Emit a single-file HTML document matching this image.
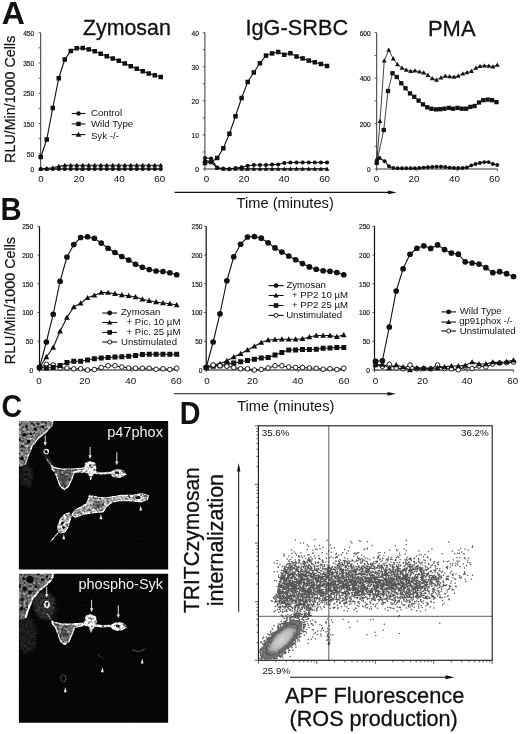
<!DOCTYPE html>
<html><head><meta charset="utf-8"><title>Figure</title>
<style>html,body{margin:0;padding:0;background:#fff}svg{display:block;will-change:transform}text{font-family:"Liberation Sans", Arial, sans-serif;fill:#111}</style>
</head><body>
<svg width="520" height="734" viewBox="0 0 520 734">
<rect width="520" height="734" fill="#fff"/>
<defs>
<filter id="b1" x="-20%" y="-20%" width="140%" height="140%"><feGaussianBlur stdDeviation="0.7"/></filter>
<filter id="b2" x="-20%" y="-20%" width="140%" height="140%"><feGaussianBlur stdDeviation="1.6"/></filter>
<filter id="tx" x="0" y="0" width="100%" height="100%"><feTurbulence type="fractalNoise" baseFrequency="0.55" numOctaves="2" seed="3" result="n"/><feColorMatrix in="n" type="matrix" values="0 0 0 0 1  0 0 0 0 1  0 0 0 0 1  1.6 0 0 0 -0.35" result="m"/><feComposite in="m" in2="SourceGraphic" operator="in"/><feGaussianBlur stdDeviation="0.45"/></filter>
</defs>

<text transform="translate(1.7,23.5) scale(1,1)" font-size="32" font-weight="bold" fill="#000">A</text>
<text transform="translate(0.5,220.2) scale(0.955,1)" font-size="30.7" font-weight="bold" fill="#000">B</text>
<text transform="translate(1.5,416.9) scale(0.92,1)" font-size="31" font-weight="bold" fill="#000">C</text>
<text transform="translate(179.8,424.3) scale(0.94,1)" font-size="30.6" font-weight="bold" fill="#000">D</text>
<path d="M40.7 32.7V169H161" fill="none" stroke="#111" stroke-width="0.85"/>
<path d="M38.5 169H40.7M38.5 153.86H40.7M38.5 138.71H40.7M38.5 123.57H40.7M38.5 108.42H40.7M38.5 93.28H40.7M38.5 78.13H40.7M38.5 62.99H40.7M38.5 47.84H40.7M38.5 32.7H40.7M40.7 169v2.2M80.8 169v2.2M120.9 169v2.2M161 169v2.2" stroke="#222" stroke-width="0.7" fill="none"/>
<text transform="translate(34.2,35.9) scale(1.02,1)" text-anchor="end" font-size="6.5" fill="#111" stroke="#111" stroke-width="0.15">450</text>
<text transform="translate(34.2,66.15) scale(1.02,1)" text-anchor="end" font-size="6.5" fill="#111" stroke="#111" stroke-width="0.15">350</text>
<text transform="translate(34.2,96.4) scale(1.02,1)" text-anchor="end" font-size="6.5" fill="#111" stroke="#111" stroke-width="0.15">250</text>
<text transform="translate(34.2,126.65) scale(1.02,1)" text-anchor="end" font-size="6.5" fill="#111" stroke="#111" stroke-width="0.15">150</text>
<text transform="translate(34.2,156.9) scale(1.02,1)" text-anchor="end" font-size="6.5" fill="#111" stroke="#111" stroke-width="0.15">50</text>
<text transform="translate(34.2,171.7) scale(1.02,1)" text-anchor="end" font-size="6.5" fill="#111" stroke="#111" stroke-width="0.15">0</text>
<text x="40.9" y="182.4" text-anchor="middle" font-size="9.8">0</text>
<text x="79" y="182.4" text-anchor="middle" font-size="9.8">20</text>
<text x="119.2" y="182.4" text-anchor="middle" font-size="9.8">40</text>
<text x="159.7" y="182.4" text-anchor="middle" font-size="9.8">60</text>
<path d="M40.75 168.8L46.75 168.5L52.75 167.7L58.75 166.4L64.75 165.4L70.75 165.2L76.75 165.2L82.75 165.2L88.75 165.2L94.75 165.2L100.75 165.2L106.75 165.2L112.75 165.2L118.75 165.2L124.75 165.2L130.75 165.2L136.75 165.2L142.75 165.2L148.75 165.2L154.75 165.2L160.75 165.2" fill="none" stroke="#111" stroke-width="1.1"/>
<path d="M40.75 166.27L43.28 170.73H38.22Z" fill="#111"/>
<path d="M46.75 165.97L49.28 170.43H44.22Z" fill="#111"/>
<path d="M52.75 165.17L55.28 169.63H50.22Z" fill="#111"/>
<path d="M58.75 163.87L61.28 168.33H56.22Z" fill="#111"/>
<path d="M64.75 162.87L67.28 167.33H62.22Z" fill="#111"/>
<path d="M70.75 162.67L73.28 167.13H68.22Z" fill="#111"/>
<path d="M76.75 162.67L79.28 167.13H74.22Z" fill="#111"/>
<path d="M82.75 162.67L85.28 167.13H80.22Z" fill="#111"/>
<path d="M88.75 162.67L91.28 167.13H86.22Z" fill="#111"/>
<path d="M94.75 162.67L97.28 167.13H92.22Z" fill="#111"/>
<path d="M100.75 162.67L103.28 167.13H98.22Z" fill="#111"/>
<path d="M106.75 162.67L109.28 167.13H104.22Z" fill="#111"/>
<path d="M112.75 162.67L115.28 167.13H110.22Z" fill="#111"/>
<path d="M118.75 162.67L121.28 167.13H116.22Z" fill="#111"/>
<path d="M124.75 162.67L127.28 167.13H122.22Z" fill="#111"/>
<path d="M130.75 162.67L133.28 167.13H128.22Z" fill="#111"/>
<path d="M136.75 162.67L139.28 167.13H134.22Z" fill="#111"/>
<path d="M142.75 162.67L145.28 167.13H140.22Z" fill="#111"/>
<path d="M148.75 162.67L151.28 167.13H146.22Z" fill="#111"/>
<path d="M154.75 162.67L157.28 167.13H152.22Z" fill="#111"/>
<path d="M160.75 162.67L163.28 167.13H158.22Z" fill="#111"/>
<path d="M40.75 169L46.75 169L52.75 169L58.75 169L64.75 169L70.75 169L76.75 169L82.75 169L88.75 169L94.75 169L100.75 169L106.75 169L112.75 169L118.75 169L124.75 169L130.75 169L136.75 169L142.75 169L148.75 169L154.75 169L160.75 169" fill="none" stroke="#111" stroke-width="1.1"/>
<circle cx="40.75" cy="169" r="2.1" fill="#111"/>
<circle cx="46.75" cy="169" r="2.1" fill="#111"/>
<circle cx="52.75" cy="169" r="2.1" fill="#111"/>
<circle cx="58.75" cy="169" r="2.1" fill="#111"/>
<circle cx="64.75" cy="169" r="2.1" fill="#111"/>
<circle cx="70.75" cy="169" r="2.1" fill="#111"/>
<circle cx="76.75" cy="169" r="2.1" fill="#111"/>
<circle cx="82.75" cy="169" r="2.1" fill="#111"/>
<circle cx="88.75" cy="169" r="2.1" fill="#111"/>
<circle cx="94.75" cy="169" r="2.1" fill="#111"/>
<circle cx="100.75" cy="169" r="2.1" fill="#111"/>
<circle cx="106.75" cy="169" r="2.1" fill="#111"/>
<circle cx="112.75" cy="169" r="2.1" fill="#111"/>
<circle cx="118.75" cy="169" r="2.1" fill="#111"/>
<circle cx="124.75" cy="169" r="2.1" fill="#111"/>
<circle cx="130.75" cy="169" r="2.1" fill="#111"/>
<circle cx="136.75" cy="169" r="2.1" fill="#111"/>
<circle cx="142.75" cy="169" r="2.1" fill="#111"/>
<circle cx="148.75" cy="169" r="2.1" fill="#111"/>
<circle cx="154.75" cy="169" r="2.1" fill="#111"/>
<circle cx="160.75" cy="169" r="2.1" fill="#111"/>
<path d="M40.75 157L46.75 139.5L52.75 108L58.75 78.25L64.75 59.5L70.75 51L76.75 48.25L82.75 48L88.75 49.4L94.75 51.25L100.75 53.75L106.75 56.25L112.75 58.5L118.75 60.75L124.75 63.5L130.75 66.25L136.75 68.75L142.75 71.25L148.75 73.5L154.75 75.25L160.75 77" fill="none" stroke="#111" stroke-width="1.1"/>
<rect x="38.5" y="154.75" width="4.5" height="4.5" fill="#111"/>
<rect x="44.5" y="137.25" width="4.5" height="4.5" fill="#111"/>
<rect x="50.5" y="105.75" width="4.5" height="4.5" fill="#111"/>
<rect x="56.5" y="76" width="4.5" height="4.5" fill="#111"/>
<rect x="62.5" y="57.25" width="4.5" height="4.5" fill="#111"/>
<rect x="68.5" y="48.75" width="4.5" height="4.5" fill="#111"/>
<rect x="74.5" y="46" width="4.5" height="4.5" fill="#111"/>
<rect x="80.5" y="45.75" width="4.5" height="4.5" fill="#111"/>
<rect x="86.5" y="47.15" width="4.5" height="4.5" fill="#111"/>
<rect x="92.5" y="49" width="4.5" height="4.5" fill="#111"/>
<rect x="98.5" y="51.5" width="4.5" height="4.5" fill="#111"/>
<rect x="104.5" y="54" width="4.5" height="4.5" fill="#111"/>
<rect x="110.5" y="56.25" width="4.5" height="4.5" fill="#111"/>
<rect x="116.5" y="58.5" width="4.5" height="4.5" fill="#111"/>
<rect x="122.5" y="61.25" width="4.5" height="4.5" fill="#111"/>
<rect x="128.5" y="64" width="4.5" height="4.5" fill="#111"/>
<rect x="134.5" y="66.5" width="4.5" height="4.5" fill="#111"/>
<rect x="140.5" y="69" width="4.5" height="4.5" fill="#111"/>
<rect x="146.5" y="71.25" width="4.5" height="4.5" fill="#111"/>
<rect x="152.5" y="73" width="4.5" height="4.5" fill="#111"/>
<rect x="158.5" y="74.75" width="4.5" height="4.5" fill="#111"/>
<path d="M71.7 113.5H85.3" stroke="#111" stroke-width="1.1"/>
<circle cx="78.5" cy="113.5" r="2.2" fill="#111"/>
<text x="90.9" y="115.8" font-size="9.7">Control</text>
<path d="M71.7 123.9H85.3" stroke="#111" stroke-width="1.1"/>
<rect x="76.3" y="121.7" width="4.4" height="4.4" fill="#111"/>
<text x="90.9" y="126.5" font-size="9.7">Wild Type</text>
<path d="M71.7 134.6H85.3" stroke="#111" stroke-width="1.1"/>
<path d="M78.5 131.85L81.25 136.7H75.75Z" fill="#111"/>
<text x="90.9" y="138.7" font-size="9.7">Syk -/-</text>
<path d="M204.9 32.7V169H327.5" fill="none" stroke="#111" stroke-width="0.85"/>
<path d="M202.7 169H204.9M202.7 151.96H204.9M202.7 134.93H204.9M202.7 117.89H204.9M202.7 100.85H204.9M202.7 83.81H204.9M202.7 66.77H204.9M202.7 49.74H204.9M202.7 32.7H204.9M204.9 169v2.2M245.77 169v2.2M286.63 169v2.2M327.5 169v2.2" stroke="#222" stroke-width="0.7" fill="none"/>
<text transform="translate(198.9,36) scale(1.02,1)" text-anchor="end" font-size="6.5" fill="#111" stroke="#111" stroke-width="0.15">40</text>
<text transform="translate(198.9,70.05) scale(1.02,1)" text-anchor="end" font-size="6.5" fill="#111" stroke="#111" stroke-width="0.15">30</text>
<text transform="translate(198.9,104.1) scale(1.02,1)" text-anchor="end" font-size="6.5" fill="#111" stroke="#111" stroke-width="0.15">20</text>
<text transform="translate(198.9,138.15) scale(1.02,1)" text-anchor="end" font-size="6.5" fill="#111" stroke="#111" stroke-width="0.15">10</text>
<text transform="translate(198.9,172.2) scale(1.02,1)" text-anchor="end" font-size="6.5" fill="#111" stroke="#111" stroke-width="0.15">0</text>
<text x="206.6" y="182.4" text-anchor="middle" font-size="9.8">0</text>
<text x="244" y="182.4" text-anchor="middle" font-size="9.8">20</text>
<text x="283.9" y="182.4" text-anchor="middle" font-size="9.8">40</text>
<text x="324.6" y="182.4" text-anchor="middle" font-size="9.8">60</text>
<path d="M205 160L211.1 162L217.2 168L223.3 168.8L229.4 168.8L235.5 168.8L241.6 168.8L247.7 168.8L253.8 168.8L259.9 168.8L266 168.8L272.1 168.8L278.2 168.8L284.3 168.8L290.4 168.8L296.5 168.8L302.6 168.8L308.7 168.8L314.8 168.8L320.9 168.8L327 168.8" fill="none" stroke="#111" stroke-width="1.1"/>
<path d="M205 157.58L207.42 161.85H202.58Z" fill="#111"/>
<path d="M211.1 159.58L213.52 163.85H208.68Z" fill="#111"/>
<path d="M217.2 165.58L219.62 169.85H214.78Z" fill="#111"/>
<path d="M223.3 166.38L225.72 170.65H220.88Z" fill="#111"/>
<path d="M229.4 166.38L231.82 170.65H226.98Z" fill="#111"/>
<path d="M235.5 166.38L237.92 170.65H233.08Z" fill="#111"/>
<path d="M241.6 166.38L244.02 170.65H239.18Z" fill="#111"/>
<path d="M247.7 166.38L250.12 170.65H245.28Z" fill="#111"/>
<path d="M253.8 166.38L256.22 170.65H251.38Z" fill="#111"/>
<path d="M259.9 166.38L262.32 170.65H257.48Z" fill="#111"/>
<path d="M266 166.38L268.42 170.65H263.58Z" fill="#111"/>
<path d="M272.1 166.38L274.52 170.65H269.68Z" fill="#111"/>
<path d="M278.2 166.38L280.62 170.65H275.78Z" fill="#111"/>
<path d="M284.3 166.38L286.72 170.65H281.88Z" fill="#111"/>
<path d="M290.4 166.38L292.82 170.65H287.98Z" fill="#111"/>
<path d="M296.5 166.38L298.92 170.65H294.08Z" fill="#111"/>
<path d="M302.6 166.38L305.02 170.65H300.18Z" fill="#111"/>
<path d="M308.7 166.38L311.12 170.65H306.28Z" fill="#111"/>
<path d="M314.8 166.38L317.22 170.65H312.38Z" fill="#111"/>
<path d="M320.9 166.38L323.32 170.65H318.48Z" fill="#111"/>
<path d="M327 166.38L329.42 170.65H324.58Z" fill="#111"/>
<path d="M205 158L211.1 158.5L217.2 167.7L223.3 168.5L229.4 169L235.5 168L241.6 167.4L247.7 165.8L253.8 165L259.9 165L266 165L272.1 164.6L278.2 164.5L284.3 163L290.4 162.5L296.5 162.5L302.6 162.5L308.7 162.5L314.8 162.5L320.9 162.5L327 162.5" fill="none" stroke="#111" stroke-width="1.1"/>
<circle cx="205" cy="158" r="2.1" fill="#111"/>
<circle cx="211.1" cy="158.5" r="2.1" fill="#111"/>
<circle cx="217.2" cy="167.7" r="2.1" fill="#111"/>
<circle cx="223.3" cy="168.5" r="2.1" fill="#111"/>
<circle cx="229.4" cy="169" r="2.1" fill="#111"/>
<circle cx="235.5" cy="168" r="2.1" fill="#111"/>
<circle cx="241.6" cy="167.4" r="2.1" fill="#111"/>
<circle cx="247.7" cy="165.8" r="2.1" fill="#111"/>
<circle cx="253.8" cy="165" r="2.1" fill="#111"/>
<circle cx="259.9" cy="165" r="2.1" fill="#111"/>
<circle cx="266" cy="165" r="2.1" fill="#111"/>
<circle cx="272.1" cy="164.6" r="2.1" fill="#111"/>
<circle cx="278.2" cy="164.5" r="2.1" fill="#111"/>
<circle cx="284.3" cy="163" r="2.1" fill="#111"/>
<circle cx="290.4" cy="162.5" r="2.1" fill="#111"/>
<circle cx="296.5" cy="162.5" r="2.1" fill="#111"/>
<circle cx="302.6" cy="162.5" r="2.1" fill="#111"/>
<circle cx="308.7" cy="162.5" r="2.1" fill="#111"/>
<circle cx="314.8" cy="162.5" r="2.1" fill="#111"/>
<circle cx="320.9" cy="162.5" r="2.1" fill="#111"/>
<circle cx="327" cy="162.5" r="2.1" fill="#111"/>
<path d="M205 163L211.1 162L217.2 158L223.3 148.25L229.4 133.75L235.5 116.25L241.6 98L247.7 82L253.8 72.5L259.9 63.25L266 55.6L272.1 53.4L278.2 52L284.3 54.75L290.4 53.25L296.5 56.5L302.6 58.4L308.7 60.6L314.8 62.25L320.9 64L327 66" fill="none" stroke="#111" stroke-width="1.1"/>
<rect x="202.75" y="160.75" width="4.5" height="4.5" fill="#111"/>
<rect x="208.85" y="159.75" width="4.5" height="4.5" fill="#111"/>
<rect x="214.95" y="155.75" width="4.5" height="4.5" fill="#111"/>
<rect x="221.05" y="146" width="4.5" height="4.5" fill="#111"/>
<rect x="227.15" y="131.5" width="4.5" height="4.5" fill="#111"/>
<rect x="233.25" y="114" width="4.5" height="4.5" fill="#111"/>
<rect x="239.35" y="95.75" width="4.5" height="4.5" fill="#111"/>
<rect x="245.45" y="79.75" width="4.5" height="4.5" fill="#111"/>
<rect x="251.55" y="70.25" width="4.5" height="4.5" fill="#111"/>
<rect x="257.65" y="61" width="4.5" height="4.5" fill="#111"/>
<rect x="263.75" y="53.35" width="4.5" height="4.5" fill="#111"/>
<rect x="269.85" y="51.15" width="4.5" height="4.5" fill="#111"/>
<rect x="275.95" y="49.75" width="4.5" height="4.5" fill="#111"/>
<rect x="282.05" y="52.5" width="4.5" height="4.5" fill="#111"/>
<rect x="288.15" y="51" width="4.5" height="4.5" fill="#111"/>
<rect x="294.25" y="54.25" width="4.5" height="4.5" fill="#111"/>
<rect x="300.35" y="56.15" width="4.5" height="4.5" fill="#111"/>
<rect x="306.45" y="58.35" width="4.5" height="4.5" fill="#111"/>
<rect x="312.55" y="60" width="4.5" height="4.5" fill="#111"/>
<rect x="318.65" y="61.75" width="4.5" height="4.5" fill="#111"/>
<rect x="324.75" y="63.75" width="4.5" height="4.5" fill="#111"/>
<path d="M376.7 32.7V169H497.4" fill="none" stroke="#111" stroke-width="0.85"/>
<path d="M374.5 169H376.7M374.5 146.28H376.7M374.5 123.57H376.7M374.5 100.85H376.7M374.5 78.13H376.7M374.5 55.42H376.7M374.5 32.7H376.7M376.7 169v2.2M416.93 169v2.2M457.17 169v2.2M497.4 169v2.2" stroke="#222" stroke-width="0.7" fill="none"/>
<text transform="translate(370.7,36) scale(1.02,1)" text-anchor="end" font-size="6.5" fill="#111" stroke="#111" stroke-width="0.15">600</text>
<text transform="translate(370.7,81.4) scale(1.02,1)" text-anchor="end" font-size="6.5" fill="#111" stroke="#111" stroke-width="0.15">400</text>
<text transform="translate(370.7,126.8) scale(1.02,1)" text-anchor="end" font-size="6.5" fill="#111" stroke="#111" stroke-width="0.15">200</text>
<text transform="translate(370.7,172.2) scale(1.02,1)" text-anchor="end" font-size="6.5" fill="#111" stroke="#111" stroke-width="0.15">0</text>
<text x="376.6" y="182.4" text-anchor="middle" font-size="9.8">0</text>
<text x="414" y="182.4" text-anchor="middle" font-size="9.8">20</text>
<text x="454.4" y="182.4" text-anchor="middle" font-size="9.8">40</text>
<text x="494.5" y="182.4" text-anchor="middle" font-size="9.8">60</text>
<path d="M376.9 160L379.5 158L384.66 161.25L388.99 166.25L393.32 168L397.65 168.3L401.98 168.3L406.31 168.3L410.64 168.3L414.97 168.2L419.3 168L423.63 167.6L427.96 167.2L432.29 167L436.62 166.8L440.95 166.8L445.28 167L449.61 167.6L453.94 168L458.27 168L462.6 168L466.93 167.4L471.26 165.4L475.59 164L479.92 163L484.25 162.1L488.58 162.1L492.91 164L497.24 165" fill="none" stroke="#111" stroke-width="1.1"/>
<circle cx="376.9" cy="160" r="1.95" fill="#111"/>
<circle cx="379.5" cy="158" r="1.95" fill="#111"/>
<circle cx="384.66" cy="161.25" r="1.95" fill="#111"/>
<circle cx="388.99" cy="166.25" r="1.95" fill="#111"/>
<circle cx="393.32" cy="168" r="1.95" fill="#111"/>
<circle cx="397.65" cy="168.3" r="1.95" fill="#111"/>
<circle cx="401.98" cy="168.3" r="1.95" fill="#111"/>
<circle cx="406.31" cy="168.3" r="1.95" fill="#111"/>
<circle cx="410.64" cy="168.3" r="1.95" fill="#111"/>
<circle cx="414.97" cy="168.2" r="1.95" fill="#111"/>
<circle cx="419.3" cy="168" r="1.95" fill="#111"/>
<circle cx="423.63" cy="167.6" r="1.95" fill="#111"/>
<circle cx="427.96" cy="167.2" r="1.95" fill="#111"/>
<circle cx="432.29" cy="167" r="1.95" fill="#111"/>
<circle cx="436.62" cy="166.8" r="1.95" fill="#111"/>
<circle cx="440.95" cy="166.8" r="1.95" fill="#111"/>
<circle cx="445.28" cy="167" r="1.95" fill="#111"/>
<circle cx="449.61" cy="167.6" r="1.95" fill="#111"/>
<circle cx="453.94" cy="168" r="1.95" fill="#111"/>
<circle cx="458.27" cy="168" r="1.95" fill="#111"/>
<circle cx="462.6" cy="168" r="1.95" fill="#111"/>
<circle cx="466.93" cy="167.4" r="1.95" fill="#111"/>
<circle cx="471.26" cy="165.4" r="1.95" fill="#111"/>
<circle cx="475.59" cy="164" r="1.95" fill="#111"/>
<circle cx="479.92" cy="163" r="1.95" fill="#111"/>
<circle cx="484.25" cy="162.1" r="1.95" fill="#111"/>
<circle cx="488.58" cy="162.1" r="1.95" fill="#111"/>
<circle cx="492.91" cy="164" r="1.95" fill="#111"/>
<circle cx="497.24" cy="165" r="1.95" fill="#111"/>
<path d="M376.75 163L380 121.25L384.25 60.75L388.75 50L393.25 58.75L397.5 64.5L402 68L406.25 70L410.75 71.25L415 70.75L419.5 71.75L423.75 72.6L428 75.2L432.3 78.4L436.5 79.8L441 77.6L445.2 76L449.6 76.5L454 77L458.2 76L462.8 73.6L467 72.5L471.5 71.1L475.9 68L480 66.2L484.4 65.6L488.8 65.8L493 66.7L497.3 64.8" fill="none" stroke="#111" stroke-width="0.8"/>
<path d="M376.75 160.58L379.17 164.85H374.33Z" fill="#111"/>
<path d="M380 118.83L382.42 123.1H377.58Z" fill="#111"/>
<path d="M384.25 58.33L386.67 62.6H381.83Z" fill="#111"/>
<path d="M388.75 47.58L391.17 51.85H386.33Z" fill="#111"/>
<path d="M393.25 56.33L395.67 60.6H390.83Z" fill="#111"/>
<path d="M397.5 62.08L399.92 66.35H395.08Z" fill="#111"/>
<path d="M402 65.58L404.42 69.85H399.58Z" fill="#111"/>
<path d="M406.25 67.58L408.67 71.85H403.83Z" fill="#111"/>
<path d="M410.75 68.83L413.17 73.1H408.33Z" fill="#111"/>
<path d="M415 68.33L417.42 72.6H412.58Z" fill="#111"/>
<path d="M419.5 69.33L421.92 73.6H417.08Z" fill="#111"/>
<path d="M423.75 70.18L426.17 74.45H421.33Z" fill="#111"/>
<path d="M428 72.78L430.42 77.05H425.58Z" fill="#111"/>
<path d="M432.3 75.98L434.72 80.25H429.88Z" fill="#111"/>
<path d="M436.5 77.38L438.92 81.65H434.08Z" fill="#111"/>
<path d="M441 75.18L443.42 79.45H438.58Z" fill="#111"/>
<path d="M445.2 73.58L447.62 77.85H442.78Z" fill="#111"/>
<path d="M449.6 74.08L452.02 78.35H447.18Z" fill="#111"/>
<path d="M454 74.58L456.42 78.85H451.58Z" fill="#111"/>
<path d="M458.2 73.58L460.62 77.85H455.78Z" fill="#111"/>
<path d="M462.8 71.18L465.22 75.45H460.38Z" fill="#111"/>
<path d="M467 70.08L469.42 74.35H464.58Z" fill="#111"/>
<path d="M471.5 68.68L473.92 72.95H469.08Z" fill="#111"/>
<path d="M475.9 65.58L478.32 69.85H473.48Z" fill="#111"/>
<path d="M480 63.78L482.42 68.05H477.58Z" fill="#111"/>
<path d="M484.4 63.18L486.82 67.45H481.98Z" fill="#111"/>
<path d="M488.8 63.38L491.22 67.65H486.38Z" fill="#111"/>
<path d="M493 64.28L495.42 68.55H490.58Z" fill="#111"/>
<path d="M497.3 62.38L499.72 66.65H494.88Z" fill="#111"/>
<path d="M376.75 162.5L383.75 130L388 91L392.5 73.25L396.75 77L401.25 83.25L405.5 88.25L410 93.4L414.25 96.8L418.6 100.6L423 104.4L427.3 107.3L431.5 108.8L436 109.4L440.2 109.2L444.4 108.7L448.8 107.9L453 108.7L457.5 107.9L461.7 108.7L466.2 108.7L470.4 106.9L474.6 106L479 102.5L483.3 100.2L487.7 99.6L492.1 100.2L496.5 102.1" fill="none" stroke="#111" stroke-width="0.8"/>
<rect x="374.6" y="160.35" width="4.3" height="4.3" fill="#111"/>
<rect x="381.6" y="127.85" width="4.3" height="4.3" fill="#111"/>
<rect x="385.85" y="88.85" width="4.3" height="4.3" fill="#111"/>
<rect x="390.35" y="71.1" width="4.3" height="4.3" fill="#111"/>
<rect x="394.6" y="74.85" width="4.3" height="4.3" fill="#111"/>
<rect x="399.1" y="81.1" width="4.3" height="4.3" fill="#111"/>
<rect x="403.35" y="86.1" width="4.3" height="4.3" fill="#111"/>
<rect x="407.85" y="91.25" width="4.3" height="4.3" fill="#111"/>
<rect x="412.1" y="94.65" width="4.3" height="4.3" fill="#111"/>
<rect x="416.45" y="98.45" width="4.3" height="4.3" fill="#111"/>
<rect x="420.85" y="102.25" width="4.3" height="4.3" fill="#111"/>
<rect x="425.15" y="105.15" width="4.3" height="4.3" fill="#111"/>
<rect x="429.35" y="106.65" width="4.3" height="4.3" fill="#111"/>
<rect x="433.85" y="107.25" width="4.3" height="4.3" fill="#111"/>
<rect x="438.05" y="107.05" width="4.3" height="4.3" fill="#111"/>
<rect x="442.25" y="106.55" width="4.3" height="4.3" fill="#111"/>
<rect x="446.65" y="105.75" width="4.3" height="4.3" fill="#111"/>
<rect x="450.85" y="106.55" width="4.3" height="4.3" fill="#111"/>
<rect x="455.35" y="105.75" width="4.3" height="4.3" fill="#111"/>
<rect x="459.55" y="106.55" width="4.3" height="4.3" fill="#111"/>
<rect x="464.05" y="106.55" width="4.3" height="4.3" fill="#111"/>
<rect x="468.25" y="104.75" width="4.3" height="4.3" fill="#111"/>
<rect x="472.45" y="103.85" width="4.3" height="4.3" fill="#111"/>
<rect x="476.85" y="100.35" width="4.3" height="4.3" fill="#111"/>
<rect x="481.15" y="98.05" width="4.3" height="4.3" fill="#111"/>
<rect x="485.55" y="97.45" width="4.3" height="4.3" fill="#111"/>
<rect x="489.95" y="98.05" width="4.3" height="4.3" fill="#111"/>
<rect x="494.35" y="99.95" width="4.3" height="4.3" fill="#111"/>
<text x="83" y="35.3" font-size="21.3" textLength="87.8" lengthAdjust="spacingAndGlyphs" stroke="#111" stroke-width="0.3">Zymosan</text>
<text x="245.5" y="35.3" font-size="21.3" textLength="102.6" lengthAdjust="spacingAndGlyphs" stroke="#111" stroke-width="0.3">IgG-SRBC</text>
<text x="428" y="36.4" font-size="21.3" textLength="47.5" lengthAdjust="spacingAndGlyphs" stroke="#111" stroke-width="0.3">PMA</text>
<text transform="translate(15.1,162.9) rotate(-90)" font-size="15.1" textLength="127.2" lengthAdjust="spacingAndGlyphs" stroke="#111" stroke-width="0.2">RLU/Min/1000 Cells</text>
<text transform="translate(15.1,364.2) rotate(-90)" font-size="15.1" textLength="127.2" lengthAdjust="spacingAndGlyphs" stroke="#111" stroke-width="0.2">RLU/Min/1000 Cells</text>
<path d="M174.6 192.4H389.1" stroke="#111" stroke-width="1.1"/>
<path d="M396.6 192.4L388.1 190.5V194.3Z" fill="#111"/>
<path d="M174 393.8H388.5" stroke="#111" stroke-width="1.1"/>
<path d="M396 393.8L387.5 391.9V395.7Z" fill="#111"/>
<text x="236.6" y="207.8" font-size="14.5" textLength="97.2" lengthAdjust="spacingAndGlyphs">Time (minutes)</text>
<text x="237.2" y="410.6" font-size="14.5" textLength="97.2" lengthAdjust="spacingAndGlyphs">Time (minutes)</text>
<path d="M39.5 226.3V370H177" fill="none" stroke="#111" stroke-width="1.2"/>
<path d="M37.3 370H39.5M37.3 341.26H39.5M37.3 312.52H39.5M37.3 283.78H39.5M37.3 255.04H39.5M37.3 226.3H39.5M39.5 370v2.2M85.33 370v2.2M131.17 370v2.2M177 370v2.2" stroke="#222" stroke-width="0.7" fill="none"/>
<text transform="translate(33.2,229.2) scale(1.02,1)" text-anchor="end" font-size="6.5" fill="#111" stroke="#111" stroke-width="0.15">250</text>
<text transform="translate(33.2,257.92) scale(1.02,1)" text-anchor="end" font-size="6.5" fill="#111" stroke="#111" stroke-width="0.15">200</text>
<text transform="translate(33.2,286.64) scale(1.02,1)" text-anchor="end" font-size="6.5" fill="#111" stroke="#111" stroke-width="0.15">150</text>
<text transform="translate(33.2,315.36) scale(1.02,1)" text-anchor="end" font-size="6.5" fill="#111" stroke="#111" stroke-width="0.15">100</text>
<text transform="translate(33.2,344.08) scale(1.02,1)" text-anchor="end" font-size="6.5" fill="#111" stroke="#111" stroke-width="0.15">50</text>
<text transform="translate(33.2,372.8) scale(1.02,1)" text-anchor="end" font-size="6.5" fill="#111" stroke="#111" stroke-width="0.15">0</text>
<text x="39.1" y="384.2" text-anchor="middle" font-size="9.8">0</text>
<text x="84.8" y="384.2" text-anchor="middle" font-size="9.8">20</text>
<text x="130.7" y="384.2" text-anchor="middle" font-size="9.8">40</text>
<text x="176.3" y="384.2" text-anchor="middle" font-size="9.8">60</text>
<path d="M39.5 367.5L46.36 364.25L53.22 365L60.08 368L66.94 368L73.8 368.75L80.66 368.75L87.52 370L94.38 369.5L101.24 367.5L108.1 365.75L114.96 365.75L121.82 367L128.68 368L135.54 368.25L142.4 368.25L149.26 368.25L156.12 369.25L162.98 368.75L169.84 369.5L176.7 368.25" fill="none" stroke="#111" stroke-width="1.1"/>
<circle cx="39.5" cy="367.5" r="2.3" fill="#fff" stroke="#111" stroke-width="0.95"/>
<circle cx="46.36" cy="364.25" r="2.3" fill="#fff" stroke="#111" stroke-width="0.95"/>
<circle cx="53.22" cy="365" r="2.3" fill="#fff" stroke="#111" stroke-width="0.95"/>
<circle cx="60.08" cy="368" r="2.3" fill="#fff" stroke="#111" stroke-width="0.95"/>
<circle cx="66.94" cy="368" r="2.3" fill="#fff" stroke="#111" stroke-width="0.95"/>
<circle cx="73.8" cy="368.75" r="2.3" fill="#fff" stroke="#111" stroke-width="0.95"/>
<circle cx="80.66" cy="368.75" r="2.3" fill="#fff" stroke="#111" stroke-width="0.95"/>
<circle cx="87.52" cy="370" r="2.3" fill="#fff" stroke="#111" stroke-width="0.95"/>
<circle cx="94.38" cy="369.5" r="2.3" fill="#fff" stroke="#111" stroke-width="0.95"/>
<circle cx="101.24" cy="367.5" r="2.3" fill="#fff" stroke="#111" stroke-width="0.95"/>
<circle cx="108.1" cy="365.75" r="2.3" fill="#fff" stroke="#111" stroke-width="0.95"/>
<circle cx="114.96" cy="365.75" r="2.3" fill="#fff" stroke="#111" stroke-width="0.95"/>
<circle cx="121.82" cy="367" r="2.3" fill="#fff" stroke="#111" stroke-width="0.95"/>
<circle cx="128.68" cy="368" r="2.3" fill="#fff" stroke="#111" stroke-width="0.95"/>
<circle cx="135.54" cy="368.25" r="2.3" fill="#fff" stroke="#111" stroke-width="0.95"/>
<circle cx="142.4" cy="368.25" r="2.3" fill="#fff" stroke="#111" stroke-width="0.95"/>
<circle cx="149.26" cy="368.25" r="2.3" fill="#fff" stroke="#111" stroke-width="0.95"/>
<circle cx="156.12" cy="369.25" r="2.3" fill="#fff" stroke="#111" stroke-width="0.95"/>
<circle cx="162.98" cy="368.75" r="2.3" fill="#fff" stroke="#111" stroke-width="0.95"/>
<circle cx="169.84" cy="369.5" r="2.3" fill="#fff" stroke="#111" stroke-width="0.95"/>
<circle cx="176.7" cy="368.25" r="2.3" fill="#fff" stroke="#111" stroke-width="0.95"/>
<path d="M39.5 367.5L46.36 368L53.22 367.5L60.08 365.5L66.94 362.5L73.8 361.25L80.66 361.25L87.52 360L94.38 358.75L101.24 358L108.1 357.5L114.96 357L121.82 356.75L128.68 356.25L135.54 355.5L142.4 354.5L149.26 354.25L156.12 354.25L162.98 354.25L169.84 354.25L176.7 354.25" fill="none" stroke="#111" stroke-width="1.1"/>
<rect x="37" y="365" width="5" height="5" fill="#111"/>
<rect x="43.86" y="365.5" width="5" height="5" fill="#111"/>
<rect x="50.72" y="365" width="5" height="5" fill="#111"/>
<rect x="57.58" y="363" width="5" height="5" fill="#111"/>
<rect x="64.44" y="360" width="5" height="5" fill="#111"/>
<rect x="71.3" y="358.75" width="5" height="5" fill="#111"/>
<rect x="78.16" y="358.75" width="5" height="5" fill="#111"/>
<rect x="85.02" y="357.5" width="5" height="5" fill="#111"/>
<rect x="91.88" y="356.25" width="5" height="5" fill="#111"/>
<rect x="98.74" y="355.5" width="5" height="5" fill="#111"/>
<rect x="105.6" y="355" width="5" height="5" fill="#111"/>
<rect x="112.46" y="354.5" width="5" height="5" fill="#111"/>
<rect x="119.32" y="354.25" width="5" height="5" fill="#111"/>
<rect x="126.18" y="353.75" width="5" height="5" fill="#111"/>
<rect x="133.04" y="353" width="5" height="5" fill="#111"/>
<rect x="139.9" y="352" width="5" height="5" fill="#111"/>
<rect x="146.76" y="351.75" width="5" height="5" fill="#111"/>
<rect x="153.62" y="351.75" width="5" height="5" fill="#111"/>
<rect x="160.48" y="351.75" width="5" height="5" fill="#111"/>
<rect x="167.34" y="351.75" width="5" height="5" fill="#111"/>
<rect x="174.2" y="351.75" width="5" height="5" fill="#111"/>
<path d="M39.5 367.5L46.36 357L53.22 347.5L60.08 331.25L66.94 317.5L73.8 307L80.66 303.25L87.52 297.8L94.38 295.3L101.24 292.5L108.1 292.6L114.96 293.75L121.82 295L128.68 295.7L135.54 297L142.4 299.25L149.26 300.75L156.12 302L162.98 303L169.84 303.75L176.7 305" fill="none" stroke="#111" stroke-width="1.1"/>
<path d="M39.5 364.58L42.41 369.73H36.59Z" fill="#111"/>
<path d="M46.36 354.08L49.27 359.23H43.45Z" fill="#111"/>
<path d="M53.22 344.58L56.13 349.73H50.3Z" fill="#111"/>
<path d="M60.08 328.33L62.99 333.48H57.16Z" fill="#111"/>
<path d="M66.94 314.58L69.86 319.73H64.02Z" fill="#111"/>
<path d="M73.8 304.08L76.72 309.23H70.89Z" fill="#111"/>
<path d="M80.66 300.33L83.58 305.48H77.74Z" fill="#111"/>
<path d="M87.52 294.88L90.44 300.03H84.61Z" fill="#111"/>
<path d="M94.38 292.38L97.3 297.53H91.46Z" fill="#111"/>
<path d="M101.24 289.58L104.16 294.73H98.33Z" fill="#111"/>
<path d="M108.1 289.69L111.02 294.83H105.19Z" fill="#111"/>
<path d="M114.96 290.83L117.88 295.98H112.05Z" fill="#111"/>
<path d="M121.82 292.08L124.74 297.23H118.91Z" fill="#111"/>
<path d="M128.68 292.78L131.59 297.93H125.77Z" fill="#111"/>
<path d="M135.54 294.08L138.46 299.23H132.63Z" fill="#111"/>
<path d="M142.4 296.33L145.31 301.48H139.49Z" fill="#111"/>
<path d="M149.26 297.83L152.17 302.98H146.34Z" fill="#111"/>
<path d="M156.12 299.08L159.03 304.23H153.21Z" fill="#111"/>
<path d="M162.98 300.08L165.9 305.23H160.07Z" fill="#111"/>
<path d="M169.84 300.83L172.75 305.98H166.93Z" fill="#111"/>
<path d="M176.7 302.08L179.62 307.23H173.79Z" fill="#111"/>
<path d="M39.5 367.5L46.36 342L53.22 314.25L60.08 281.25L66.94 257L73.8 244.5L80.66 237.5L87.52 236.75L94.38 238.25L101.24 243.1L108.1 248.25L114.96 252.5L121.82 256.5L128.68 260L135.54 264.25L142.4 267.25L149.26 269.5L156.12 271L162.98 271.5L169.84 272.75L176.7 274.75" fill="none" stroke="#111" stroke-width="1.1"/>
<circle cx="39.5" cy="367.5" r="2.85" fill="#111"/>
<circle cx="46.36" cy="342" r="2.85" fill="#111"/>
<circle cx="53.22" cy="314.25" r="2.85" fill="#111"/>
<circle cx="60.08" cy="281.25" r="2.85" fill="#111"/>
<circle cx="66.94" cy="257" r="2.85" fill="#111"/>
<circle cx="73.8" cy="244.5" r="2.85" fill="#111"/>
<circle cx="80.66" cy="237.5" r="2.85" fill="#111"/>
<circle cx="87.52" cy="236.75" r="2.85" fill="#111"/>
<circle cx="94.38" cy="238.25" r="2.85" fill="#111"/>
<circle cx="101.24" cy="243.1" r="2.85" fill="#111"/>
<circle cx="108.1" cy="248.25" r="2.85" fill="#111"/>
<circle cx="114.96" cy="252.5" r="2.85" fill="#111"/>
<circle cx="121.82" cy="256.5" r="2.85" fill="#111"/>
<circle cx="128.68" cy="260" r="2.85" fill="#111"/>
<circle cx="135.54" cy="264.25" r="2.85" fill="#111"/>
<circle cx="142.4" cy="267.25" r="2.85" fill="#111"/>
<circle cx="149.26" cy="269.5" r="2.85" fill="#111"/>
<circle cx="156.12" cy="271" r="2.85" fill="#111"/>
<circle cx="162.98" cy="271.5" r="2.85" fill="#111"/>
<circle cx="169.84" cy="272.75" r="2.85" fill="#111"/>
<circle cx="176.7" cy="274.75" r="2.85" fill="#111"/>
<path d="M102.3 313H117.1" stroke="#111" stroke-width="1.1"/>
<circle cx="109.7" cy="313" r="2.4" fill="#111"/>
<text x="121" y="315.2" font-size="9.6">Zymosan</text>
<path d="M102.3 322.5H117.1" stroke="#111" stroke-width="1.1"/>
<path d="M109.7 319.86L112.34 324.52H107.06Z" fill="#111"/>
<text x="126.6" y="325.4" font-size="9.6">+ Pic. 10 µM</text>
<path d="M102.3 332.4H117.1" stroke="#111" stroke-width="1.1"/>
<rect x="107.4" y="330.1" width="4.6" height="4.6" fill="#111"/>
<text x="126.6" y="335.1" font-size="9.6">+ Pic. 25 µM</text>
<path d="M102.3 342H117.1" stroke="#111" stroke-width="1.1"/>
<circle cx="109.7" cy="342" r="2" fill="#fff" stroke="#111" stroke-width="0.95"/>
<text x="121" y="345" font-size="9.6">Unstimulated</text>
<path d="M206.2 226.3V370H344" fill="none" stroke="#111" stroke-width="1.2"/>
<path d="M204 370H206.2M204 341.26H206.2M204 312.52H206.2M204 283.78H206.2M204 255.04H206.2M204 226.3H206.2M206.2 370v2.2M252.13 370v2.2M298.07 370v2.2M344 370v2.2" stroke="#222" stroke-width="0.7" fill="none"/>
<text transform="translate(202.5,229.2) scale(1.02,1)" text-anchor="end" font-size="6.5" fill="#111" stroke="#111" stroke-width="0.15">250</text>
<text transform="translate(202.5,257.92) scale(1.02,1)" text-anchor="end" font-size="6.5" fill="#111" stroke="#111" stroke-width="0.15">200</text>
<text transform="translate(202.5,286.64) scale(1.02,1)" text-anchor="end" font-size="6.5" fill="#111" stroke="#111" stroke-width="0.15">150</text>
<text transform="translate(202.5,315.36) scale(1.02,1)" text-anchor="end" font-size="6.5" fill="#111" stroke="#111" stroke-width="0.15">100</text>
<text transform="translate(202.5,344.08) scale(1.02,1)" text-anchor="end" font-size="6.5" fill="#111" stroke="#111" stroke-width="0.15">50</text>
<text transform="translate(202.5,372.8) scale(1.02,1)" text-anchor="end" font-size="6.5" fill="#111" stroke="#111" stroke-width="0.15">0</text>
<text x="207" y="384.2" text-anchor="middle" font-size="9.8">0</text>
<text x="252.5" y="384.2" text-anchor="middle" font-size="9.8">20</text>
<text x="297.8" y="384.2" text-anchor="middle" font-size="9.8">40</text>
<text x="344" y="384.2" text-anchor="middle" font-size="9.8">60</text>
<path d="M206.25 367.5L213.12 366.25L220 365.75L226.88 364.25L233.75 363L240.62 361.75L247.5 360.5L254.38 359.25L261.25 358L268.12 357.5L275 355L281.88 352.5L288.75 350L295.62 350L302.5 349.5L309.38 349.5L316.25 349.25L323.12 348.25L330 348L336.88 347.5L343.75 347.5" fill="none" stroke="#111" stroke-width="1.1"/>
<rect x="203.75" y="365" width="5" height="5" fill="#111"/>
<rect x="210.62" y="363.75" width="5" height="5" fill="#111"/>
<rect x="217.5" y="363.25" width="5" height="5" fill="#111"/>
<rect x="224.38" y="361.75" width="5" height="5" fill="#111"/>
<rect x="231.25" y="360.5" width="5" height="5" fill="#111"/>
<rect x="238.12" y="359.25" width="5" height="5" fill="#111"/>
<rect x="245" y="358" width="5" height="5" fill="#111"/>
<rect x="251.88" y="356.75" width="5" height="5" fill="#111"/>
<rect x="258.75" y="355.5" width="5" height="5" fill="#111"/>
<rect x="265.62" y="355" width="5" height="5" fill="#111"/>
<rect x="272.5" y="352.5" width="5" height="5" fill="#111"/>
<rect x="279.38" y="350" width="5" height="5" fill="#111"/>
<rect x="286.25" y="347.5" width="5" height="5" fill="#111"/>
<rect x="293.12" y="347.5" width="5" height="5" fill="#111"/>
<rect x="300" y="347" width="5" height="5" fill="#111"/>
<rect x="306.88" y="347" width="5" height="5" fill="#111"/>
<rect x="313.75" y="346.75" width="5" height="5" fill="#111"/>
<rect x="320.62" y="345.75" width="5" height="5" fill="#111"/>
<rect x="327.5" y="345.5" width="5" height="5" fill="#111"/>
<rect x="334.38" y="345" width="5" height="5" fill="#111"/>
<rect x="341.25" y="345" width="5" height="5" fill="#111"/>
<path d="M206.25 367.5L213.12 365L220 363.75L226.88 360.75L233.75 357L240.62 353.75L247.5 350L254.38 346.25L261.25 342.5L268.12 340L275 339.5L281.88 339.25L288.75 339.25L295.62 339.25L302.5 338.75L309.38 337L316.25 335.5L323.12 335.5L330 335.5L336.88 336.75L343.75 335" fill="none" stroke="#111" stroke-width="1.1"/>
<path d="M206.25 364.58L209.16 369.73H203.34Z" fill="#111"/>
<path d="M213.12 362.08L216.04 367.23H210.21Z" fill="#111"/>
<path d="M220 360.83L222.91 365.98H217.09Z" fill="#111"/>
<path d="M226.88 357.83L229.79 362.98H223.96Z" fill="#111"/>
<path d="M233.75 354.08L236.66 359.23H230.84Z" fill="#111"/>
<path d="M240.62 350.83L243.54 355.98H237.71Z" fill="#111"/>
<path d="M247.5 347.08L250.41 352.23H244.59Z" fill="#111"/>
<path d="M254.38 343.33L257.29 348.48H251.46Z" fill="#111"/>
<path d="M261.25 339.58L264.17 344.73H258.33Z" fill="#111"/>
<path d="M268.12 337.08L271.04 342.23H265.21Z" fill="#111"/>
<path d="M275 336.58L277.92 341.73H272.08Z" fill="#111"/>
<path d="M281.88 336.33L284.79 341.48H278.96Z" fill="#111"/>
<path d="M288.75 336.33L291.67 341.48H285.83Z" fill="#111"/>
<path d="M295.62 336.33L298.54 341.48H292.71Z" fill="#111"/>
<path d="M302.5 335.83L305.42 340.98H299.58Z" fill="#111"/>
<path d="M309.38 334.08L312.29 339.23H306.46Z" fill="#111"/>
<path d="M316.25 332.58L319.17 337.73H313.33Z" fill="#111"/>
<path d="M323.12 332.58L326.04 337.73H320.21Z" fill="#111"/>
<path d="M330 332.58L332.92 337.73H327.08Z" fill="#111"/>
<path d="M336.88 333.83L339.79 338.98H333.96Z" fill="#111"/>
<path d="M343.75 332.08L346.67 337.23H340.83Z" fill="#111"/>
<path d="M206.25 367.5L213.12 365L220 365.75L226.88 366.25L233.75 367.5L240.62 368.75L247.5 368.75L254.38 370L261.25 369.5L268.12 368L275 365.75L281.88 365.75L288.75 367L295.62 367.5L302.5 367.5L309.38 368L316.25 368.25L323.12 369.25L330 368.75L336.88 369.5L343.75 368.25" fill="none" stroke="#111" stroke-width="1.1"/>
<circle cx="206.25" cy="367.5" r="2.3" fill="#fff" stroke="#111" stroke-width="0.95"/>
<circle cx="213.12" cy="365" r="2.3" fill="#fff" stroke="#111" stroke-width="0.95"/>
<circle cx="220" cy="365.75" r="2.3" fill="#fff" stroke="#111" stroke-width="0.95"/>
<circle cx="226.88" cy="366.25" r="2.3" fill="#fff" stroke="#111" stroke-width="0.95"/>
<circle cx="233.75" cy="367.5" r="2.3" fill="#fff" stroke="#111" stroke-width="0.95"/>
<circle cx="240.62" cy="368.75" r="2.3" fill="#fff" stroke="#111" stroke-width="0.95"/>
<circle cx="247.5" cy="368.75" r="2.3" fill="#fff" stroke="#111" stroke-width="0.95"/>
<circle cx="254.38" cy="370" r="2.3" fill="#fff" stroke="#111" stroke-width="0.95"/>
<circle cx="261.25" cy="369.5" r="2.3" fill="#fff" stroke="#111" stroke-width="0.95"/>
<circle cx="268.12" cy="368" r="2.3" fill="#fff" stroke="#111" stroke-width="0.95"/>
<circle cx="275" cy="365.75" r="2.3" fill="#fff" stroke="#111" stroke-width="0.95"/>
<circle cx="281.88" cy="365.75" r="2.3" fill="#fff" stroke="#111" stroke-width="0.95"/>
<circle cx="288.75" cy="367" r="2.3" fill="#fff" stroke="#111" stroke-width="0.95"/>
<circle cx="295.62" cy="367.5" r="2.3" fill="#fff" stroke="#111" stroke-width="0.95"/>
<circle cx="302.5" cy="367.5" r="2.3" fill="#fff" stroke="#111" stroke-width="0.95"/>
<circle cx="309.38" cy="368" r="2.3" fill="#fff" stroke="#111" stroke-width="0.95"/>
<circle cx="316.25" cy="368.25" r="2.3" fill="#fff" stroke="#111" stroke-width="0.95"/>
<circle cx="323.12" cy="369.25" r="2.3" fill="#fff" stroke="#111" stroke-width="0.95"/>
<circle cx="330" cy="368.75" r="2.3" fill="#fff" stroke="#111" stroke-width="0.95"/>
<circle cx="336.88" cy="369.5" r="2.3" fill="#fff" stroke="#111" stroke-width="0.95"/>
<circle cx="343.75" cy="368.25" r="2.3" fill="#fff" stroke="#111" stroke-width="0.95"/>
<path d="M206.25 367.5L213.12 342L220 313.75L226.88 280.75L233.75 256.75L240.62 244.25L247.5 237L254.38 236.5L261.25 238.2L268.12 242.75L275 247.9L281.88 252L288.75 256L295.62 259.75L302.5 263.6L309.38 266.9L316.25 269.25L323.12 270.75L330 271.25L336.88 272.5L343.75 274.75" fill="none" stroke="#111" stroke-width="1.1"/>
<circle cx="206.25" cy="367.5" r="2.85" fill="#111"/>
<circle cx="213.12" cy="342" r="2.85" fill="#111"/>
<circle cx="220" cy="313.75" r="2.85" fill="#111"/>
<circle cx="226.88" cy="280.75" r="2.85" fill="#111"/>
<circle cx="233.75" cy="256.75" r="2.85" fill="#111"/>
<circle cx="240.62" cy="244.25" r="2.85" fill="#111"/>
<circle cx="247.5" cy="237" r="2.85" fill="#111"/>
<circle cx="254.38" cy="236.5" r="2.85" fill="#111"/>
<circle cx="261.25" cy="238.2" r="2.85" fill="#111"/>
<circle cx="268.12" cy="242.75" r="2.85" fill="#111"/>
<circle cx="275" cy="247.9" r="2.85" fill="#111"/>
<circle cx="281.88" cy="252" r="2.85" fill="#111"/>
<circle cx="288.75" cy="256" r="2.85" fill="#111"/>
<circle cx="295.62" cy="259.75" r="2.85" fill="#111"/>
<circle cx="302.5" cy="263.6" r="2.85" fill="#111"/>
<circle cx="309.38" cy="266.9" r="2.85" fill="#111"/>
<circle cx="316.25" cy="269.25" r="2.85" fill="#111"/>
<circle cx="323.12" cy="270.75" r="2.85" fill="#111"/>
<circle cx="330" cy="271.25" r="2.85" fill="#111"/>
<circle cx="336.88" cy="272.5" r="2.85" fill="#111"/>
<circle cx="343.75" cy="274.75" r="2.85" fill="#111"/>
<path d="M268.6 285.6H283.6" stroke="#111" stroke-width="1.1"/>
<circle cx="276.1" cy="285.6" r="2.4" fill="#111"/>
<text x="286.4" y="288.2" font-size="9.6">Zymosan</text>
<path d="M268.6 295.5H283.6" stroke="#111" stroke-width="1.1"/>
<path d="M276.1 292.86L278.74 297.52H273.46Z" fill="#111"/>
<text x="292" y="298.1" font-size="9.6">+ PP2 10 µM</text>
<path d="M268.6 305.5H283.6" stroke="#111" stroke-width="1.1"/>
<rect x="273.8" y="303.2" width="4.6" height="4.6" fill="#111"/>
<text x="292" y="308.1" font-size="9.6">+ PP2 25 µM</text>
<path d="M268.6 315.4H283.6" stroke="#111" stroke-width="1.1"/>
<circle cx="276.1" cy="315.4" r="2" fill="#fff" stroke="#111" stroke-width="0.95"/>
<text x="286.2" y="318" font-size="9.6">Unstimulated</text>
<path d="M374.5 226.3V370H513.5" fill="none" stroke="#111" stroke-width="1.2"/>
<path d="M372.3 370H374.5M372.3 341.26H374.5M372.3 312.52H374.5M372.3 283.78H374.5M372.3 255.04H374.5M372.3 226.3H374.5M374.5 370v2.2M420.83 370v2.2M467.17 370v2.2M513.5 370v2.2" stroke="#222" stroke-width="0.7" fill="none"/>
<text transform="translate(370,229.2) scale(1.02,1)" text-anchor="end" font-size="6.5" fill="#111" stroke="#111" stroke-width="0.15">250</text>
<text transform="translate(370,257.92) scale(1.02,1)" text-anchor="end" font-size="6.5" fill="#111" stroke="#111" stroke-width="0.15">200</text>
<text transform="translate(370,286.64) scale(1.02,1)" text-anchor="end" font-size="6.5" fill="#111" stroke="#111" stroke-width="0.15">150</text>
<text transform="translate(370,315.36) scale(1.02,1)" text-anchor="end" font-size="6.5" fill="#111" stroke="#111" stroke-width="0.15">100</text>
<text transform="translate(370,344.08) scale(1.02,1)" text-anchor="end" font-size="6.5" fill="#111" stroke="#111" stroke-width="0.15">50</text>
<text transform="translate(370,372.8) scale(1.02,1)" text-anchor="end" font-size="6.5" fill="#111" stroke="#111" stroke-width="0.15">0</text>
<text x="375.5" y="384.2" text-anchor="middle" font-size="9.8">0</text>
<text x="422.5" y="384.2" text-anchor="middle" font-size="9.8">20</text>
<text x="467" y="384.2" text-anchor="middle" font-size="9.8">40</text>
<text x="512.7" y="384.2" text-anchor="middle" font-size="9.8">60</text>
<path d="M375.5 364.5L382.4 366.25L389.3 364.25L396.2 368L403.1 368.75L410 365L416.9 368.75L423.8 368.5L430.7 368.8L437.6 365L444.5 368.5L451.4 368.8L458.3 369.8L465.2 366.9L472.1 368.5L479 366L485.9 366.9L492.8 364L499.7 363L506.6 362.7L513.5 362.1" fill="none" stroke="#111" stroke-width="1.1"/>
<circle cx="375.5" cy="364.5" r="2.3" fill="#fff" stroke="#111" stroke-width="0.95"/>
<circle cx="382.4" cy="366.25" r="2.3" fill="#fff" stroke="#111" stroke-width="0.95"/>
<circle cx="389.3" cy="364.25" r="2.3" fill="#fff" stroke="#111" stroke-width="0.95"/>
<circle cx="396.2" cy="368" r="2.3" fill="#fff" stroke="#111" stroke-width="0.95"/>
<circle cx="403.1" cy="368.75" r="2.3" fill="#fff" stroke="#111" stroke-width="0.95"/>
<circle cx="410" cy="365" r="2.3" fill="#fff" stroke="#111" stroke-width="0.95"/>
<circle cx="416.9" cy="368.75" r="2.3" fill="#fff" stroke="#111" stroke-width="0.95"/>
<circle cx="423.8" cy="368.5" r="2.3" fill="#fff" stroke="#111" stroke-width="0.95"/>
<circle cx="430.7" cy="368.8" r="2.3" fill="#fff" stroke="#111" stroke-width="0.95"/>
<circle cx="437.6" cy="365" r="2.3" fill="#fff" stroke="#111" stroke-width="0.95"/>
<circle cx="444.5" cy="368.5" r="2.3" fill="#fff" stroke="#111" stroke-width="0.95"/>
<circle cx="451.4" cy="368.8" r="2.3" fill="#fff" stroke="#111" stroke-width="0.95"/>
<circle cx="458.3" cy="369.8" r="2.3" fill="#fff" stroke="#111" stroke-width="0.95"/>
<circle cx="465.2" cy="366.9" r="2.3" fill="#fff" stroke="#111" stroke-width="0.95"/>
<circle cx="472.1" cy="368.5" r="2.3" fill="#fff" stroke="#111" stroke-width="0.95"/>
<circle cx="479" cy="366" r="2.3" fill="#fff" stroke="#111" stroke-width="0.95"/>
<circle cx="485.9" cy="366.9" r="2.3" fill="#fff" stroke="#111" stroke-width="0.95"/>
<circle cx="492.8" cy="364" r="2.3" fill="#fff" stroke="#111" stroke-width="0.95"/>
<circle cx="499.7" cy="363" r="2.3" fill="#fff" stroke="#111" stroke-width="0.95"/>
<circle cx="506.6" cy="362.7" r="2.3" fill="#fff" stroke="#111" stroke-width="0.95"/>
<circle cx="513.5" cy="362.1" r="2.3" fill="#fff" stroke="#111" stroke-width="0.95"/>
<path d="M375.5 365L382.4 364.5L389.3 368L396.2 365L403.1 367L410 370L416.9 368L423.8 367.9L430.7 368.5L437.6 367.9L444.5 366.9L451.4 366L458.3 366L465.2 365.4L472.1 362.1L479 364L485.9 364L492.8 362.1L499.7 362.7L506.6 361.7L513.5 360.2" fill="none" stroke="#111" stroke-width="1.1"/>
<path d="M375.5 362.08L378.42 367.23H372.58Z" fill="#111"/>
<path d="M382.4 361.58L385.31 366.73H379.48Z" fill="#111"/>
<path d="M389.3 365.08L392.22 370.23H386.38Z" fill="#111"/>
<path d="M396.2 362.08L399.12 367.23H393.28Z" fill="#111"/>
<path d="M403.1 364.08L406.02 369.23H400.19Z" fill="#111"/>
<path d="M410 367.08L412.92 372.23H407.08Z" fill="#111"/>
<path d="M416.9 365.08L419.81 370.23H413.98Z" fill="#111"/>
<path d="M423.8 364.98L426.72 370.13H420.88Z" fill="#111"/>
<path d="M430.7 365.58L433.62 370.73H427.78Z" fill="#111"/>
<path d="M437.6 364.98L440.52 370.13H434.69Z" fill="#111"/>
<path d="M444.5 363.98L447.42 369.13H441.58Z" fill="#111"/>
<path d="M451.4 363.08L454.31 368.23H448.48Z" fill="#111"/>
<path d="M458.3 363.08L461.22 368.23H455.38Z" fill="#111"/>
<path d="M465.2 362.48L468.12 367.63H462.28Z" fill="#111"/>
<path d="M472.1 359.19L475.02 364.33H469.19Z" fill="#111"/>
<path d="M479 361.08L481.92 366.23H476.08Z" fill="#111"/>
<path d="M485.9 361.08L488.81 366.23H482.98Z" fill="#111"/>
<path d="M492.8 359.19L495.72 364.33H489.88Z" fill="#111"/>
<path d="M499.7 359.78L502.62 364.93H496.78Z" fill="#111"/>
<path d="M506.6 358.78L509.52 363.93H503.69Z" fill="#111"/>
<path d="M513.5 357.28L516.41 362.43H510.58Z" fill="#111"/>
<path d="M375.5 361.25L382.4 360.75L389.3 327L396.2 291L403.1 268.75L410 254.25L416.9 248.25L423.8 245.8L430.7 248.4L437.6 244.9L444.5 249.6L451.4 253.2L458.3 254.2L465.2 261.8L472.1 263L479 264.1L485.9 267.7L492.8 272.7L499.7 271.7L506.6 273.7L513.5 276.5" fill="none" stroke="#111" stroke-width="1.1"/>
<circle cx="375.5" cy="361.25" r="2.85" fill="#111"/>
<circle cx="382.4" cy="360.75" r="2.85" fill="#111"/>
<circle cx="389.3" cy="327" r="2.85" fill="#111"/>
<circle cx="396.2" cy="291" r="2.85" fill="#111"/>
<circle cx="403.1" cy="268.75" r="2.85" fill="#111"/>
<circle cx="410" cy="254.25" r="2.85" fill="#111"/>
<circle cx="416.9" cy="248.25" r="2.85" fill="#111"/>
<circle cx="423.8" cy="245.8" r="2.85" fill="#111"/>
<circle cx="430.7" cy="248.4" r="2.85" fill="#111"/>
<circle cx="437.6" cy="244.9" r="2.85" fill="#111"/>
<circle cx="444.5" cy="249.6" r="2.85" fill="#111"/>
<circle cx="451.4" cy="253.2" r="2.85" fill="#111"/>
<circle cx="458.3" cy="254.2" r="2.85" fill="#111"/>
<circle cx="465.2" cy="261.8" r="2.85" fill="#111"/>
<circle cx="472.1" cy="263" r="2.85" fill="#111"/>
<circle cx="479" cy="264.1" r="2.85" fill="#111"/>
<circle cx="485.9" cy="267.7" r="2.85" fill="#111"/>
<circle cx="492.8" cy="272.7" r="2.85" fill="#111"/>
<circle cx="499.7" cy="271.7" r="2.85" fill="#111"/>
<circle cx="506.6" cy="273.7" r="2.85" fill="#111"/>
<circle cx="513.5" cy="276.5" r="2.85" fill="#111"/>
<path d="M441.3 311.9H456" stroke="#111" stroke-width="1.1"/>
<circle cx="448.65" cy="311.9" r="2.4" fill="#111"/>
<text x="459.8" y="314.4" font-size="9.55">Wild Type</text>
<path d="M441.3 322H456" stroke="#111" stroke-width="1.1"/>
<path d="M448.65 319.36L451.29 324.02H446.01Z" fill="#111"/>
<text x="459.2" y="324.2" font-size="9.55">gp91phox -/-</text>
<path d="M441.3 331H456" stroke="#111" stroke-width="1.1"/>
<circle cx="448.65" cy="331" r="2" fill="#fff" stroke="#111" stroke-width="0.95"/>
<text x="459.8" y="334" font-size="9.55">Unstimulated</text>
<defs>
<filter id="mic" x="0" y="0" width="100%" height="100%" color-interpolation-filters="sRGB">
<feGaussianBlur in="SourceGraphic" stdDeviation="0.55" result="s"/>
<feTurbulence type="fractalNoise" baseFrequency="0.42" numOctaves="3" seed="4" result="n"/>
<feColorMatrix in="n" type="matrix" values="0.9 0.9 0.9 0 -0.85  0.9 0.9 0.9 0 -0.85  0.9 0.9 0.9 0 -0.85  0 0 0 0 1" result="g"/>
<feComposite in="s" in2="g" operator="arithmetic" k1="1.3" k2="0.35" k3="0" k4="0"/>
</filter>
<filter id="sb" x="-30%" y="-30%" width="160%" height="160%"><feGaussianBlur stdDeviation="1.8"/></filter>
</defs>
<clipPath id="clip0"><rect x="18.9" y="421" width="149.25" height="148.6"/></clipPath>
<g clip-path="url(#clip0)"><g filter="url(#mic)">
<rect x="15.899999999999999" y="418" width="155.25" height="154.6" fill="#060606"/>
<path d="M25 464.23L31.15 466.54L33.46 476.54L30.38 487.31L21.15 484.23L18.08 473.46Z" fill="#1c1c1c" filter="url(#sb)"/>
<path d="M45 454.23L49.62 461.15L53.46 468.08" fill="none" stroke="#3a3a3a" stroke-width="2" filter="url(#sb)"/>
<path d="M15 418.08L53.15 418.08L51.62 425.77L46.08 431.92L38.38 438.08L32.23 445.77L28.38 455L25.15 464.54L21.92 466.54L15 467.31Z" fill="#7a7a7a"/>
<path d="M53 419.62L51.62 425.77L46.08 431.92L38.38 438.08L32.23 445.77L28.38 455L25.15 464.54" fill="none" stroke="#d8d8d8" stroke-width="1.5"/>
<circle cx="24.23" cy="435" r="2" fill="#0c0c0c"/>
<circle cx="28.54" cy="441.46" r="1.69" fill="#0c0c0c"/>
<circle cx="35" cy="429.15" r="1.54" fill="#0c0c0c"/>
<circle cx="43" cy="427" r="1.38" fill="#0c0c0c"/>
<circle cx="21.92" cy="458.38" r="1.85" fill="#0c0c0c"/>
<circle cx="30.69" cy="433.77" r="1.23" fill="#0c0c0c"/>
<circle cx="38.08" cy="423.92" r="1.23" fill="#0c0c0c"/>
<circle cx="22.38" cy="446.54" r="1.38" fill="#0c0c0c"/>
<circle cx="26.54" cy="426.54" r="1.38" fill="#0c0c0c"/>
<circle cx="45.77" cy="422.69" r="1.08" fill="#0c0c0c"/>
<circle cx="19.62" cy="439.62" r="1.23" fill="#0c0c0c"/>
<circle cx="31.92" cy="423.46" r="1.08" fill="#0c0c0c"/>
<circle cx="46.23" cy="451.62" r="2.2" fill="none" stroke="#e0e0e0" stroke-width="1.25"/>
<path d="M46.23 458.38L48.85 461.92L52.23 467" fill="none" stroke="#8a8a8a" stroke-width="1.3"/>
<path d="M51.62 466.08L53.46 467.31L61.15 469.15L72.69 469.15L82.69 468.08L87.31 466.54L87.31 469.15L82.69 470.69L74.23 472.23L71.62 479.62L68.38 486.54L64.23 489.46L60.38 486.54L57.77 479.62L55.31 472.69L51.92 468.85Z" fill="#5c5c5c" stroke="#fafafa" stroke-width="1.2" stroke-linejoin="round"/>
<ellipse cx="63.62" cy="477.77" rx="3" ry="4" fill="#4a4a4a"/>
<path d="M75 470.77L84.23 470.46L85.46 463.08L89.62 461.54L95 463.08L96.23 468.46L95 471.54L102.69 472.62L110.38 472L110.69 473.54L102.69 474.15L94.23 473.54L91.92 476.15L90.69 479.69L89.62 476.15L88.08 473.08L84.23 472.31L75 472.62Z" fill="#f2f2f2" stroke="#fff" stroke-width="0.5"/>
<ellipse cx="90.38" cy="465.54" rx="1.6" ry="1.3" fill="#555"/>
<ellipse cx="117.92" cy="473.54" rx="7.6" ry="4.2" fill="#cfcfcf"/>
<path d="M122.69 471.54L127.31 474.46L123 476.15Z" fill="#aaa"/>
<ellipse cx="117.31" cy="472.92" rx="2.1" ry="1.4" fill="#202020"/>
<path d="M89.15 495.69L98.08 497.23L105.77 497.85L115 496.62L121.15 495.38L133.46 495.38L141.15 493.54L148.54 495.69L147.62 499.23L141.46 501.85L133.46 500.92L121.15 500.31L112.23 501.85L106.54 506.46L103 511.69L93.46 512.62L84.23 514.15L75 517.23L71.92 514.77L75.31 510L81.15 506.92L86.54 503.85L88.54 498.46Z" fill="#a0a0a0" stroke="#f4f4f4" stroke-width="1.15" stroke-linejoin="round"/>
<ellipse cx="98.08" cy="504.62" rx="5" ry="4" fill="#5c5c5c"/>
<ellipse cx="138.08" cy="497.69" rx="3.4" ry="2.2" fill="#1c1c1c" stroke="#fff" stroke-width="1"/>
<path d="M69.15 512.62L71.15 516.15L69.62 521.54L68.08 527.69L65 532L60.38 533.08L57.77 530L58.08 524.62L60.38 519.23L64.23 514.62Z" fill="#b0b0b0" stroke="#f4f4f4" stroke-width="0.9"/>
<circle cx="62.38" cy="523.08" r="1.9" fill="#0a0a0a" stroke="#fff" stroke-width="0.9"/>
<circle cx="63.77" cy="527.54" r="1.9" fill="#0a0a0a" stroke="#fff" stroke-width="0.9"/>
<path d="M58.38 532.31L50.38 541.85" stroke="#bdbdbd" stroke-width="1.1" fill="none"/>
</g>
<path d="M45.2 435.4V443.9" stroke="#e8e8e8" stroke-width="0.95"/>
<path d="M45.2 445.9l-1.7 -3.6h3.4Z" fill="#e8e8e8"/>
<path d="M90.1 446.9V456.9" stroke="#e8e8e8" stroke-width="0.95"/>
<path d="M90.1 458.9l-1.7 -3.6h3.4Z" fill="#e8e8e8"/>
<path d="M116.8 452.3V463" stroke="#e8e8e8" stroke-width="0.95"/>
<path d="M116.8 465l-1.7 -3.6h3.4Z" fill="#e8e8e8"/>
<path d="M63.8 534l1.35 5.2h-2.7Z" fill="#f4f4f4"/>
<path d="M100.9 514l1.35 5.2h-2.7Z" fill="#f4f4f4"/>
<path d="M140.7 505.4l1.35 5.2h-2.7Z" fill="#f4f4f4"/>
</g>
<text x="107.3" y="436.9" font-size="14.4" textLength="55.6" lengthAdjust="spacingAndGlyphs" style="fill:#f0f0f0">p47phox</text>
<clipPath id="clip1"><rect x="18.9" y="573.85" width="149.25" height="149"/></clipPath>
<g clip-path="url(#clip1)"><g filter="url(#mic)">
<rect x="15.899999999999999" y="570.85" width="155.25" height="155" fill="#060606"/>
<path d="M24.63 614.15L32.32 618.77L36.94 632.62L35.4 648L24.63 654.15L18.48 644.92L18.48 617.23Z" fill="#1f1f1f" filter="url(#sb)"/>
<path d="M33.86 595.69L46.17 591.08L54.63 598.77L55.4 611.08L50.78 619.54L40.02 618.77L33.86 608Z" fill="#2e2e2e" filter="url(#sb)"/>
<path d="M15.4 571.08L53.55 571.08L52.02 578.77L46.48 584.92L38.78 591.08L32.63 598.77L28.78 608L25.55 617.54L22.32 619.54L15.4 620.31Z" fill="#6a6a6a"/>
<path d="M53.4 572.62L52.02 578.77L46.48 584.92L38.78 591.08L32.63 598.77L28.78 608L25.55 617.54" fill="none" stroke="#f4f4f4" stroke-width="1.9"/>
<circle cx="30.02" cy="579.54" r="3.69" fill="#0c0c0c"/>
<circle cx="24.63" cy="588.77" r="2.31" fill="#0c0c0c"/>
<circle cx="30.02" cy="592.62" r="1.85" fill="#0c0c0c"/>
<circle cx="36.17" cy="586.46" r="1.54" fill="#0c0c0c"/>
<circle cx="21.55" cy="608.77" r="2" fill="#0c0c0c"/>
<circle cx="42.32" cy="579.54" r="1.54" fill="#0c0c0c"/>
<circle cx="46.94" cy="576.46" r="1.23" fill="#0c0c0c"/>
<circle cx="22.32" cy="599.54" r="1.54" fill="#0c0c0c"/>
<circle cx="23.86" cy="578.77" r="1.54" fill="#0c0c0c"/>
<circle cx="38.48" cy="574.15" r="1.38" fill="#0c0c0c"/>
<circle cx="20.02" cy="586.46" r="1.23" fill="#0c0c0c"/>
<ellipse cx="46.85" cy="604.6" rx="2.3" ry="2.9" fill="none" stroke="#fff" stroke-width="1.5"/>
<path d="M46.63 613.38L49.25 616.92L52.63 622" fill="none" stroke="#8a8a8a" stroke-width="1.3"/>
<path d="M52.02 621.08L53.86 622.31L61.55 624.15L73.09 624.15L83.09 623.08L87.71 621.54L87.71 624.15L83.09 625.69L74.63 627.23L72.02 634.62L68.78 641.54L64.63 644.46L60.78 641.54L58.17 634.62L55.71 627.69L52.32 623.85Z" fill="#6c6c6c" stroke="#fafafa" stroke-width="1.2" stroke-linejoin="round"/>
<ellipse cx="64.02" cy="632.77" rx="3" ry="4" fill="#4a4a4a"/>
<path d="M75.4 623.77L84.63 623.46L85.86 616.08L90.02 614.54L95.4 616.08L96.63 621.46L95.4 624.54L103.09 625.62L110.78 625L111.09 626.54L103.09 627.15L94.63 626.54L92.32 629.15L91.09 632.69L90.02 629.15L88.48 626.08L84.63 625.31L75.4 625.62Z" fill="#f2f2f2" stroke="#fff" stroke-width="0.5"/>
<ellipse cx="90.78" cy="618.54" rx="1.6" ry="1.3" fill="#555"/>
<ellipse cx="118.32" cy="626.54" rx="7.6" ry="4.2" fill="#f4f4f4"/>
<path d="M123.09 624.54L127.71 627.46L123.4 629.15Z" fill="#aaa"/>
<ellipse cx="117.71" cy="625.92" rx="2.1" ry="1.4" fill="#202020"/>
<ellipse cx="63.4" cy="678.38" rx="2.6" ry="3.6" fill="none" stroke="#4a4a4a" stroke-width="1"/>
<path d="M132.32 649.62L138.48 651.77L144.94 649" fill="none" stroke="#484848" stroke-width="1.1"/>
<path d="M96.94 654.54L103.86 658.38" fill="none" stroke="#333" stroke-width="1.1"/>
</g>
<path d="M46.7 587V595.5" stroke="#e8e8e8" stroke-width="0.95"/>
<path d="M46.7 597.5l-1.7 -3.6h3.4Z" fill="#e8e8e8"/>
<path d="M91.6 599.9V609.9" stroke="#e8e8e8" stroke-width="0.95"/>
<path d="M91.6 611.9l-1.7 -3.6h3.4Z" fill="#e8e8e8"/>
<path d="M118.3 605.3V616" stroke="#e8e8e8" stroke-width="0.95"/>
<path d="M118.3 618l-1.7 -3.6h3.4Z" fill="#e8e8e8"/>
<path d="M65.3 687l1.35 5.2h-2.7Z" fill="#f4f4f4"/>
<path d="M102.4 667l1.35 5.2h-2.7Z" fill="#f4f4f4"/>
<path d="M142.2 658.4l1.35 5.2h-2.7Z" fill="#f4f4f4"/>
</g>
<text x="78.5" y="589.3" font-size="14.4" textLength="84.6" lengthAdjust="spacingAndGlyphs" style="fill:#f0f0f0">phospho-Syk</text>
<rect x="258.4" y="425.8" width="233.8" height="234.5" fill="#fff" stroke="#1a1a1a" stroke-width="1.1"/>
<path d="M258.4 660.3v3.6M258.4 660.3h-3.6M276 660.3v2.0M258.4 642.65h-2.0M286.29 660.3v2.0M258.4 632.33h-2.0M293.59 660.3v2.0M258.4 625h-2.0M299.25 660.3v2.0M258.4 619.32h-2.0M303.88 660.3v2.0M258.4 614.68h-2.0M307.8 660.3v2.0M258.4 610.76h-2.0M311.19 660.3v2.0M258.4 607.36h-2.0M314.18 660.3v2.0M258.4 604.36h-2.0M316.85 660.3v3.6M258.4 601.67h-3.6M334.45 660.3v2.0M258.4 584.03h-2.0M344.74 660.3v2.0M258.4 573.7h-2.0M352.04 660.3v2.0M258.4 566.38h-2.0M357.7 660.3v2.0M258.4 560.7h-2.0M362.33 660.3v2.0M258.4 556.06h-2.0M366.25 660.3v2.0M258.4 552.13h-2.0M369.64 660.3v2.0M258.4 548.73h-2.0M372.63 660.3v2.0M258.4 545.73h-2.0M375.3 660.3v3.6M258.4 543.05h-3.6M392.9 660.3v2.0M258.4 525.4h-2.0M403.19 660.3v2.0M258.4 515.08h-2.0M410.49 660.3v2.0M258.4 507.75h-2.0M416.15 660.3v2.0M258.4 502.07h-2.0M420.78 660.3v2.0M258.4 497.43h-2.0M424.7 660.3v2.0M258.4 493.51h-2.0M428.09 660.3v2.0M258.4 490.11h-2.0M431.08 660.3v2.0M258.4 487.11h-2.0M433.75 660.3v3.6M258.4 484.43h-3.6M451.35 660.3v2.0M258.4 466.78h-2.0M461.64 660.3v2.0M258.4 456.45h-2.0M468.94 660.3v2.0M258.4 449.13h-2.0M474.6 660.3v2.0M258.4 443.45h-2.0M479.23 660.3v2.0M258.4 438.81h-2.0M483.15 660.3v2.0M258.4 434.88h-2.0M486.54 660.3v2.0M258.4 431.48h-2.0M489.53 660.3v2.0M258.4 428.48h-2.0M492.2 660.3v3.6M258.4 425.8h-3.6" stroke="#222" stroke-width="0.7" fill="none"/>
<path d="M362.83 593.94h.01M374.09 575.84h.01M308.49 567.05h.01M290.11 567.49h.01M289.41 584.82h.01M403.75 578.71h.01M302.97 580.15h.01M309.61 583.68h.01M400.98 590.42h.01M405.48 574.65h.01M329.68 584.12h.01M285.83 572.02h.01M429.04 591.21h.01M294.95 592.62h.01M291.51 588.76h.01M384.54 574.82h.01M309.71 598.74h.01M294.65 601.13h.01M314.21 609.91h.01M313.77 579.48h.01M291.37 588.7h.01M427.86 591.03h.01M331.15 596.14h.01M320.33 592.18h.01M346.46 595.35h.01M308.11 580.48h.01M321.65 581.67h.01M356.56 553.56h.01M319.4 582.77h.01M392.08 604.34h.01M306.61 594.32h.01M395.7 585.62h.01M345.86 583.42h.01M297.71 617.1h.01M411.32 560.69h.01M299.49 617.08h.01M466.44 565.66h.01M400.15 580.71h.01M381.86 571.56h.01M387.28 570.28h.01M394.6 592.69h.01M349.85 570.7h.01M441.19 575.7h.01M423.29 570.95h.01M317.73 575.73h.01M371.94 590.1h.01M408.66 577.58h.01M305.43 576.55h.01M406.18 571.06h.01M349.04 579.37h.01M305.33 592.12h.01M326.86 568.69h.01M371.26 590.66h.01M362.85 605.9h.01M279.42 592.94h.01M386.83 582.61h.01M298.58 582.77h.01M319.19 599.94h.01M361.64 586.91h.01M311.47 585.35h.01M366.86 583.59h.01M307.36 572.09h.01M376.65 597.3h.01M424.51 588.8h.01M288.7 555.9h.01M417.64 565.89h.01M365.13 586.84h.01M312.59 592.98h.01M416.69 566.37h.01M431.53 601.94h.01M341.75 569.34h.01M360.5 583.59h.01M284 570.11h.01M306.1 586.76h.01M301.18 577.55h.01M288.46 574.54h.01M384.67 580.34h.01M377.42 586.51h.01M373.14 596.17h.01M375.75 586.87h.01M370.68 567.35h.01M284.38 555.58h.01M325.65 598.73h.01M296.77 598.18h.01M367.74 558.38h.01M309.86 591.37h.01M429.2 579.14h.01M310.4 579.59h.01M343.14 572.24h.01M292.29 598.48h.01M321.86 593.54h.01M378.66 573.2h.01M378.46 590.72h.01M312.47 572.86h.01M319.59 572.47h.01M323.68 589.59h.01M431.36 571.08h.01M352.76 589.99h.01M373.07 582.89h.01M309.37 587.75h.01M382.99 584.05h.01M386.45 585.24h.01M283.57 595.77h.01M337.35 569.56h.01M392.99 580.78h.01M307.8 583.75h.01M310.61 569.75h.01M375.05 598.9h.01M398.77 568.58h.01M392.72 603.56h.01M426.34 579.64h.01M417.69 574.64h.01M400.66 593.32h.01M406.22 573.63h.01M379.22 568.86h.01M352.52 568.96h.01M310.68 593.47h.01M286.47 592.94h.01M425.13 588.41h.01M366.77 578.99h.01M371.59 608.99h.01M356.4 592.4h.01M392.36 578.1h.01M384.81 599.07h.01M416.47 590.96h.01M279.68 588.08h.01M424.19 597.94h.01M281.18 572.54h.01M285.92 571.67h.01M417.72 587.86h.01M393.54 572.6h.01M312.34 573.1h.01M378.2 565.32h.01M363.48 588.26h.01M389.19 584.58h.01M420.06 567.47h.01M294.12 590.24h.01M343.91 565.58h.01M410.06 567.75h.01M423.93 572.74h.01M279.02 585.18h.01M397.54 594.52h.01M380.95 597.43h.01M382.78 591.31h.01M346.76 584.7h.01M286.09 599.48h.01M427.06 573.76h.01M337.05 586.49h.01M357.81 602.07h.01M286.94 603.45h.01M385.54 578h.01M428.43 572.71h.01M314.29 594.93h.01M328.43 588h.01M343.63 578h.01M414.98 586.46h.01M434.02 577h.01M321.41 594.62h.01M345.21 572.58h.01M310.58 593.26h.01M306.85 593.46h.01M381.46 575.36h.01M434.28 561.77h.01M288.06 579.01h.01M288.19 601.25h.01M402.75 597.61h.01M351.06 599.57h.01M371.21 578.45h.01M377.34 586.05h.01M356.35 570.11h.01M347.23 585.57h.01M283.02 601.47h.01M294.31 587.36h.01M283.66 577.79h.01M278.38 591.3h.01M318.79 591.5h.01M391.74 585.87h.01M306.02 595.7h.01M334.28 588.1h.01M368.97 569.49h.01M281.09 591.55h.01M378.1 570.78h.01M404.48 595.54h.01M415.8 582.93h.01M302.93 580.25h.01M325.1 591.64h.01M437.88 582.19h.01M325.79 594.45h.01M289.46 595.8h.01M313.31 575.89h.01M334.08 581.37h.01M333.06 580.13h.01M410.48 570.94h.01M351.03 604.09h.01M403.75 577.34h.01M347.56 583.22h.01M363.99 597.42h.01M312.97 580.76h.01M380.57 593.28h.01M339.49 577.43h.01M311.59 574.75h.01M385.25 570.97h.01M289.73 609.93h.01M290.16 583.87h.01M391.33 574.7h.01M317 592.68h.01M285.75 597.03h.01M357.68 569.68h.01M338.28 565.79h.01M394.55 576.65h.01M403.1 591.59h.01M347.66 587.38h.01M395.12 560.24h.01M382.3 575.36h.01M375.76 581.98h.01M440.61 597.86h.01M311.17 577.54h.01M320.65 580.15h.01M365 571.86h.01M384.83 579.63h.01M393.11 608.19h.01M308.67 587.95h.01M333.45 583.97h.01M420.75 563.85h.01M300.03 577.28h.01M376.51 578.86h.01M386.31 579.9h.01M407.21 579.41h.01M366.39 568.93h.01M354.03 569.12h.01M377.77 558.33h.01M336.1 593.07h.01M423.63 578.2h.01M296.26 582.66h.01M373.03 599.51h.01M377.82 587.93h.01M333.18 582.98h.01M291.01 591.6h.01M296.13 586.2h.01M320.52 583.53h.01M336.93 599.7h.01M351.64 568.49h.01M389.86 607.18h.01M333.49 587.54h.01M366.95 574.37h.01M366.92 608.06h.01M312.01 595.11h.01M281.15 614.88h.01M298.38 600.09h.01M287.03 580.51h.01M333.35 585.07h.01M318.8 590.96h.01M390.75 573.37h.01M406.41 608.04h.01M400.91 594.86h.01M378.24 580.62h.01M280.2 584.71h.01M434.05 590.91h.01M320.92 576.26h.01M372.48 565.79h.01M344 576.05h.01M409.9 589.08h.01M429.27 579.78h.01M394.44 562.76h.01M318.9 591.35h.01M315.91 580.83h.01M392.16 582.02h.01M307.55 601.63h.01M359.23 583.57h.01M285.72 570.14h.01M431.7 575.7h.01M300.68 597.5h.01M397.1 584.74h.01M324.74 602.19h.01M305.83 599.09h.01M303.44 597.52h.01M279.55 590.14h.01M300.35 543.04h.01M422.22 583.49h.01M286.53 611.15h.01M420.01 581.5h.01M322.4 584.19h.01M395.01 595.33h.01M352.82 592.27h.01M364.91 585.96h.01M429.61 577.61h.01M382.56 588.26h.01M312.34 572.15h.01M312.53 586.84h.01M285.77 579.05h.01M274.77 596.36h.01M324.25 600.21h.01M325.53 574.44h.01M302.16 569.5h.01M275.14 606.57h.01M349.04 589.87h.01M282.15 578.25h.01M319.37 593.17h.01M277.45 603.16h.01M357.08 594.34h.01M323.86 597.55h.01M406.23 584.73h.01M415.69 591.34h.01M316.89 579.26h.01M279.26 595.53h.01M398.97 593.8h.01M331.51 552.22h.01M410.91 605.21h.01M318.62 577.1h.01M289.25 582.33h.01M348.82 584.64h.01M371.91 588.62h.01M367.47 592.22h.01M406.04 591.15h.01M356.73 588.06h.01M389.28 564.4h.01M283.78 602.75h.01M389.93 586.72h.01M337.08 593.21h.01M324.17 584.98h.01M308.76 557.64h.01M344.61 562.22h.01M398.35 571.46h.01M455.65 579.01h.01M298.58 580.59h.01M310.07 597.33h.01M409.08 597.03h.01M350.96 582.09h.01M371.2 565.97h.01M334.61 577.46h.01M412.16 603.81h.01M303.37 579.03h.01M370.6 575.28h.01M319.12 590.97h.01M336.97 576.05h.01M283.84 586.12h.01M291.75 598.17h.01M304 595.4h.01M447.58 579.33h.01M416.34 596.28h.01M416.29 571.82h.01M386.2 599.51h.01M414.51 592.51h.01M296.42 562.94h.01M406.88 582.8h.01M410.58 583.83h.01M415.79 567.38h.01M279.61 581.71h.01M295.39 540.01h.01M369.06 574.17h.01M350.51 602.07h.01M350.04 561.36h.01M300.82 577.92h.01M292.74 585.87h.01M295.44 602.57h.01M300.16 583.82h.01M368.89 590.53h.01M323.7 606.69h.01M333.8 592.5h.01M308.05 594.46h.01M351.38 581.86h.01M382.76 575.08h.01M306.7 576.67h.01M305.28 597.15h.01M423.97 587.12h.01M375.39 589.52h.01M420.29 611.41h.01M291.47 567.6h.01M317.13 594.75h.01M345.97 586.26h.01M400.52 571.39h.01M336.29 572.29h.01M381.89 599.01h.01M306.99 593.2h.01M358.44 590.72h.01M373.02 575.53h.01M424.09 595.42h.01M353.87 586.2h.01M336.41 590.93h.01M301.07 570.29h.01M314.09 598.64h.01M398.61 576.62h.01M363 579.56h.01M356.13 584.04h.01M387.27 598.13h.01M420.81 587.28h.01M296.72 575.11h.01M363.18 582.49h.01M327.76 596.71h.01M432.74 588.81h.01M345.27 592.76h.01M294.83 588.9h.01M285.59 592.11h.01M311 604.14h.01M358.45 576.43h.01M398.83 590.83h.01M393.42 584.65h.01M411.83 587.69h.01M297.21 604.19h.01M343.58 576.04h.01M420.46 577.46h.01M300.69 599.14h.01M354.03 553.42h.01M341.31 580.83h.01M318.72 578.51h.01M408.37 605.78h.01M362.03 573.48h.01M330.47 587.56h.01M407.43 576.57h.01M356.39 585.37h.01M390.91 602.73h.01M288.94 604.4h.01M347.02 576.64h.01M366.25 572.37h.01M365.36 574.19h.01M284.51 569.33h.01M352.46 589.24h.01M287.96 574.41h.01M421.63 568.51h.01M428.53 579.9h.01M452.85 575.35h.01M342.27 576.3h.01M431.21 580.78h.01M373.99 576.24h.01M288.94 583.18h.01M321.1 591.53h.01M362.69 584.81h.01M292.18 607.71h.01M377.57 608.31h.01M302.78 563.7h.01M286.91 611.32h.01M337.74 599.56h.01M351.07 581.38h.01M345.68 572.74h.01M367.81 570.1h.01M281.06 593.72h.01M283.53 572.8h.01M316.2 580.45h.01M346.5 573.36h.01M423.14 582.87h.01M392.41 565.09h.01M332.14 573.83h.01M372.02 576.44h.01M424.02 589.63h.01M352.67 587.04h.01M409.02 604.54h.01M337.62 579.94h.01M401.38 582.32h.01M397.81 578.25h.01M355.92 608.62h.01M286.22 583.26h.01M347.7 576.45h.01M335.94 584.67h.01M285.5 597.45h.01M382.27 566.64h.01M295.03 603.63h.01M355.21 577.6h.01M441.37 591.52h.01M371.21 566.11h.01M292.36 602.34h.01M304.8 588.95h.01M304.26 597.81h.01M391.06 570.01h.01M389.52 592.11h.01M412.58 580.63h.01M387.72 601.38h.01M284.03 570.22h.01M358.84 595.25h.01M369.82 582.11h.01M382.96 599.08h.01M379.6 596.81h.01M416.87 596.05h.01M324.74 598.07h.01M322.47 585.39h.01M322.33 573.97h.01M328.86 583.86h.01M303.5 597.26h.01M381.39 568.98h.01M379.51 600.12h.01M323.75 573.31h.01M430.82 570.96h.01M373.65 585.37h.01M341.8 587.52h.01M285.57 584.46h.01M291.71 617.85h.01M286.67 593.62h.01M342.91 595.45h.01M311.1 569.94h.01M286.97 594.81h.01M384.97 578.63h.01M460.8 578.1h.01M370.41 575.5h.01M288.54 568.01h.01M465.77 581.78h.01M465.3 579.35h.01M410.76 564.31h.01M434.98 572.26h.01M341.39 578.5h.01M427.35 569.41h.01M339.08 574.56h.01M363.35 587.5h.01M301.44 579.18h.01M338.58 576.85h.01M377.12 574.32h.01M318.14 574.59h.01M380.64 598.96h.01M425.98 584.49h.01M298.52 600.22h.01M429.81 584.95h.01M329.27 571.56h.01M421.53 582.83h.01M372.29 580.18h.01M284.22 592.85h.01M310.11 592.26h.01M363.11 588.98h.01M308.52 592.61h.01M281 590.05h.01M377.96 587.6h.01M287.54 597.52h.01M373.27 586.79h.01M338.07 576.3h.01M365.4 602.47h.01M352.31 585.85h.01M420.49 588.32h.01M365.41 568.56h.01M274.08 598.49h.01M396.61 584.41h.01M367.01 577.39h.01M355.64 592.28h.01M364.45 589.49h.01M329.6 578.37h.01M417.85 575.92h.01M290.68 581.93h.01M341.46 554.86h.01M375.38 582.47h.01M325.62 574.19h.01M289.26 574.41h.01M368.8 591.56h.01M360.88 580.18h.01M433.39 592.23h.01M373.3 563.13h.01M370.44 576.19h.01M373.11 604.27h.01M310.89 597.67h.01M433.66 563.31h.01M284.09 618.56h.01M334.06 604.11h.01M296.43 612.92h.01M400.74 590.68h.01M349.05 589.04h.01M432.52 583.02h.01M411.97 578.14h.01M309.03 595.23h.01M338.66 568.37h.01M379.7 580.04h.01M422.15 586.96h.01M319.99 598.73h.01M285.2 575.76h.01M355.12 593.58h.01M318.78 589.72h.01M358.9 580.44h.01M378.13 582.41h.01M301.52 580.33h.01M326.33 581.63h.01M414.31 571.59h.01M358.79 552.52h.01M451.35 580.98h.01M285.42 581.32h.01M296.95 571.04h.01M352.81 575.06h.01M282.11 592.53h.01M350.37 582.49h.01M292.44 596.06h.01M390.32 570.9h.01M332.75 592.12h.01M354.32 571.31h.01M362.02 569.84h.01M335.06 587.51h.01M354.46 583.88h.01M363.3 568.91h.01M331.14 599.41h.01M406.76 576.56h.01M403.64 583.91h.01M415.47 567.19h.01M323.67 585.59h.01M390.84 593.9h.01M388.52 577.72h.01M298.71 567.63h.01M336.93 591.41h.01M386.13 579.05h.01M371.53 564.09h.01M405.64 563.99h.01M300.48 568.1h.01M425.06 585.63h.01M331.98 574.42h.01M348.18 561.04h.01M343.76 593.49h.01M404.42 583.76h.01M307.12 606.92h.01M421.02 592.94h.01M370.29 603.84h.01M315.33 587.99h.01M334.68 588.4h.01M316.35 569.6h.01M396.8 592.69h.01M360.33 579.56h.01M408.43 570.47h.01M344.95 596.83h.01M416.87 580.56h.01M389.38 577.93h.01M279.98 606.64h.01M446.04 579.5h.01M291.67 583.15h.01M326.35 576.1h.01M412.19 572.29h.01M384.95 584.01h.01M344.08 579.56h.01M274.29 598.47h.01M391.18 599.61h.01M366.22 597.13h.01M404.86 569.61h.01M350.17 581.96h.01M366.13 561.3h.01M328.96 598.42h.01M409.78 565.23h.01M422.14 569.83h.01M286.1 597.64h.01M375.51 591.36h.01M472.64 546.09h.01M301.1 580.81h.01M391.15 577.53h.01M306.16 602.47h.01M315.01 573.59h.01M381.35 567.03h.01M314.51 585.14h.01M291.57 573.08h.01M282.62 589.24h.01M311.96 576.76h.01M304.19 597.37h.01M308.44 581.36h.01M416.14 597.01h.01M319.71 599.34h.01M284.38 575.97h.01M319.15 594.21h.01M398.46 566.56h.01M416.63 595.02h.01M348.96 587.05h.01M280.9 600.91h.01M337.99 580.93h.01M307.61 560.05h.01M385.71 582.04h.01M309.5 610.17h.01M277.79 600.96h.01M281.48 592.15h.01M278.62 594.13h.01M288.56 597.57h.01M457.01 557.8h.01M293.85 588.48h.01M311.71 591h.01M305.13 571.24h.01M301.37 582.17h.01M374.11 578.63h.01M395.86 582.55h.01M339.16 594.23h.01M350.61 571.64h.01M348.84 568.95h.01M455.37 586.2h.01M328.75 582.99h.01M308.7 559.26h.01M293.87 584.18h.01M344.51 557.99h.01M300.18 578.3h.01M429.49 579.5h.01M398.64 574.76h.01M309.86 602.34h.01M324.3 580.64h.01M384.01 574.7h.01M271.22 600.78h.01M400.45 582.13h.01M416.35 562.91h.01M356.45 584.22h.01M351.69 581.3h.01M410.16 568.64h.01M312.21 586.4h.01M355.04 584.74h.01M419.33 567.62h.01M409.81 589.16h.01M293.93 574.92h.01M276.2 595.88h.01M283.97 588.37h.01M297 591.64h.01M295.43 573.89h.01M383.48 593.77h.01M366.09 568.32h.01M367.72 570.49h.01M374.61 573.47h.01M297.7 567.26h.01M431.92 548.66h.01M363.5 586h.01M351.79 570.66h.01M280.41 606.23h.01M301.58 595.71h.01M356.94 583.11h.01M330.9 569.81h.01M369.04 598.56h.01M423.07 601.04h.01M408.05 566.58h.01M281.33 593.58h.01M339.05 583.17h.01M312.92 571.28h.01M313.32 574.38h.01M285.92 605.68h.01M336.03 577.07h.01M279.27 598.79h.01M321.51 595.19h.01M335.44 581.59h.01M339.35 561.82h.01M365.1 588.03h.01M401.83 586.14h.01M345.89 598.16h.01M297.11 582.5h.01M392.38 584.05h.01M353.57 565.7h.01M347 570.45h.01M342.56 594.91h.01M349.37 581.92h.01M291.43 598.75h.01M347.8 592.72h.01M452.08 588.96h.01M342.62 584.98h.01M357.18 591.49h.01M419.01 568.1h.01M337.2 565.69h.01M295.34 590.96h.01M392.53 566.26h.01M387.59 607.56h.01M434.99 576.92h.01M289.8 583.96h.01M402.09 585.1h.01M303.07 563.89h.01M354.94 577.79h.01M438.52 564.15h.01M300.45 604.91h.01M333.84 608.17h.01M365.46 578.16h.01M434.11 602.48h.01M382.18 585.39h.01M390.94 578.97h.01M354.85 585.87h.01M323.22 596.22h.01M292.67 591.81h.01M389.08 596.01h.01M348.11 597.12h.01M307.16 549.42h.01M313.35 589.65h.01M367.18 589.48h.01M342.57 570.59h.01M363.74 566.63h.01M346.15 574.52h.01M337.26 564.86h.01M300.44 574.99h.01M277.6 596.22h.01M441.02 577.31h.01M334.16 593.01h.01M348.48 583.66h.01M426.36 583.29h.01M287.93 576.51h.01M420.58 600.83h.01M362.74 561.02h.01M295.61 590.33h.01M409.19 601.25h.01M374.51 567.61h.01M328.99 557.9h.01M285.47 603.56h.01M419.45 582.61h.01M281.32 592.17h.01M381.9 572.87h.01M339.15 578.12h.01M347.67 591.54h.01M331.49 585.94h.01M377.71 585.02h.01M291.59 570.26h.01M364.7 577.14h.01M388.54 591.98h.01M385.3 602.61h.01M424.04 581.06h.01M450.32 566.98h.01M316.6 599.05h.01M326.85 568.78h.01M283.3 583.09h.01M368.34 581.45h.01M292.18 592.91h.01M361.46 579.53h.01M407.48 575.82h.01M366.98 592.67h.01M320.62 573.47h.01M334.41 569.64h.01M289.43 582.96h.01M326.07 576.57h.01M405.44 577.67h.01M286.08 580.31h.01M279.83 585.08h.01M361.73 568.22h.01M406.01 570.46h.01M284.77 602.01h.01M364.84 564.72h.01M382.28 587.47h.01M320.71 585.86h.01M408.37 594.24h.01M342.92 597.97h.01M281.97 596.22h.01M395.27 604.6h.01M351.55 582.67h.01M337.14 594.26h.01M326.77 582.55h.01M290.75 580.28h.01M392.39 585.79h.01M378.76 592.13h.01M370.15 582.91h.01M325.01 593.47h.01M421.43 586.45h.01M297.48 609.01h.01M428.37 551.46h.01M386.13 576.9h.01M349.11 578.06h.01M406.83 584.03h.01M394.25 591.98h.01M438.27 577.86h.01M291.13 583.33h.01M296.75 584.97h.01M432.01 581.9h.01M371.74 600.34h.01M278.94 591.11h.01M294.65 581.98h.01M354.95 571.77h.01M326.96 591.63h.01M427.56 574.84h.01M309.63 608.15h.01M283.67 581.28h.01M318.36 563.07h.01M300.88 570.2h.01M379.09 582.49h.01M448.48 576.27h.01M418.62 573.66h.01M281.42 570.37h.01M343.3 588.5h.01M358.97 579.05h.01M379.48 577.47h.01M320.55 583.92h.01M383.47 581.02h.01M411.98 586.33h.01M328.12 596.07h.01M289.19 582.3h.01M295.49 588.11h.01M305.52 594.2h.01M287.96 582.88h.01M394.05 594.94h.01M298.79 599.21h.01M391.55 589.06h.01M298.85 559.72h.01M314.85 589.3h.01M326.14 589.03h.01M283.91 603.22h.01M300.6 580.29h.01M284.29 599.94h.01M360.54 588.02h.01M353.81 577.82h.01M295.35 587.14h.01M357.26 589.69h.01M303.41 567.51h.01M402.19 589.65h.01M323.67 585.77h.01M384.44 589.4h.01M312.58 580.17h.01M321.03 600.53h.01M327.83 572.56h.01M389.19 575.75h.01M294.01 575.94h.01M394.92 598.81h.01M299.82 600.18h.01M326.42 603.7h.01M397.37 572.73h.01M336.74 574.09h.01M417.23 578.16h.01M376.14 591.35h.01M383.26 567.77h.01M318.9 578.4h.01M387.67 574.79h.01M431.2 584.14h.01M317.27 586.22h.01M287.19 595.59h.01M305.91 568.49h.01M368.53 572.11h.01M331.01 579.62h.01M329.55 575.15h.01M358.78 580.52h.01M397.12 574.46h.01M288.65 566.97h.01M393.6 571.63h.01M382.32 577.14h.01M408.02 580.07h.01M368.64 570.73h.01M304.59 584.04h.01M306.98 593.23h.01M445.36 594.36h.01M362.02 575.05h.01M343.22 583.79h.01M447.56 566.55h.01M392.67 578.7h.01M326.06 585.67h.01M402.53 579.26h.01M329.46 584.37h.01M356.65 594.79h.01M325.88 562.11h.01M434.3 585.56h.01M339 579.11h.01M409.8 569.49h.01M352.41 567.03h.01M421.79 579.83h.01M471.54 579.08h.01M326.94 590.32h.01M306.73 586.44h.01M304.56 582.6h.01M319.71 585.51h.01M368.37 594.25h.01M311.65 576.77h.01M434.46 577.52h.01M320 580.95h.01M373.61 584.6h.01M374.46 600.15h.01M288.24 589.48h.01M288.09 588.74h.01M310.78 586.17h.01M300.89 569.65h.01M361.34 575.3h.01M430.48 560.1h.01M429.36 591.89h.01M308.47 597.13h.01M352.07 567.28h.01M410.63 559.26h.01M377.6 565.98h.01M374.91 595.04h.01M419.63 574.56h.01M392.28 587.17h.01M409.81 585.19h.01M292.32 568.11h.01M322.35 596.5h.01M420.99 577.6h.01M398.8 583.11h.01M405.56 588.17h.01M426.62 584.21h.01M426.75 602.72h.01M393.54 583.79h.01M309.15 589.62h.01M391.99 571.85h.01M402.05 570.33h.01M411.07 582.08h.01M405.19 587.58h.01M395.31 572.07h.01M319.61 575.81h.01M335.72 570.33h.01M362.08 586.09h.01M403.24 587.97h.01M384.05 571.04h.01M344.92 579.59h.01M431.6 595.43h.01M284.89 606.8h.01M307.18 576.65h.01M290.18 559.51h.01M329.71 583.46h.01M299.62 603.27h.01M390 587.7h.01M417.66 587.29h.01M330.31 577.43h.01M408.87 594.65h.01M382.91 577.38h.01M366.5 572.54h.01M301.29 600.62h.01M295.05 562.4h.01M394.51 578.89h.01M409.66 581.19h.01M349.24 575.07h.01M338.95 588.55h.01M289.97 598.66h.01M342.82 552.76h.01M391.36 596.23h.01M344.97 580.94h.01M424.1 580.98h.01M356.83 591.27h.01M300.98 568.13h.01M318.73 558.16h.01M362.16 597.51h.01M341.73 564.56h.01M337.87 578.28h.01M371.55 579.59h.01M281.2 581.32h.01M332.71 581.26h.01M276.3 594.37h.01M424.85 598.08h.01M287.12 599.55h.01M370.59 585.11h.01M377.24 568.09h.01M292.5 577.89h.01M286.08 584.51h.01M381.51 571.01h.01M305.88 575.08h.01M360.96 591.67h.01M293.9 589.07h.01M368.26 584.86h.01M329.96 568.58h.01M409.36 566.81h.01M354.03 588.43h.01M340.69 585.63h.01M357.88 595.44h.01M282.18 585.04h.01M394.77 574.94h.01M349.69 582.08h.01M366.16 579.27h.01M384.02 591.17h.01M411.41 571.07h.01M395.92 569.67h.01M307.34 583.75h.01M278.81 597.41h.01M307.94 566.33h.01M364.38 581.18h.01M305.02 594.23h.01M402.04 581.7h.01M356.93 611.54h.01M402.76 581.63h.01M333.56 562.84h.01M392.88 581.73h.01M400.24 574.55h.01M345.09 584.58h.01M398.84 584.17h.01M287.59 598.84h.01M465.24 574.16h.01M425.74 598.54h.01M364.75 577.14h.01M384.31 582.43h.01M406.36 574.72h.01M314.89 568.77h.01M383.07 596.85h.01M282.22 587.58h.01M430.61 559.18h.01M328.08 576.5h.01M312.53 610.19h.01M362.58 598.12h.01M393.69 584.93h.01M285.28 574.42h.01M316.29 582.55h.01M369.09 566.56h.01M327.05 573.91h.01M312.43 582.1h.01M343.82 560.57h.01M398.17 584.37h.01M403.13 586.79h.01M378.92 580.31h.01M293.51 590.25h.01M331.51 594.37h.01M367.08 580.54h.01M339.68 586.29h.01M288.55 589.16h.01M378.73 584.43h.01M385.95 567.94h.01M300.01 574.49h.01M425.12 586.1h.01M291.96 589.78h.01M389.72 597.84h.01M342.05 578.13h.01M286.41 573.38h.01M397.07 580.01h.01M375.37 582.53h.01M299.01 575.74h.01M389.42 580.04h.01M413.65 589.12h.01M306.09 571.59h.01M398.47 589.23h.01M354.36 577.56h.01M308.92 564.81h.01M300.03 579.38h.01M393.64 600.2h.01M333.92 585.71h.01M396.02 573.73h.01M319.41 580.88h.01M282.67 612.28h.01M300.71 600.65h.01M397.66 573.56h.01M333.75 590.13h.01M320.41 570.63h.01M342.46 586.39h.01M342.32 576.85h.01M416.77 584.87h.01M405.14 554.08h.01M331.92 576.63h.01M372.73 578.19h.01M396.69 565.37h.01M409.04 596.04h.01M396.07 593.82h.01M395.37 545.87h.01M314.07 582.37h.01M316.95 598.73h.01M330.64 570.51h.01M398.15 600.58h.01M327.87 577.81h.01M306.15 573.31h.01M301.16 579.81h.01M296.06 599.35h.01M340.63 580.59h.01M287.68 594.32h.01M309.26 582.19h.01M404.94 586.99h.01M418.09 597.13h.01M289.39 575.08h.01M305.55 591.61h.01M296.76 567.11h.01M392.51 599.45h.01M298.87 601.48h.01M316.51 591.86h.01M343.17 586.76h.01M325.51 579.2h.01M282.59 585.36h.01M397.02 576.14h.01M378.67 579.39h.01M381.53 594.87h.01M342.06 581.11h.01M314.01 570.38h.01M366.71 581.58h.01M418.06 594.31h.01M363.18 579.24h.01M311.21 597.19h.01M279.21 586.38h.01M309.12 593.75h.01M342.13 592.86h.01M335.68 585.76h.01M360.23 577.22h.01M317.1 570.63h.01M436.83 578.17h.01M278.73 612.18h.01M405.38 576.51h.01M370.11 601.86h.01M306.55 571.36h.01M336.13 581.69h.01M368.29 582.46h.01M330.61 568.65h.01M296.67 594.1h.01M287.09 577.91h.01M297.38 583.13h.01M386.07 573.49h.01M284.85 611.3h.01M414.25 607.18h.01M338.53 585.46h.01M435.94 578.79h.01M310.44 562.12h.01M330.32 583.78h.01M370.3 591.44h.01M320.41 576.94h.01M380 598.13h.01M358.28 576.56h.01M282.26 575.94h.01M432.19 575.72h.01M290.43 599.65h.01M416.02 580.55h.01M397.41 570.86h.01M335.45 572.14h.01M278.55 576.79h.01M326.15 576.86h.01M291.72 578.85h.01M398.88 577.31h.01M289.41 588.76h.01M404.05 598.84h.01M455.95 573.65h.01M308.15 591.1h.01M433.15 580h.01M404.07 565.89h.01M347.2 598.02h.01M412.33 581.93h.01M397.53 580.45h.01M317.15 593.78h.01M312.91 582.36h.01M277.54 597h.01M367.47 589.6h.01M286.73 626.46h.01M298.72 572.53h.01M449.42 588.33h.01M413.5 595.97h.01M387.08 559.03h.01M414.93 589.88h.01M316.53 584.94h.01M443.14 580.99h.01M335.94 585.9h.01M329.21 600.13h.01M378.65 588.05h.01M439.86 568.77h.01M436.61 593.95h.01M304.37 565.38h.01M404.54 596.06h.01M413.27 604.12h.01M354.65 588.01h.01M455.96 563.47h.01M451.41 571.37h.01M336.26 553.37h.01M355.01 589.43h.01M433.75 570.14h.01M304.1 586.33h.01M404.89 569.63h.01M364.26 584.38h.01M411.2 559.68h.01M409.2 579.25h.01M298.99 599.17h.01M412.89 578.42h.01M422.24 595.53h.01M400.19 577.84h.01M398.87 570.46h.01M312.88 577.92h.01M370.55 602.45h.01M296.73 580.11h.01M288.03 570.63h.01M304.67 590.03h.01M408.99 570.2h.01M354.19 589.53h.01M391.33 572.9h.01M389.27 582.25h.01M374.03 581.02h.01M348.06 574.11h.01M336.53 572.71h.01M383.49 569.13h.01M286.21 610.67h.01M374.75 569.44h.01M304.49 594.21h.01M381.33 568.78h.01M440.06 596.71h.01M356.56 571.55h.01M373.44 604.19h.01M368.5 569.97h.01M290.33 582.38h.01M304.91 605.58h.01M322.16 561.59h.01M401.14 572.41h.01M425.6 566.33h.01M284.23 595.95h.01M316.46 575.8h.01M307.4 575.79h.01M379.91 565.42h.01M366.45 580.8h.01M293.89 564.97h.01M329.73 588.19h.01M302.2 576.06h.01M340.68 573.5h.01M388.45 587.22h.01M412.6 579.77h.01M378.89 594.29h.01M441.33 578.08h.01M346.04 581.32h.01M378.07 593.37h.01M332.86 575.12h.01M376.18 583.47h.01M387.43 574.05h.01M332.66 585.04h.01M354.78 588.53h.01M382.05 574.18h.01M297.5 597.8h.01M364.13 593.11h.01M284.63 577.58h.01M425.26 560.4h.01M414.83 601.54h.01M278.82 607.41h.01M332.41 571.4h.01M404.54 592.17h.01M311.25 577.39h.01M330.9 593.96h.01M278.64 575.05h.01M334.37 576.35h.01M292.7 584.2h.01M304.09 561.34h.01M386.94 584.59h.01M410.96 572.02h.01M313.97 586.58h.01M338.05 581.43h.01M402.61 575.06h.01M373.72 557.81h.01M332.24 571.9h.01M285.43 569.05h.01M381.89 589.15h.01M385.21 573.32h.01M325.84 593.24h.01M324.5 581.45h.01M405.79 584.11h.01M326.11 578.2h.01M279.48 609.61h.01M324.48 574.18h.01M326.79 594.12h.01M323 561.16h.01M388.65 572h.01M376.21 581.14h.01M292.76 600.11h.01M300.93 582.91h.01M324.59 584.61h.01M294.53 567.38h.01M419.36 562.15h.01M354.02 601.51h.01M402.99 584.83h.01M307.16 571.4h.01M361.46 591.37h.01M395.16 576.27h.01M409.86 574.98h.01M367.09 570.47h.01M301.8 566.18h.01M421.04 569.9h.01M382.62 574.84h.01M430.16 571.46h.01M348.46 590.09h.01M290.28 588.67h.01M343.7 573.36h.01M340.56 579.8h.01M379.44 594.16h.01M289.62 582.14h.01M279.94 564.67h.01M353.85 577.26h.01M295.42 569.66h.01M423.89 559.89h.01M342.27 587.44h.01M412.85 580.36h.01M412.31 588.79h.01M300.41 602.87h.01M397.84 583.81h.01M284.1 571.33h.01M388.99 577.69h.01M329.65 595.18h.01M337.89 607.71h.01M409.03 588.79h.01M421.06 579.42h.01M278.43 586.3h.01M280.64 577.92h.01M304.64 608.33h.01M346.81 587.45h.01M298.01 608.89h.01M330.27 601h.01M322.47 576.17h.01M417.98 580.16h.01M375.78 571.36h.01M414.29 577.09h.01M418.03 585.36h.01M287.8 583.5h.01M347.14 586.49h.01M354.84 601.92h.01M383.59 603.78h.01M362.21 574.54h.01M376.98 582.69h.01M345.57 560.88h.01M407.98 588.56h.01M438.74 574.55h.01M331.92 581.81h.01M395.88 592.65h.01M283.21 575.39h.01M288.29 591.86h.01M301.5 596.13h.01M343.98 583.63h.01M372.73 574.6h.01M386.06 572.52h.01M372.06 571.47h.01M433.36 589.46h.01M359.43 603.85h.01M422.23 578.22h.01M348.4 608.79h.01M409.8 586.73h.01M304.72 605.85h.01M428.98 576.94h.01M389.24 585.04h.01M361.41 591.18h.01M292.51 588.32h.01M302.29 600.02h.01M403.4 597.44h.01M334.86 567.55h.01M297.93 580.02h.01M398.18 578.23h.01M290.92 578.39h.01M387.66 575.8h.01M297.55 607.21h.01M292.73 598.81h.01M313.43 585.37h.01M372.46 590.05h.01M409.48 580.23h.01M385.1 591.97h.01M398.59 601.07h.01M421.5 571.24h.01M416.96 595.08h.01M364.19 576.87h.01M280.31 578.02h.01M377.64 587.84h.01M305.06 575.96h.01M304.2 563.06h.01M292.42 587.56h.01M366.64 589.91h.01M288.96 605.38h.01M326.07 599.53h.01M404.26 590.43h.01M383.21 582.74h.01M416.88 610.65h.01M293.73 595.77h.01M429.68 583.28h.01M312.7 592.84h.01M355.5 580.55h.01M280.25 598.59h.01M359.92 586.48h.01M337.84 587.68h.01M411.4 590.9h.01M317.57 586.27h.01M285.07 574.8h.01M425.85 576.65h.01M367.58 604.14h.01M307.63 607.4h.01M294.44 584.26h.01M381.28 579.38h.01M282.72 602.86h.01M344.07 600.03h.01M279.75 602.84h.01M313.46 583.49h.01M303.75 578.4h.01M412.51 589.72h.01M364.83 573.63h.01M286.46 609.83h.01M319.61 584.93h.01M298.63 556.32h.01M283.75 572.68h.01M304.45 602.48h.01M326.35 558.33h.01M309.87 565.46h.01M281.22 585.01h.01M315.54 579.36h.01M371.57 588.82h.01M424.6 575.45h.01M352.24 571.34h.01M350.28 566.1h.01M306.94 572.51h.01M279.94 609.43h.01M303.55 591.11h.01M291.15 573.95h.01M434.72 597.33h.01M363.28 582.83h.01M298.36 569.74h.01M301.67 589.42h.01M308.81 573.88h.01M325.66 580.68h.01M285.05 571.93h.01M297.56 591.6h.01M386.77 583.15h.01M284.56 584.18h.01M356.04 595.59h.01M297.09 605.35h.01M311.12 591.52h.01M371.5 585.12h.01M333.11 573.75h.01M368.29 572.59h.01M342.98 582.6h.01M333.62 594.28h.01M294.44 588.12h.01M361.31 585.47h.01M348.07 577.06h.01M381.58 586.64h.01M345.58 569.24h.01M345.64 572.9h.01M397.03 566.76h.01M407.33 563.71h.01M437.63 584.49h.01M309.13 554.63h.01M439.63 576.67h.01M405.16 597.32h.01M343.98 575.88h.01M379.43 583.27h.01M319.35 590.4h.01M326.12 581.54h.01M318.85 555.55h.01M355.17 594.69h.01M320.91 591.99h.01M385.51 580.73h.01M421.3 554.99h.01M295.2 591.53h.01M390.93 587.01h.01M364.32 549.48h.01M310.98 591.77h.01M389.12 577.88h.01M281.08 600.66h.01M350.24 590.42h.01M402.72 583.24h.01M384.76 573.58h.01M329.18 595.51h.01M391.05 586.82h.01M411.62 569.68h.01M436.08 581.84h.01M410.35 582.73h.01M381.08 561.42h.01M302.64 577.66h.01M398.73 557.36h.01M288.75 574.05h.01M392.3 566.86h.01M381.93 587.99h.01M375.59 593.36h.01M414.92 563.11h.01M288.11 600.94h.01M424.47 588.33h.01M369.39 592.73h.01M296.15 599.67h.01M329.9 591.18h.01M452.17 574.44h.01M318.1 577.27h.01M352.17 601.65h.01M306.34 598.37h.01M361.24 593.94h.01M305.54 563.62h.01M305.99 602.79h.01M376.74 576.92h.01M295.8 587.77h.01M311.23 581.72h.01M319.04 601.39h.01M286.15 589.99h.01M291.65 589.86h.01M277.75 605.35h.01M310.33 588.02h.01M370.6 578.87h.01M330.06 579.91h.01M347.68 582.02h.01M415.23 569.58h.01M384.93 571.88h.01M384.01 589.43h.01M361.25 579.74h.01M363.96 556.5h.01M384.96 584.2h.01M276.23 598.92h.01M407.27 596.06h.01M416.1 593.15h.01M442.12 597.8h.01M305.41 565.89h.01M306.14 591.5h.01M352.1 560.07h.01M398.49 582.48h.01M395.12 589.71h.01M393.71 569.81h.01M303.59 582.65h.01M281.57 579.34h.01M397.61 569.54h.01M391.4 587.28h.01M317.45 602.71h.01M415.82 590.84h.01M285.6 602.53h.01M289.15 592.15h.01M331.55 548.25h.01M380.91 571.25h.01M293.35 577.08h.01M393 569.26h.01M345.07 593.38h.01M467.64 562.42h.01M372.01 576.21h.01M286.96 581.71h.01M380.43 571.63h.01M301.93 604.48h.01M352.34 575.84h.01M336.44 586.67h.01M280.38 585.21h.01M277.7 589.89h.01M312.59 582.33h.01M342.5 573.99h.01M336.21 586.43h.01M353.54 585.55h.01M345.57 584.96h.01M286.5 577.86h.01M365.71 605.23h.01M424.09 593.5h.01M441.52 572.2h.01M386.2 583.06h.01M381.34 587.86h.01M375.02 582.58h.01M322.82 566.69h.01M419.58 592.95h.01M394.25 598.25h.01M388.48 576.5h.01M335.59 589.95h.01M450.93 586.23h.01M309.21 572.51h.01M410.38 566.7h.01M393.32 572.63h.01M278.57 583.99h.01M365.96 572.07h.01M296.89 611.41h.01M339.87 573.98h.01M394.43 575.46h.01M447.52 596.32h.01M308.89 564.15h.01M283.53 589.15h.01M360.86 573.98h.01M406.5 597.37h.01M359.43 586.34h.01M297.68 573.79h.01M332.29 566.8h.01M287.48 586.98h.01M315.83 549.07h.01M399.74 579.09h.01M343.94 593.8h.01M365.19 581.66h.01M443.12 586.23h.01M318.81 575.99h.01M344.36 581.66h.01M444.83 573.33h.01M292.7 571.4h.01M426.73 575.28h.01M347.28 611.21h.01M356.64 559.89h.01M364.43 563.51h.01M344.67 602.69h.01M391.18 593.57h.01M382.63 573.3h.01M402.22 596.48h.01M279.94 598.17h.01M313.89 586.08h.01M359.8 590.42h.01M322.1 602.17h.01M354.52 595.85h.01M427.83 581.64h.01M371.31 582.4h.01M390.71 595.87h.01M399.12 601.45h.01M325.02 569.44h.01M322.06 577.85h.01M322.66 574.17h.01M342.28 583.78h.01M348.51 585.33h.01M374.57 575.82h.01M392.5 571.56h.01M296.16 563.17h.01M406.6 592.12h.01M283.27 577.1h.01M280.89 585.24h.01M409.85 584.96h.01M324.14 566.41h.01M383.38 564.08h.01M346.43 566.22h.01M411.22 584.98h.01M354.43 581.75h.01M295.45 605.61h.01M332.14 581.96h.01M301.1 567.16h.01M327.02 588.71h.01M349.74 571.95h.01M297.07 581.56h.01M427.21 604.85h.01M305.32 583.5h.01M438.36 575.12h.01M354.69 569.59h.01M441.69 577.44h.01M310.36 591.78h.01M424.37 582.39h.01M351.53 584.26h.01M309.77 588.75h.01M359.05 588.24h.01M327.25 572.44h.01M407.22 568.12h.01M351.54 592.73h.01M429.03 576.19h.01M428.46 563.39h.01M339.86 569.18h.01M300.07 590.75h.01M296.62 594.78h.01M328.44 585.19h.01M302.53 607.68h.01M371.39 580.41h.01M397.28 587.38h.01M345.29 593.22h.01M286.88 595.74h.01M327.9 584.97h.01M372.95 572h.01M389.31 583.98h.01M334.06 590.1h.01M339.85 559.38h.01M382.34 602.37h.01M338.65 575.95h.01M305.42 588.54h.01M428.96 587.67h.01M352.53 578.72h.01M369.6 580.16h.01M425.22 562.98h.01M422.49 580.04h.01M320.86 582.99h.01M334.48 587.88h.01M380.21 558.92h.01M309.29 559.48h.01M310.68 593h.01M300.96 552.85h.01M422.2 588.59h.01M305.52 599.44h.01M302.81 597.15h.01M339.66 589.43h.01M307.13 595.77h.01M280.06 592.35h.01M295.78 600.14h.01M288.38 603h.01M304.54 606.31h.01M357.4 592.19h.01M342.41 563.33h.01M392.6 583.94h.01M356.64 585.22h.01M352.51 580.13h.01M394.07 578.97h.01M327.34 577.42h.01M285.98 615.64h.01M382.2 591.7h.01M382.49 589.09h.01M312.53 601.56h.01M303.99 585.54h.01M359.55 570.35h.01M406.6 599.48h.01M313.6 603.44h.01M378.32 575.45h.01M432.25 593.38h.01M379.23 583.55h.01M299.48 605.69h.01M396.37 584.36h.01M334.04 580.96h.01M301.95 577.65h.01M369 566.53h.01M313.7 593.72h.01M300.09 599.83h.01M330.36 572.05h.01M422.03 567.92h.01M326.56 587.72h.01M349.77 598.34h.01M345.46 565.69h.01M341.91 571.68h.01M395.79 560.5h.01M385.37 575.22h.01M312.85 576.83h.01M326.6 590.26h.01M292.06 562.01h.01M287.78 596.68h.01M292.72 576.23h.01M336.57 574.33h.01M284.13 598.45h.01M398.31 590.53h.01M390.45 583.45h.01M401.56 581.36h.01M286.17 618.16h.01M387.17 584.99h.01M345.84 593.19h.01M439.21 576.16h.01M434.46 575.13h.01M346.53 590.84h.01M384.46 565.47h.01M420.53 594.69h.01M385.14 608.94h.01M318.48 572.48h.01M324.21 564.52h.01M358.75 582.39h.01M323.69 574.35h.01M294.63 606.29h.01M403.77 587.68h.01M280.99 597h.01M335.63 566.96h.01M397.23 611.26h.01M405.85 568.09h.01M296.16 566.33h.01M369.59 590.38h.01M311.49 562h.01M310.18 573.82h.01M294.63 579.08h.01M375.11 589.81h.01M450.78 583.28h.01M343.74 573.8h.01M398.16 574.71h.01M326.86 570.23h.01M414.92 602.93h.01M340.66 569.28h.01M408.93 582.1h.01M364.53 560.2h.01M300.96 573.85h.01M331.35 577h.01M353.95 570.69h.01M276.35 601.51h.01M377.58 579.86h.01M283.73 579.6h.01M393.4 589.72h.01M409.73 592.48h.01M372.59 590.41h.01M370.15 579.18h.01M315.02 588.47h.01M281.59 587.06h.01M312.88 580.62h.01M433.71 608.12h.01M402.78 582.89h.01M389.2 575.31h.01M357.58 574.42h.01M375.47 591.68h.01M378.07 581.01h.01M369.3 578.91h.01M422.25 562.42h.01M286.57 592.21h.01M368.54 571.23h.01M299.25 588.97h.01M359.51 573.62h.01M386.45 580.14h.01M416.77 592.86h.01M424.99 582.18h.01M357.48 590.59h.01M425.97 587.16h.01M400.88 596.54h.01M322.52 584.77h.01M358.29 590.01h.01M356.39 588.63h.01M371.79 574.86h.01M327.9 576.4h.01M386.12 598.14h.01M364.71 567.1h.01M295.52 601.92h.01M282.09 601.27h.01M423.79 581.18h.01M300.39 580.86h.01M314.92 606.79h.01M363.5 573.8h.01M352.6 585.17h.01M318.91 569.6h.01M295.04 571.52h.01M343.16 581.95h.01M327.41 570.58h.01M342.22 581.11h.01M344.29 587.83h.01M294.16 611.76h.01M283.71 578.73h.01M314.19 590.61h.01M383.64 592.08h.01M335.17 578.84h.01M370.13 595.02h.01M360.1 595.33h.01M400.36 573.32h.01M301.23 588.34h.01M312.61 605.59h.01M341.26 595.63h.01M310.75 597.44h.01M354.19 609.72h.01M372.75 594.55h.01M295.1 577.01h.01M314.12 581.93h.01M335.48 561.01h.01M316.58 584.98h.01M348.05 570.63h.01M355.96 571.45h.01M316.68 577.41h.01M298.75 583.71h.01M357.39 577.28h.01M304.26 556.07h.01M368.5 585.04h.01M343.34 571.47h.01M326.52 582.35h.01M328.21 591.23h.01M295.89 583.94h.01M320.69 581.61h.01M285.77 605.76h.01M389.92 586.28h.01M362.13 562.33h.01M291.46 591.61h.01M371.23 572.85h.01M458.01 562.55h.01M436.11 578.99h.01M370.08 594.25h.01M321.78 564.49h.01M433.42 575.96h.01M316.88 594.13h.01M391.98 579.69h.01M296.62 569.72h.01M350.22 580.11h.01M374.84 598h.01M387.67 583.98h.01M389.14 581.39h.01M285.14 602.87h.01M358.79 576.68h.01M315.22 563.3h.01M288.75 568.53h.01M297.62 571.62h.01M349.42 586.91h.01M373.12 582.36h.01M419.2 573.81h.01M312.27 558.7h.01M387.98 579.23h.01M320.49 582.4h.01M326.05 574.16h.01M387.15 591.56h.01M295.39 587.9h.01M379.13 575h.01M309.22 584.9h.01M395.75 559.55h.01M285.64 600.53h.01M320.3 595.1h.01M336.32 598.12h.01M283.17 587.15h.01M336.59 601.98h.01M380.34 583.68h.01M281.1 577.13h.01M389.84 581.12h.01M422.63 578.24h.01M330 589.87h.01M351.57 575.59h.01M419.42 562.38h.01M344.44 586.3h.01M375.03 578.88h.01M318.72 562.03h.01M346.71 599.33h.01M391.35 557.87h.01M390.46 565.96h.01M300.86 580.31h.01M337.76 580.69h.01M439.53 587.13h.01M319.46 597.98h.01M304.01 588.45h.01M308.16 566.21h.01M291.43 631.2h.01M352 568.03h.01M308.68 583.39h.01M375.92 582.04h.01M333.63 587.91h.01M358.7 569.92h.01M307.02 585.43h.01M422.99 586.34h.01M294.18 581.28h.01M283.94 606.68h.01M417.62 592.38h.01M288.26 609.02h.01M426.6 575.87h.01M398.26 581.56h.01M357.42 598.43h.01M339.61 579.74h.01M385.92 573.09h.01M281.01 599.19h.01M315.12 594.79h.01M357.72 590.64h.01M413.94 578.2h.01M339.76 595.53h.01M318.39 606.44h.01M334.08 581.25h.01M287.39 587.65h.01M390.6 570.47h.01M408.48 591.21h.01M365.6 558.11h.01M310.92 557.08h.01M395.38 586.53h.01M447.71 578.74h.01M320.16 603.06h.01M392.86 588.49h.01M431.49 577.81h.01M362.11 583.59h.01M282.38 566.74h.01M338.14 591.86h.01M396.74 602.98h.01M335.54 577.08h.01M396.54 579.86h.01M417.85 565.91h.01M354.12 578.19h.01M328.13 599.33h.01M291.71 574.06h.01M435.28 577.05h.01M321.94 565.09h.01M333.74 580.09h.01M304.77 580.03h.01M293.05 595.45h.01M356.8 578.07h.01M353.94 581.19h.01M286.94 572.59h.01M310.08 587.96h.01M295 577.72h.01M320.41 607.06h.01M309.15 600.34h.01M375.72 561.62h.01M343.32 600.49h.01M357.3 597.84h.01M291.89 599.93h.01M372.89 571.17h.01M426.52 569.9h.01M400.02 568.43h.01M307.21 545.1h.01M432.84 595.67h.01M374.62 586.42h.01M425.47 588.57h.01M320.72 565.87h.01M378.35 581.96h.01M414.74 579.45h.01M292.91 596.37h.01M396.11 579.29h.01M299.27 576.47h.01M383.18 592.67h.01M286.84 584.36h.01M313.94 605.01h.01M308.84 560.04h.01M314.16 597.4h.01M459.11 561.12h.01M349.29 582.45h.01M424.94 590.12h.01M330.81 581.91h.01M296.18 574.94h.01M329.13 598.22h.01M294.03 552.07h.01M318.14 592.42h.01M314.19 584.67h.01M376.75 579.01h.01M426.41 583.61h.01M330.95 581.55h.01M409.79 578.72h.01M292.03 583.1h.01M358.96 559.86h.01M330.97 593.39h.01M359.07 595.74h.01M366.55 578.6h.01M354.18 586.43h.01M342.87 592.49h.01M285.9 587.75h.01M363.22 580.57h.01M328.75 583.31h.01M368.09 580.96h.01M438.33 580.72h.01M394.24 579.67h.01M347.56 564.44h.01M300.9 596.27h.01M336.19 576.75h.01M371.21 566.64h.01M317.47 570.34h.01M419.04 587.76h.01M279.33 581.53h.01M412.34 577.3h.01M406.74 574.76h.01M414.69 558.03h.01M292.25 610.9h.01M386.16 565.29h.01M436.86 586.28h.01M343.54 585.14h.01M287.24 592.31h.01M423 578.19h.01M410.01 575.9h.01M293.35 586.03h.01M309.44 599.1h.01M378.75 596.25h.01M354.66 582.46h.01M374.42 577.1h.01M286.39 588.89h.01M373.26 571.85h.01M344.28 604.15h.01M400.58 573.58h.01M288.05 587.3h.01M298.3 563.03h.01M284.01 592.58h.01M393.6 562.41h.01M328.52 577.11h.01M405.61 580.11h.01M306.7 594.16h.01M356.37 597.69h.01M364.45 578.03h.01M422.03 576.79h.01M275.36 601.9h.01M354.76 583.1h.01M412.8 592.99h.01M398.14 582.56h.01M283.62 553.9h.01M333.65 590.13h.01M282.56 587.18h.01M321.87 590.62h.01M282.78 590.43h.01M288.77 591.22h.01M279.85 596.22h.01M361.86 558.57h.01M379.02 580.3h.01M375.96 567.93h.01M330.28 608.31h.01M387.55 581.33h.01M415.53 592.56h.01M280.79 604.07h.01M369.91 601.55h.01M326.91 582.28h.01M406.23 584.01h.01M443.31 584.65h.01M275.55 601h.01M403.89 604.85h.01M339.69 567.46h.01M341.12 568.47h.01M402.67 594.22h.01M306.08 593.66h.01M362.22 587.81h.01M401.22 571.72h.01M376.85 586.93h.01M298.67 560.99h.01M372.79 581.81h.01M340.16 577.38h.01M340.29 582.69h.01M369.46 595.04h.01M286.43 570.96h.01M333.36 586.6h.01M405.04 559.69h.01M292.22 568.25h.01M410.93 597.44h.01M374.06 585.75h.01M294.01 574.17h.01M383.44 578.21h.01M343.46 573.87h.01M312.76 582.31h.01M277.13 594.95h.01M291.81 596.38h.01M292.61 593.05h.01M388.95 578.48h.01M403.22 574.04h.01M346.78 574.51h.01M358.71 601.42h.01M287.07 594.84h.01M296.17 569.35h.01M367.38 572.19h.01M404.21 579.9h.01M278.54 594.4h.01M285.83 596.7h.01M363.5 591.53h.01M447.17 561.83h.01M291.54 550.07h.01M342.28 564.21h.01M320.73 583.37h.01M348.7 566.94h.01M285.65 597.58h.01M373.09 565.43h.01M342.74 578.79h.01M430.09 582.46h.01M420.99 596.16h.01M318.25 586.66h.01M334.33 588.21h.01M393.08 594.25h.01M354.63 597.45h.01M293.08 603.3h.01M319.24 604.38h.01M362.56 582.52h.01M316.29 581.53h.01M400.41 565.29h.01M379.77 596.67h.01M322.5 578.36h.01M423.71 576.22h.01M407.3 595.85h.01M406.73 580.56h.01M400.93 592.98h.01M297.62 596.75h.01M306.05 583.34h.01M415.34 592.26h.01M296.78 601.38h.01M329.75 579.78h.01M448.44 579.74h.01M346.27 591.59h.01M282.24 605.73h.01M349.03 594.8h.01M341.34 592.37h.01M334.84 588.92h.01M417.07 583.55h.01M308.55 596.24h.01M333.18 585.32h.01M338.37 576.43h.01M363.04 573.72h.01M348.01 563.26h.01M366.44 588.67h.01M324.38 598.32h.01M338.59 563.55h.01M296.6 568.59h.01M306.66 565.29h.01M439.88 594.65h.01M414.99 576.02h.01M416.74 583.82h.01M331.15 591.75h.01M357.76 591.48h.01M327.06 572.58h.01M386.44 579.07h.01M365.26 588.35h.01M286.12 580.76h.01M290.15 581.99h.01M363.05 583.71h.01M355.95 569.33h.01M392 592.1h.01M457.02 560.88h.01M381.88 587.04h.01M307.61 600h.01M354.93 552.96h.01M336.32 597.47h.01M299.11 566.82h.01M371.84 568.45h.01M314.16 566.51h.01M382.65 580.53h.01M310.82 574.27h.01M432.43 588.76h.01M305.69 558.39h.01M280.79 579.84h.01M308.92 594.63h.01M442.21 553.85h.01M435.15 585.67h.01M386.53 595.69h.01M274.15 611.5h.01M339.72 602.71h.01M280.21 607.26h.01M292.25 591.8h.01M391.62 578.41h.01M394.72 584.93h.01M380.97 589.36h.01M434.82 579.8h.01M292.31 563.4h.01M283.21 603.41h.01M287.69 590.72h.01M341.52 588.21h.01M411.36 580.33h.01M316.31 578.31h.01M291.26 578.44h.01M359.66 591.23h.01M283.42 592.83h.01M355.53 588.17h.01M300.63 574.63h.01M414.19 578.09h.01M386.63 578.27h.01M350.59 582.04h.01M277.54 609.42h.01M437.66 563.04h.01M393.62 583.4h.01M412.78 589.79h.01M343.51 598.51h.01M315.72 570.4h.01M302.98 622.33h.01M362.92 606.79h.01M455.13 583.26h.01M380.38 582.46h.01M311.71 585.78h.01M356.19 582.02h.01M308.21 585.11h.01M363.2 590.28h.01M279.77 583.22h.01M331.23 568.41h.01M421.96 574.03h.01M382.67 584.18h.01M348.96 573.68h.01M346.29 596.3h.01M358.6 592.88h.01M298.55 585.03h.01M285 591.76h.01M274.71 580.42h.01M319.29 597.89h.01M317.05 549.56h.01M424.01 583.8h.01M328.54 561.87h.01M452.4 551.37h.01M335.36 583.5h.01M314.02 598.44h.01M326.44 587.08h.01M291.7 585.54h.01M279.33 595.83h.01M352.11 561.1h.01M385.3 588.23h.01M402.13 592.78h.01M385.11 569.54h.01M330.5 583.26h.01M331.3 596.5h.01M431.91 583.93h.01M294.38 584.18h.01M279.72 600.4h.01M298.3 583.56h.01M306.39 576.7h.01M437.69 588.52h.01M283.14 597.7h.01M319.78 580.75h.01M379.84 591.44h.01M472.47 575.3h.01M300.09 589.93h.01M348.81 576.28h.01M388.74 557.02h.01M336.9 568.64h.01M442.62 600.54h.01M370 571.25h.01M393.28 572.16h.01M350.88 585.08h.01M424.02 575.41h.01M288.84 575.07h.01M283.59 597.04h.01M369.96 596.69h.01M340.86 581.04h.01M282.73 590.92h.01M468.43 549.89h.01M452.97 578.09h.01M384.64 578.63h.01M310.97 568.14h.01M301.54 579.81h.01M298.77 571.51h.01M432.52 582.83h.01M367.69 581.77h.01M289.76 565.96h.01M333.74 594.08h.01M355.48 591.57h.01M311.22 586.76h.01M328.82 577.34h.01M390.68 565.12h.01M281.04 600.48h.01M349.19 572.8h.01M304.32 564.17h.01M299.27 588.55h.01M347.17 562.11h.01M306.81 570.84h.01M297.21 568.71h.01M373.02 578.61h.01M278.4 591.44h.01M407.42 579.65h.01M294.8 573.68h.01M377.32 579.51h.01M303.54 570.88h.01M326.92 585.31h.01M300.37 571.59h.01M294.75 594.8h.01M295.26 586.63h.01M349.24 580.06h.01M294.78 590.19h.01M392.07 559.44h.01M307.94 585.03h.01M316.77 582.05h.01M311.34 594.48h.01M344.21 586.67h.01M326.25 593.09h.01M296.54 582.5h.01M350.78 599.95h.01M309.16 583.4h.01M333.39 580.31h.01M302.57 596.76h.01M309.8 594.38h.01M377.83 592.29h.01M289.52 577.84h.01M417.25 593.51h.01M337.48 584.12h.01M422.99 582.56h.01M306.17 573.06h.01M328.97 565.55h.01M425.74 597.04h.01M326.92 579.02h.01M418.57 581.55h.01M317.53 585.24h.01M281.45 585.5h.01M325.17 587.53h.01M369.33 579.21h.01M293.59 583.06h.01M282.25 611.97h.01M345.23 570.72h.01M306.34 571.75h.01M293.69 593.32h.01M375.62 604.95h.01M358.27 578.07h.01M333.39 585.7h.01M424.25 573.13h.01M304.66 608.5h.01M375.39 606.75h.01M331.03 567.88h.01M330.23 584.51h.01M311.65 582.36h.01M308.02 585.34h.01M407.86 587.95h.01M325.62 584.07h.01M343.01 582.55h.01M415.47 592.5h.01M408.52 588.28h.01M328.81 575.67h.01M422.94 575.67h.01M370.44 592.82h.01M363.04 574.62h.01M423.43 576.53h.01M350.93 581.28h.01M422.09 572.64h.01M314.92 573.67h.01M303.54 581.33h.01M356.43 582.33h.01M358.71 567.6h.01M355.36 574.91h.01M284.5 592.24h.01M306.68 595.3h.01M319.87 589.06h.01M326.36 581.43h.01M281.18 576.69h.01M362.9 559.87h.01M404.73 578.91h.01M407.32 593.7h.01M431.21 593.97h.01M292.42 589.17h.01M309.95 599.39h.01M374.19 588.26h.01M303.11 589.93h.01M358.71 593.86h.01M386.94 567.11h.01M372.25 581.91h.01M348.29 551.04h.01M361.05 563.34h.01M284.48 587.04h.01M400.03 597.27h.01M376.09 590.93h.01M408.32 592.6h.01M405.83 593.1h.01M296.84 589.48h.01M335.71 581.8h.01M404.37 587.58h.01M397.04 584.82h.01M354.3 580.29h.01M382.77 580.68h.01M365.09 579.74h.01M376.51 588.74h.01M341.88 562.43h.01M322.87 593.45h.01M381.43 594.37h.01M382.25 604.48h.01M319.15 576.48h.01M357.74 560.79h.01M295.34 560.1h.01M299.47 592.67h.01M409.26 577.43h.01M291.84 583.62h.01M314.84 539.53h.01M416.18 597.56h.01M355.63 587.81h.01M425.2 566.14h.01M278.85 601.23h.01M384.39 571.07h.01M343.48 565.46h.01M331.99 584.8h.01M381.33 576.73h.01M425.85 573.78h.01M354.58 569.4h.01M298.99 574.65h.01M295.23 596.86h.01M433.09 596.8h.01M420.8 572.07h.01M387.17 588.54h.01M405.66 597.92h.01M299.3 589.59h.01M389.94 568.66h.01M448.01 576.77h.01M310.86 585.67h.01M387.68 580.17h.01M352.78 595.02h.01M396.42 566.69h.01M376.79 577.97h.01M440.83 586.25h.01M291.85 585.72h.01M413.62 568.33h.01M324.2 607.31h.01M335.18 592.23h.01M288.19 584.11h.01M289.88 582.98h.01M423.96 579.78h.01M304.18 584.99h.01M359.17 594.4h.01M347.27 593.49h.01M323.15 592.03h.01M333.04 600.28h.01M351.92 564.54h.01M409.6 558.4h.01M359.2 592.43h.01M294.12 565.15h.01M431.64 578.79h.01M379.48 581.2h.01M403.39 604.88h.01M422.54 573.81h.01M287.24 567.51h.01M345.52 579.39h.01M355.74 580.92h.01M327.29 586.05h.01M311.7 580.11h.01M393.85 583.56h.01M311.94 578.05h.01M363.33 582.88h.01M288.74 560.98h.01M361.45 589.34h.01M411.63 604.08h.01M309.31 583.92h.01M317.15 605.09h.01M316.14 573.62h.01M364.49 586.84h.01M330.13 597.55h.01M410.78 571.3h.01M298.99 574.44h.01M320.98 582.34h.01M318.97 586.91h.01M401.21 594.52h.01M331.41 593.38h.01M405.61 565.12h.01M320.92 576.9h.01M357.11 579.85h.01M406.92 602.18h.01M277.55 592.71h.01M280.66 581.89h.01M410.09 596.97h.01M339.17 593.25h.01M279.73 592.28h.01M316.93 587.83h.01M329.07 566.22h.01M287.15 593.98h.01M289.72 571.17h.01M402.68 574.64h.01M300.49 581.07h.01M335.49 558h.01M316.92 581.56h.01M409.47 589.11h.01M308.47 585.44h.01M307.64 562.6h.01M403.15 583.87h.01M337.44 557.09h.01M277.69 590.87h.01M346.99 602.78h.01M369.15 580.07h.01M310.81 592.63h.01M407.08 577.11h.01M302.14 582.45h.01M282.54 578.14h.01M461.64 552.01h.01M422.19 587.08h.01M374.91 578.52h.01M308.85 598.88h.01M352.07 593.64h.01M290.69 609.42h.01M382.55 584.01h.01M380.51 567.6h.01M306.33 591.57h.01M331.61 585.01h.01M360.71 594.85h.01M400.33 598.73h.01M336.53 587.71h.01M350.75 581.53h.01M353.24 574.64h.01M377.71 590.59h.01M334.54 592.66h.01M319.47 588.73h.01M305.33 571.21h.01M283.51 594.5h.01M419.5 596.98h.01M391.08 575.44h.01M401.85 603.95h.01M404.38 568.68h.01M306.16 590.7h.01M428.08 604.13h.01M305.2 578.61h.01M411.36 573.65h.01M292.7 581.34h.01M360.65 580.85h.01M371.78 589.19h.01M386.91 587.87h.01M313.51 576.3h.01M353.76 586.38h.01M417.66 596.84h.01M412.35 605.94h.01M392 584.09h.01M287.71 575.36h.01M318.23 568.4h.01M318.85 587.53h.01M333.05 607.63h.01M391.36 587.08h.01M322.78 602.07h.01M347 581.28h.01M433.99 587.85h.01M326.17 575.57h.01M352.42 576.71h.01M339.1 566.27h.01M280.03 583.09h.01M292.9 572.44h.01M355.77 584.89h.01M370.99 577.53h.01M420.75 596.38h.01M353.79 583.26h.01M356 571.12h.01M325.79 596.36h.01M410.96 569.97h.01M393.03 574.37h.01M347.45 565.21h.01M374.8 577.83h.01M400.12 570.35h.01M286.91 610.98h.01M327.69 566.89h.01M421.56 601.66h.01M395.72 600.69h.01M340.06 583.81h.01M413.56 580.36h.01M296.11 581.66h.01M346.91 580.69h.01M443.7 575.16h.01M402.55 594.85h.01M336.09 591.28h.01M405.23 569.93h.01M386 574.11h.01M340.2 568.95h.01M406.74 579.2h.01M376.14 589.32h.01M430.85 581.66h.01M381.63 603.74h.01M398.58 585.01h.01M414.65 589.1h.01M366.56 571.76h.01M277.53 604.38h.01M424.13 589.82h.01M292.54 576.92h.01M405.43 588.26h.01M316.68 569.05h.01M339.21 577.57h.01M336.04 595.81h.01M342.72 593.63h.01M422.57 578.1h.01M367.08 591.02h.01M413.17 596.7h.01M369.08 570.02h.01M331.65 569.57h.01M459.24 553.19h.01M354.89 584.72h.01M308.38 560.85h.01M390.6 587.92h.01M413.08 572.65h.01M417.18 586.24h.01M272.4 601.16h.01M280.01 606.06h.01M427.83 569.12h.01M283.84 575.53h.01M338.15 588.24h.01M299.41 557.34h.01M361.52 588.76h.01M299.84 595.64h.01M414.27 584.73h.01M378.57 577.3h.01M279.03 591.6h.01M365.07 582.13h.01M347.63 573.67h.01M324.08 579.27h.01M342.01 584.97h.01M286.6 600.53h.01M452.88 563.55h.01M355.84 577.99h.01M305.86 568.03h.01M398.24 580.58h.01M281.77 585.42h.01M365.88 579.55h.01M287.61 584.69h.01M334.47 594.35h.01M333.65 589.09h.01M293.85 593.52h.01M399.56 590.55h.01M295.11 565.96h.01M312.89 604.75h.01M361.93 571.11h.01M418.76 608h.01M409.14 562.31h.01M357.92 581.91h.01M366.27 577.97h.01M393.51 590.02h.01M298.26 595.42h.01M284.08 556.1h.01M291.71 602.2h.01M418.48 558.71h.01M280.27 607.91h.01M359.16 567.64h.01M352.82 581.86h.01M436.54 579.98h.01M358.17 591.15h.01M397.28 597.78h.01M322.28 579.13h.01M359.89 572.98h.01M400.39 607.4h.01M356.78 583.57h.01M379.66 573.4h.01M322.53 592.31h.01M321.98 595.51h.01M339.72 583.38h.01M397.08 579.29h.01M387.28 584.38h.01M315.56 575.67h.01M378.82 571.2h.01M312.35 578.13h.01M351.31 566.95h.01M298.81 599.26h.01M409.24 582.79h.01M428.77 568.5h.01M360.3 574.49h.01M318.78 584.72h.01M283.38 583.25h.01M346.06 602.73h.01M302.05 579.08h.01M414.03 565.79h.01M385.82 571.31h.01M396.03 577.94h.01M340.39 603.04h.01M345.14 567.56h.01M286.18 573.54h.01M403.99 600.99h.01M330.68 587h.01M304.24 598.04h.01M398.02 578.33h.01M298.43 575.04h.01M407.21 587.4h.01M318.51 579.59h.01M300.41 572.36h.01M386.8 581.56h.01M391.32 582.56h.01M336.43 578.38h.01M406.16 595.11h.01M362.44 585.2h.01M334.24 547.79h.01M290.4 573.43h.01M376.12 585.74h.01M303.22 561.18h.01M320.62 596.57h.01M323.54 584.41h.01M284.09 597.37h.01M416.2 586.92h.01M385.98 569.82h.01M435.2 584.2h.01M340.91 598.24h.01M400.67 592.32h.01M309.64 596.13h.01M413.01 569.4h.01M302.24 594.19h.01M395.13 582.87h.01M380.77 585.65h.01M386.52 570.95h.01M283.73 601.3h.01M293.81 596.19h.01M347.3 589.81h.01M391.25 582.35h.01M344.61 549.5h.01M319.12 581.31h.01M408.56 572.74h.01M302.51 579.18h.01M290.3 589.6h.01M407.51 596.39h.01M324.26 579.52h.01M456.27 586.67h.01M308.94 599.41h.01M382.35 571.68h.01M321.2 592.5h.01M434.14 589.42h.01M295.53 591.39h.01M298.88 573.93h.01M279.35 587.85h.01M320.42 564.35h.01M312.6 584.86h.01M387.99 559.7h.01M347.24 576.54h.01M402.7 578.62h.01M411.45 598.7h.01M418.84 604.37h.01M336.37 595.7h.01M390.3 586.47h.01M395.66 586.71h.01M378.24 599.49h.01M314.13 601.15h.01M285.03 567.59h.01M415.47 591.79h.01M357.54 563.84h.01M464.12 554.12h.01M372.34 571.87h.01M353.56 579.74h.01M346.64 553.37h.01M364.64 595.31h.01M313.92 595.81h.01M340.41 565.06h.01M395.08 588.88h.01M371.27 578.47h.01M340.43 591.96h.01M286.08 577.91h.01M417.23 576.83h.01M359.7 579.83h.01M286.37 588.07h.01M409.16 594.82h.01M361.27 596.62h.01M300.86 583.45h.01M289.36 564.98h.01M311.58 592.89h.01M337.36 601.33h.01M413.26 592.04h.01M400.61 578.2h.01M382.68 581.23h.01M358.65 566.12h.01M296.87 575.91h.01M320.86 591.23h.01M333.86 580.66h.01M300.59 587.35h.01M353.18 576.81h.01M419.44 596.46h.01M292.12 594.93h.01M427.06 567.45h.01M442.77 586.49h.01M315.24 602.33h.01M366.86 568.25h.01M310.1 609.8h.01M336.57 575.38h.01M363.91 587.26h.01M360.33 569.34h.01M353.05 595.68h.01M357.35 556.84h.01M370.63 590.56h.01M290.09 596.81h.01M400 577.81h.01M295.46 587.41h.01M313.59 592.64h.01M417.38 571.1h.01M339.13 578.52h.01M290.43 590.57h.01M302.61 585.69h.01M387.75 584.06h.01M315.96 585.01h.01M350.11 589.34h.01M328.54 576.98h.01M375.8 582.01h.01M401.49 578.02h.01M417.16 590.82h.01M423.81 585.92h.01M346.71 588.65h.01M314.58 569.68h.01M341.29 576.43h.01M332.86 575.98h.01M326.3 578.2h.01M355.23 580.12h.01M289.82 581.54h.01M284.67 578.98h.01M386.7 599.19h.01M346.16 583.11h.01M412.27 577.83h.01M280.88 591.2h.01M421.88 587.35h.01M344.73 562.84h.01M403.22 569.62h.01M411.46 586.5h.01M276.95 563.77h.01M325.25 579.39h.01M348.01 563.31h.01M346.58 585.15h.01M320.82 582.32h.01M307.45 585.36h.01M312.2 582.85h.01M327.66 596.54h.01M319.49 545.59h.01M318.13 581.46h.01M343.84 583.71h.01M281.5 598.31h.01M343.12 569.3h.01M344.81 585.83h.01M392.38 599.98h.01M422.06 596.08h.01M323.09 586h.01M395.23 604.55h.01M310.47 588.88h.01M344.16 586.78h.01M399.61 553.52h.01M289.9 606.39h.01M371.78 590.93h.01M315.55 563.33h.01M289.89 595.96h.01M421.15 575.2h.01M414.15 564.44h.01M353.21 596.54h.01M355.03 577.57h.01M281.06 587.07h.01M296.38 579.46h.01M367.29 592.7h.01M406 580.01h.01M350.12 585.21h.01M390.36 578.28h.01M410.74 602.09h.01M301.39 583.26h.01M396.55 588.91h.01M316.37 610.68h.01M336.48 594.65h.01M329.08 579.48h.01M403.26 579.42h.01M316.77 585.46h.01M291.88 598.32h.01M322.56 595.53h.01M370.68 591.11h.01M283.19 597.69h.01M399.9 555.23h.01M388.75 593.78h.01M374.61 587.52h.01M427.95 586.84h.01M359.01 594.96h.01M378.3 590.5h.01M320.02 587.26h.01M396.94 583.63h.01M409.89 607.04h.01M421.55 596.07h.01M307.22 589.99h.01M376.48 585.26h.01M397.66 556.41h.01M380.71 581.06h.01M317.68 585.94h.01M427.16 582.67h.01M405.72 581.25h.01M295.7 601.13h.01M310.56 566.65h.01M378.59 581.77h.01M368.26 577.53h.01M363.23 581.63h.01M303.95 587.25h.01M352.93 583.59h.01M367.54 599.41h.01M355.91 580.95h.01M287.94 573.76h.01M436.11 576.19h.01M402.15 574.81h.01M292.47 574.8h.01M335.68 580.8h.01M312.98 550.05h.01M302.53 591.44h.01M302.34 594.01h.01M380.7 583.95h.01M423.26 580.66h.01M415.3 587.07h.01M353.59 572.37h.01M350.89 589.37h.01M308.87 578.34h.01M403.97 599.8h.01M396.45 574.8h.01M383.02 586.83h.01M432.18 572.81h.01M400.04 565.98h.01M364.01 587.17h.01M295.71 579.57h.01M310.94 589.89h.01M404.02 575.27h.01M326.41 581.76h.01M418.52 601.58h.01M354 567.24h.01M390.19 596.69h.01M310.7 606.9h.01M315.9 578.23h.01M305.83 584.84h.01M355.62 582.94h.01M322.15 552.63h.01M445.13 585.43h.01M325.06 572.51h.01M421.51 580.22h.01M343.09 573.57h.01M416.88 588.87h.01M389.53 588.07h.01M349.49 585.55h.01M330.24 570.74h.01M311.64 583.01h.01M337.23 573.95h.01M376.99 596.54h.01M282.3 598.9h.01M298.36 597.55h.01M395.37 584.29h.01M408.95 580.07h.01M418.86 584.97h.01M373.6 586.37h.01M428.18 581.08h.01M344.14 610.44h.01M298.49 581.31h.01M323.32 600.6h.01M281.71 591.67h.01M279.04 584.58h.01M284.18 577.95h.01M409.04 589.7h.01M286.05 581.31h.01M311.56 590.41h.01M307.04 571.4h.01M393.29 587.23h.01M290.14 583.76h.01M279.77 586.2h.01M296.26 605.99h.01M378.62 586.62h.01M410.29 594.46h.01M376.27 577.29h.01M435.09 598.18h.01M437.01 580.89h.01M418.38 574.49h.01M327.12 585.6h.01M370.16 579.97h.01M377.17 584.21h.01M434.12 597.75h.01M306.56 575.23h.01M379.45 580.7h.01M277.04 597.6h.01M357.6 568.24h.01M335.89 581.92h.01M355.92 591.05h.01M392.5 566.81h.01M300.74 580.64h.01M290.64 606.02h.01M401.02 588.99h.01M300.16 572.24h.01M312.14 599.32h.01M379.76 591.2h.01M394.11 579.01h.01M372.37 589.63h.01M328.84 580.62h.01M324.93 604.42h.01M399.2 602.09h.01M356.99 589.39h.01M416.73 578.68h.01M313.24 564.44h.01M282.31 577.8h.01M389.62 550.35h.01M394.22 567.49h.01M383.08 581.55h.01M340.96 567.89h.01M323.9 592.18h.01M316.46 608.4h.01M345.32 577.27h.01M344.03 581.47h.01M416.78 565.95h.01M320.57 593.29h.01M331.14 577.51h.01M418.8 597.32h.01M299.22 591.82h.01M361.84 585.49h.01M421.7 573.77h.01M403.99 589.39h.01M279.32 602.89h.01M314.42 600.46h.01M400.38 578.84h.01M455.7 565.45h.01M352.07 568.99h.01M329.16 579.71h.01M277 560.49h.01M350.94 582.08h.01M294.85 584.6h.01M383.84 580.03h.01M420.32 586.01h.01M426.48 598.31h.01M401.98 597.88h.01M328.13 570.88h.01M422.82 574.4h.01M370.37 592.28h.01M382.96 590.22h.01M343.07 569.18h.01M333.49 593.9h.01M284.53 587.62h.01M377.76 593.71h.01M376.39 583.36h.01M282.93 578.08h.01M348.37 587.01h.01M345.64 575.12h.01M314.09 575.82h.01M416.57 581.85h.01M373.3 578.79h.01M394.82 601.48h.01M321.26 608.88h.01M337.84 571.91h.01M470.56 564.51h.01M362.55 591.39h.01M300.99 563.77h.01M303.43 566.39h.01M343.54 569.45h.01M381.19 565.79h.01M281.3 594.02h.01M335.45 589.29h.01M427.46 588.57h.01M342.46 600.37h.01M294.1 592.25h.01M293.53 568.43h.01M343.34 584.18h.01M375.26 600.23h.01M431.25 578.15h.01M289 590.41h.01M359.54 579.37h.01M435.27 579.54h.01M409.83 600.08h.01M391.04 593.19h.01M410.81 573.35h.01M331.67 586.08h.01M419.07 581.66h.01M413.66 561.81h.01M317.49 596.06h.01M300.73 573.56h.01M296.31 589.15h.01M376.42 562.24h.01M420.14 590.63h.01M423.28 573.72h.01M393.02 588.25h.01M327.69 584.97h.01M311.51 577.75h.01M352.3 584.1h.01M345.47 587.5h.01M299.78 593.88h.01M427.79 589.71h.01M375.05 589.26h.01M377.91 556.74h.01M333.92 568.96h.01M291.51 566.99h.01M402.77 571.44h.01M407.54 597h.01M403.48 585.85h.01M282.47 595.86h.01M366.65 571.11h.01M296.05 584.56h.01M283.15 573.3h.01M328.78 551h.01M294.07 585.51h.01M398.05 576.49h.01M384.25 593.58h.01M402.7 570.74h.01M386.35 573.11h.01M355.77 573.05h.01M376.63 587.76h.01M286.34 570.33h.01M292.44 588.14h.01M321.82 586.65h.01M334.41 586.44h.01M423.71 573.86h.01M382.35 594.42h.01M381.29 577.06h.01M418.68 583.19h.01M312.95 552.9h.01M449.33 585.84h.01M437.71 572.86h.01M352.51 576.3h.01M461.23 576.97h.01M310.6 597.55h.01M349.73 581.69h.01M409.03 561.69h.01M401.45 573.28h.01M344.58 577.47h.01M302.15 587.39h.01M329.98 586.21h.01M330.38 577.86h.01M372 590.55h.01M370.36 581.34h.01M292.25 591.46h.01M284.11 588.76h.01M358.92 581.88h.01M303.09 594.6h.01M380.09 586.36h.01M284.88 587.86h.01M378 594.53h.01M386.94 580.09h.01M293.35 583.51h.01M447.34 568.4h.01M362.8 571.12h.01M309.71 610.46h.01M281.03 577.66h.01M387.01 566.29h.01M394.27 602.58h.01M364.19 585.27h.01M355.03 573.24h.01M394.1 563.35h.01M353.08 584.98h.01M312.58 596.13h.01M360.89 582.5h.01M312.47 595.07h.01M414.04 561.56h.01M283.71 581.6h.01M286.39 604.64h.01M296.53 586.77h.01M331.31 583.82h.01M399.05 597.72h.01M349.34 581.9h.01M373.36 577.14h.01M345.5 603.17h.01M284.72 582.78h.01M341.75 589.24h.01M402.81 585.68h.01M327.83 604.82h.01M371.38 581.09h.01M383.64 575.31h.01M407.15 557.34h.01M326.43 600.21h.01M378.25 552.93h.01M427.18 585.1h.01M377.07 603.66h.01M282.47 615.72h.01M399.27 583.19h.01M301.73 569.72h.01M317.57 590.02h.01M396.31 586.94h.01M391.06 585.16h.01M401.88 583.32h.01M322.97 569.79h.01M416.74 576.69h.01M364.36 574.28h.01M328.85 567.14h.01M282.99 609.28h.01M296.89 579.13h.01M311.63 568.57h.01M311.56 577.44h.01M318.21 585.6h.01M400.45 591.96h.01M310.66 588.93h.01M380.41 588.71h.01M367.52 582.11h.01M369.72 608.76h.01M295.53 564.42h.01M302.08 571.14h.01M311.49 595.1h.01M405.95 580.01h.01M388.52 585.45h.01M409.56 565.3h.01M331.26 574.38h.01M346.24 567.36h.01M342.6 587.84h.01M354.29 586.72h.01M377.86 596.07h.01M368.49 586.12h.01M351.11 598.32h.01M295.36 565.54h.01M377.89 595.52h.01M317.25 570.27h.01M306.02 600.43h.01M355.79 581.25h.01M368.56 579.23h.01M283.47 606.63h.01M367.29 598.22h.01M356.52 582.86h.01M382.17 585.21h.01M363.31 576.28h.01M391.21 571.62h.01M420.18 570.12h.01M350.21 582.78h.01M367.58 566.81h.01M353.95 589.41h.01M288.37 584.06h.01M405.48 593.9h.01M463.81 553.69h.01M304.94 570.07h.01M288.27 606.69h.01M304.35 589.74h.01M274.74 598.18h.01M399.57 576.7h.01M287.78 573.25h.01M368.9 591.41h.01M315.48 577.76h.01M413.45 583.6h.01M313.9 573.75h.01M410.14 558.27h.01M303 604.27h.01M348.55 584.9h.01M412.65 585.63h.01M422.06 578.05h.01M377.22 596.23h.01M334.98 582.63h.01M283.35 589.05h.01M298.36 593.64h.01M332.03 593.35h.01M365.86 580.78h.01M331.58 593.92h.01M310.28 575.77h.01M425.52 590.08h.01M437.95 573.71h.01M298.91 576.41h.01M335.83 581.1h.01M452.42 565.25h.01M408.15 594.04h.01M284.22 566.11h.01M287.39 594.45h.01M321.96 574.73h.01M312.14 588.08h.01M417.83 598.54h.01M324.74 568.53h.01M384.05 586.66h.01M369.83 568.15h.01M283.16 588.93h.01M387.96 610.61h.01M389.97 579.96h.01M360.4 584.02h.01M297.21 583.26h.01M423.62 591.27h.01M361.97 578.21h.01M404.43 577.94h.01M366.8 575.45h.01M306.52 590.52h.01M288.64 576.83h.01M350.93 579.49h.01M379.13 566.86h.01M362.78 592.44h.01M407.63 583.86h.01M356.36 578.8h.01M303.56 583.72h.01M405.15 575.87h.01M287.06 591.41h.01M421.85 579.04h.01M379.71 559.68h.01M362.05 579.04h.01M309.41 580.57h.01M340.81 590.01h.01M379.05 570.56h.01M355.58 608.01h.01M283.89 621.67h.01M369.41 578.31h.01M309.35 599.61h.01M346.51 579.52h.01M374.79 587.69h.01M294.7 600.77h.01M342.68 585.7h.01M368.21 586.29h.01M325.39 584.04h.01M325.39 579.41h.01M293.65 576.06h.01M324.92 580.63h.01M325.24 579.43h.01M354.68 601.48h.01M453.92 590.01h.01M345.39 591.78h.01M379.04 594.04h.01M347.08 584.26h.01M367.02 568.16h.01M304.36 597.99h.01M289.8 571.78h.01M303.95 566.79h.01M356.87 587.49h.01M337.63 592.01h.01M357.18 568.55h.01M280.46 587.28h.01M403.86 579.11h.01M307.8 603.74h.01M301.2 556.1h.01M297.33 582.01h.01M330.94 573.03h.01M397.32 587.43h.01M296.49 578.74h.01M432.44 565.03h.01M402.11 579.16h.01M431.19 575.53h.01M332.28 576.24h.01M386.07 559.93h.01M300.59 571.24h.01M308.57 578.45h.01M345.72 581.65h.01M399.74 576.53h.01M303.43 605.27h.01M330.64 588.95h.01M352.46 577.63h.01M382.58 583.84h.01M325.67 600.76h.01M375.26 594.29h.01M342.32 585.58h.01M447.04 576.2h.01M278.57 590.27h.01M380.08 585.4h.01M291.53 584.16h.01M398.31 616.71h.01M420.43 571.9h.01M417.65 568.58h.01M288.13 598h.01M391.17 578.17h.01M322.43 568.89h.01M426.02 605.97h.01M444.04 585.37h.01M290.53 564.11h.01M339.82 586.88h.01M314.52 577.03h.01M430.68 601.19h.01M370.7 594.21h.01M325.44 597.19h.01M311.98 570.38h.01M322.99 581.48h.01M361.99 590.48h.01M360.02 570.92h.01M299.61 583.06h.01M341.47 572.9h.01M437.89 579.41h.01M384.17 589.54h.01M352.61 575.94h.01M275.46 601.57h.01M393.45 568.82h.01M377.26 581.93h.01M333.09 557.76h.01M440.63 583.08h.01M287.59 595.6h.01M390.82 577.04h.01M364.18 595.07h.01M425.19 569.13h.01M287.16 599.82h.01M294.19 585.98h.01M400.69 592.2h.01M303.01 598.45h.01M393.08 596.42h.01M439.29 592.72h.01M281.55 579.65h.01M405.58 593.81h.01M361.88 599.1h.01M382.32 560.2h.01M389.58 592.13h.01M403.45 574.91h.01M274.36 563.08h.01M365.31 593.85h.01M306.39 570.41h.01M290.77 591.4h.01M293.4 586.17h.01M400.04 588.19h.01M369.13 581.1h.01M315.17 585.1h.01M371.39 578.23h.01M302.71 579.01h.01M371.89 576.03h.01M360.82 577.81h.01M405.97 562.79h.01M416.4 577.36h.01M376.66 582.21h.01M277.46 571.72h.01M356.74 566.42h.01M298.55 555.77h.01M310.33 575.23h.01M366.04 593.89h.01M362.81 588.3h.01M368.1 582.24h.01M308.71 546.34h.01M349.85 574.84h.01M403.18 576.49h.01M405.89 574.8h.01M285.59 572.32h.01M336.75 591.09h.01M310.36 590.65h.01M291.98 553.53h.01M392.91 577.76h.01M310.93 607.64h.01M416.74 582h.01M418.18 566.08h.01M287.16 573.26h.01M326.79 553.8h.01M334.98 575.13h.01M355.83 588.26h.01M358.32 567.39h.01M301.12 584.52h.01M329.06 573.57h.01M384.89 584.73h.01M389.42 581.76h.01M304.02 602.7h.01M319.58 591.24h.01M417.01 577.16h.01M291.51 569.55h.01M286.98 598.28h.01M306.33 586.74h.01M340.82 586.46h.01M310.87 576.99h.01M294.02 587.14h.01M440.08 579.26h.01M448.85 561.33h.01M304.74 591.49h.01M315.25 591.01h.01M279.41 591.29h.01M281.62 593.8h.01M396.44 570.78h.01M292.99 584.72h.01M326.53 578.48h.01M314.51 585.48h.01M289.48 565.01h.01M339.3 599.97h.01M341.8 566.13h.01M279.8 589.27h.01M444.21 602.96h.01M416.16 585.64h.01M391.74 587.48h.01M326.06 593.58h.01M402.67 581.46h.01M406.48 586.42h.01M327.93 575.51h.01M410.9 574.72h.01M322.9 581.43h.01M292.44 569.06h.01M389 599.19h.01M321.99 584.2h.01M374.1 566.35h.01M302.39 574.63h.01M387.43 574.85h.01M303.86 599.99h.01M361.88 592.79h.01M363.3 598.54h.01M323.01 576.45h.01M388.32 593.14h.01M292.85 581.48h.01M384.36 575.38h.01M367.38 588.6h.01M283.75 581.63h.01M371.72 584.25h.01M296.2 613.37h.01M335.22 583.93h.01M307.1 614.23h.01M309.05 571.33h.01M338.19 576.15h.01M337.52 571.73h.01M297.21 618.61h.01M304.18 581.33h.01M341.3 589h.01M367.43 607.44h.01M302.06 594.59h.01M349.25 581.15h.01M432.66 577.24h.01M285.1 581.35h.01M318.07 592.09h.01M306.43 601.25h.01M303.7 567.82h.01M306.89 582.07h.01M343.28 576.2h.01M366.71 591.53h.01M349.64 593.38h.01M442.94 581.63h.01M317.62 586.11h.01M356.04 578.39h.01M328.25 589.61h.01M387.18 565.51h.01M295.69 561.63h.01M335.96 554.59h.01M416.4 587.62h.01M300.71 580.46h.01M388.76 584.9h.01M401.07 583.26h.01M414.87 583.57h.01M409.54 602.45h.01M310.47 582.77h.01M379.58 591.39h.01M298.47 581.15h.01M319.65 598.52h.01M295.13 584.97h.01M419.19 585.46h.01M304.01 595.65h.01M287.45 578.95h.01M348.67 577.62h.01M347.16 585.25h.01M386.54 581.04h.01M305.31 574.03h.01M406.79 585.64h.01M292.38 576.3h.01M433.55 577.61h.01M298.99 593h.01M394.34 582.86h.01M397.06 568.62h.01M285.69 594.61h.01M406.93 578.04h.01M432 585.83h.01M324.87 584.21h.01M277.81 591.64h.01M366.78 572.86h.01M434.21 578.54h.01M413.54 588.27h.01M284.75 583.31h.01M369.67 580.07h.01M334.22 583.92h.01M296.06 584.28h.01M292.12 583h.01M414.28 561.66h.01M365.21 606.99h.01M420.14 596.96h.01M374.29 579.46h.01M300.98 594.16h.01M385.87 594.02h.01M350.63 565.85h.01M279.19 593.24h.01M323.12 592.46h.01M367.37 562.11h.01M398.72 564.51h.01M334.88 590.65h.01M434.83 570.45h.01M316.74 589.86h.01M314.49 574.43h.01M305.52 590.94h.01M454.75 579.11h.01M446.27 567.37h.01M363.57 597.34h.01M290.6 594.25h.01M363.31 581.28h.01M351.92 578.13h.01M281 580.33h.01M432.45 590.99h.01M346.02 594.45h.01M288.85 608.27h.01M317.23 597.2h.01M292.12 578.14h.01M354.87 561.81h.01M299.86 560.31h.01M338.97 582.3h.01M291.49 586.6h.01M290.12 577.57h.01M286.99 586.83h.01M282.51 596.19h.01M284.25 579.83h.01M401 591.28h.01M433.96 597.91h.01M403.78 569.47h.01M404.17 583.89h.01M406.27 563.03h.01M364.72 588.46h.01M392.88 603.83h.01M415.36 596.84h.01M290.86 596.42h.01M313.14 587.68h.01M326.32 582.25h.01M414.52 587.38h.01M459.37 575.39h.01M294.23 600.01h.01M338.46 584.72h.01M430.29 606.99h.01M416.94 580.22h.01M317.38 590.28h.01M376.38 577.54h.01M338.5 582.5h.01M291.14 589.7h.01M347.74 582.99h.01M320.56 578.7h.01M299.42 581.63h.01M428.91 598.05h.01M336.33 561.27h.01M303.95 597.07h.01M302.73 580.1h.01M309.03 594.2h.01M313.47 601.96h.01M438.71 590.82h.01M329.42 570.68h.01M418.45 590.78h.01M281.57 573.38h.01M358.19 573.17h.01M354.73 595.64h.01M326.25 568.45h.01M334.88 570.33h.01M399.19 597.48h.01M282.89 611.18h.01M327.74 599.61h.01M313.48 588.34h.01M413.1 586.47h.01M384.4 583.77h.01M384.78 588.88h.01M328.32 587.41h.01M369.72 568.97h.01M316.43 570.53h.01M389.89 580.57h.01M289.86 615.73h.01M291.06 584.59h.01M313.8 588.09h.01M309.56 572.85h.01M395.95 580.58h.01M298.33 573.7h.01M361 588.78h.01M357.21 593.43h.01M359.75 558.39h.01M414.32 580.63h.01M299.23 580.44h.01M403.98 584.75h.01M446.48 578.31h.01M354.25 572.34h.01M336.71 590.29h.01M299.16 605.03h.01M358.21 588.6h.01M396.89 584.69h.01M346.62 583.96h.01M369.64 559.87h.01M398.35 577.75h.01M420.23 588.3h.01M351.11 573.8h.01M408.12 580.21h.01M339.8 595.65h.01M295.45 607.31h.01M412.08 590.28h.01M320.09 588.04h.01M317.66 562.76h.01M313.41 586.27h.01M287.11 587.79h.01M288.87 572.13h.01M355.71 572.13h.01M323.84 582.88h.01M318.54 579.33h.01M332.39 579.81h.01M345.38 597.48h.01M393.98 598.12h.01M308.64 578.48h.01M338.66 575.62h.01M421.99 562.26h.01M376.56 561.45h.01M317.3 609.8h.01M307.93 554.82h.01M356.25 560.71h.01M409.65 583.21h.01M302.56 608.09h.01M297.82 599.85h.01M288.58 585.01h.01M316.63 581.68h.01M415.71 586.96h.01M400.03 581.12h.01M398.94 588.48h.01M331.05 585.19h.01M430.6 580.12h.01M400.16 585.18h.01M323.69 571.96h.01M362.02 588.08h.01M292.28 580.58h.01M299.86 581.98h.01M321.3 590.26h.01M381.83 580.16h.01M412.42 581.03h.01M308.34 575.82h.01M319.64 586.48h.01M357.7 557.96h.01M311.07 583.5h.01M341.07 586.23h.01M327.64 572.94h.01M296.61 604.44h.01M317.15 571.68h.01M375.2 572.52h.01M292.85 576.95h.01M320.02 590.86h.01M405.8 576.61h.01M334.74 567.36h.01M343.17 564.91h.01M294.45 585.48h.01M330.1 604.23h.01M308.02 568.87h.01M392.53 571.29h.01M289.44 600.05h.01M425.34 566.52h.01M398.31 581.21h.01M322.97 591.5h.01M362.67 568.58h.01M369.01 588.48h.01M416.13 586.8h.01M283.84 577.81h.01M373.29 575.11h.01M400.93 609.69h.01M395.29 599.11h.01M303.59 605.39h.01M372.5 592.59h.01M390.88 580.72h.01M416.22 596.01h.01M300.5 587.82h.01M291.7 574.43h.01M345.99 569.89h.01M309.73 593.44h.01M314.32 594.02h.01M302.97 603.65h.01M365.32 567.42h.01M403.94 582.99h.01M415.22 578.55h.01M377.54 561.39h.01M292.81 563.84h.01M397.15 579.68h.01M420.05 583.27h.01M355.65 581.79h.01M392.04 585.17h.01M361.58 584.89h.01M397.1 550.78h.01M332.16 590.13h.01M341.04 578.3h.01M406.98 577.48h.01M317.03 582.64h.01M354.75 604.08h.01M394.93 582.02h.01M425.3 577.26h.01M428.29 579.74h.01M337.13 567.15h.01M390.03 583.47h.01M342.54 583.12h.01M376.93 591.47h.01M323 578.62h.01M308.85 580.56h.01M319.96 590.81h.01M331.13 572.57h.01M365.75 588.89h.01M395.44 582.5h.01M392.31 575.08h.01M280.28 579.01h.01M290.5 604.11h.01M428.12 573.77h.01M424.08 570.89h.01M344.27 586.17h.01M391.49 578.46h.01M300.96 611.14h.01M409.06 559.31h.01M299.33 585.24h.01M308.28 588.71h.01M400.33 576.37h.01M347.5 558.83h.01M392.95 591.39h.01M382.25 567.67h.01M288.77 580.45h.01M322.27 598.5h.01M279.02 597.93h.01M411.06 581.76h.01M304.08 575.82h.01M326.92 578.07h.01M292.67 607.44h.01M330.89 596.65h.01M301.49 594.89h.01M296.28 592.43h.01M349.69 580.1h.01M390.49 595.53h.01M347.61 568.45h.01M328.54 601.61h.01M318.17 591.12h.01M303.3 584.93h.01M306.89 592.2h.01M410.66 567.01h.01M364.63 588.26h.01M287.66 592.92h.01M412.05 594.4h.01M312.93 570.86h.01M321.45 579.48h.01M393.55 583.67h.01M398.99 590.51h.01M407.45 582.95h.01M394.86 584.05h.01M321.14 591.32h.01M369.25 594.8h.01M394.61 589.69h.01M354.37 594.88h.01M295.29 592.73h.01M351.19 565.44h.01M362.68 569.61h.01M374.56 568.18h.01M301.05 582.35h.01M395.37 597.34h.01M319.42 558.34h.01M423.89 571.75h.01M384.22 589.7h.01M402.25 578.51h.01M412.37 565.04h.01M318.33 590.66h.01M292.95 573.65h.01M410.35 566.24h.01M362.98 585.42h.01M372.08 572.12h.01M307.89 591.4h.01M422.65 582.9h.01M282.68 602.49h.01M425.23 581.18h.01M302.25 590.81h.01M295.69 587.46h.01M310.81 600.83h.01M417.14 582.78h.01M409.36 600.26h.01M383.84 602.67h.01M387.95 585.51h.01M292.77 590.52h.01M354.03 582.97h.01M330.64 580.68h.01M365.53 590.65h.01M311.72 560.02h.01M298.81 576.3h.01M446.59 584.64h.01M335.83 571.12h.01M321.59 570.99h.01M369.78 578.01h.01M280.25 595.68h.01M386.51 583.17h.01M366.41 604.29h.01M365.21 571.29h.01M334.33 596.11h.01M427.43 598.68h.01M331.56 590.58h.01M307.79 572.63h.01M295.57 587.35h.01M360.56 561.93h.01M302.97 587.58h.01M306.42 566.06h.01M294.91 586.6h.01M340.06 597.32h.01M359.96 597.91h.01M314.87 598.85h.01M404.29 566.54h.01M298.32 585.1h.01M386.13 575.58h.01M449.31 599.73h.01M314.63 583.84h.01M386.3 579.96h.01M384.14 594.63h.01M388.69 575.19h.01M299.24 588.56h.01M440.51 582.83h.01M422.98 569.94h.01M299.36 586.38h.01M327.95 593.08h.01M316.4 588.1h.01M393.27 588.96h.01M293.55 590.87h.01M377.71 566.64h.01M355.89 554.49h.01M356.31 574.94h.01M293.19 601.1h.01M358.58 591.73h.01M394.06 582.21h.01M331.46 577.69h.01M377.75 584.25h.01M349.07 594.2h.01M360.39 574.17h.01M416.87 569.28h.01M378.51 556.36h.01M421.06 589.79h.01M395.18 569.96h.01M371.88 572h.01M304.36 576.42h.01M392.52 567.82h.01M316.99 580.15h.01M376.8 574.71h.01M400.22 559.8h.01M365.92 587.76h.01M392.64 594.85h.01M295.95 598.86h.01M288.58 582.97h.01M435.55 566.08h.01M352.99 601.07h.01M367.93 569.15h.01M326.12 575.55h.01M365.46 578.59h.01M362.27 561.03h.01M415.34 589.41h.01M313.37 589.88h.01M454.58 593.29h.01M280.47 595.53h.01M302.4 595.18h.01M287.84 604.39h.01M301.49 569.17h.01M370.42 572.97h.01M311.9 573.69h.01M389.9 582.54h.01M436.22 577.92h.01M277.33 586.84h.01M409.57 590.55h.01M319.69 591.32h.01M283.12 579.19h.01M409.81 587.05h.01M298.67 591.98h.01M342.28 577.16h.01M438.33 593.96h.01M316.64 582.13h.01M287.85 568.1h.01M310.06 585.76h.01M280.61 597.13h.01M315.21 558.31h.01M426.1 590.57h.01M439.46 570.6h.01M302.57 587.57h.01M439.65 584.34h.01M305.28 591.04h.01M282.5 606.43h.01M330.11 571.82h.01M323.9 573.32h.01M283.06 593.23h.01M426.32 585.93h.01M294.87 579.35h.01M322.92 568.58h.01M450.35 572.99h.01M281.4 574.78h.01M362.52 587.55h.01M339.92 603.54h.01M371.56 579.62h.01M355.12 581.03h.01M347.71 588.15h.01M399.26 615.5h.01M367.27 566.05h.01M373.2 586.45h.01M284.36 567.88h.01M435.73 570.12h.01M421.74 572.16h.01M306.67 573.62h.01M344.92 606.37h.01M406.2 576.82h.01M395.39 591.28h.01M334.17 582.8h.01M307.41 591.84h.01M347.92 588.96h.01M343.81 581.51h.01M343.51 570.17h.01M405.18 585.09h.01M294.72 597h.01M381.54 588.78h.01M307.7 592.41h.01M334.73 583.36h.01M350.67 577.07h.01M368.2 570.92h.01M300.85 564.01h.01M275.51 610.68h.01M326.9 593.42h.01M367.09 547.92h.01M386.07 562.54h.01M398.38 569.05h.01M344.15 600.04h.01M422.3 588.08h.01M404.09 583.92h.01M354.29 594.34h.01M389.78 598.57h.01M367.79 577.62h.01M278.89 590.11h.01M406.46 558.95h.01M427.54 598.65h.01M303.05 575.47h.01M289.16 571.88h.01M278.51 591.84h.01M329.16 584.63h.01M302.56 577.11h.01M414.46 584.23h.01M383.38 585.44h.01M406.44 577.78h.01M415.54 584.4h.01M373.76 593.64h.01M300.29 589.74h.01M293.73 575.8h.01M304.61 575.03h.01M441.69 587.98h.01M425.39 566.7h.01M405.95 576.07h.01M396.84 579.64h.01M298.06 605.75h.01M397.54 570.96h.01M413.64 569.59h.01M365.28 567.57h.01M322.99 577.62h.01M364.27 588.83h.01M310.97 587.4h.01M307.66 580.1h.01M412.7 581.12h.01M307.62 604.76h.01M433.45 596.37h.01M320.06 548.95h.01M364.06 549.07h.01M434 597.98h.01M408.59 585.68h.01M431.11 565.76h.01M279.79 585.93h.01M297.08 596.15h.01M382.23 565.31h.01M394.88 575.93h.01M404 548.94h.01M277.12 606.14h.01M380.1 580.15h.01M393.2 572.17h.01M447.26 589.92h.01M338.86 567.75h.01M350.63 585.22h.01M393.77 594.96h.01M401.22 587.13h.01M281.29 599.16h.01M302.44 600.33h.01M289.71 603.02h.01M369.91 577.74h.01M302.73 594.53h.01M314.98 601.44h.01M323.08 584.33h.01M301.9 574.34h.01M444.82 585.43h.01M349.25 572.85h.01M374.05 588.76h.01M394.67 585.21h.01M337.18 576.15h.01M345.88 569.73h.01M373.98 577.31h.01M309.22 604.78h.01M316.04 565.98h.01M392.79 569.93h.01M289.79 570.81h.01M330.83 557.08h.01M410.15 578.07h.01M289.61 617.92h.01M274.3 571.74h.01M389.12 581.01h.01M327.08 564.96h.01M334.17 577.04h.01M327.61 584.11h.01M310.86 569.78h.01M396.6 586.33h.01M427.9 584.4h.01M340.03 563.09h.01M331.52 573.87h.01M340.02 602.1h.01M294.35 585.28h.01M372.06 587.96h.01M351.94 587.77h.01M384.48 563.44h.01M291.24 583.59h.01M273.36 597.42h.01M325.47 589.67h.01M389.53 589.32h.01M409.38 571.55h.01M372.59 568.38h.01M415.38 575.4h.01M309.49 608.16h.01M309.46 590.48h.01M367.35 574.91h.01M358.35 573.84h.01M376.66 594.45h.01M388.07 583.16h.01M406.99 589.76h.01M400.11 580.88h.01M370.26 594.56h.01M287.65 585.41h.01M402.71 572.66h.01M294.34 579.34h.01M391.92 591.31h.01M408.83 594.14h.01M298.5 593.9h.01M333.03 587.77h.01M304.17 607.35h.01M292.95 586.83h.01M342.06 575.13h.01M341.96 570.16h.01M334.99 576.2h.01M386.98 579.79h.01M377.4 594.61h.01M383.85 595.51h.01M315.17 597.69h.01M317.15 582.27h.01M335.03 569.9h.01M352.44 590.23h.01M358.85 582.82h.01M282.88 598.79h.01M408.87 583.69h.01M304.63 593.07h.01M386.01 573.74h.01M357.89 586.21h.01M385.78 585.6h.01M288.71 595.79h.01M284.61 577.08h.01M402.33 590.12h.01M317.32 571.7h.01M329.86 590.73h.01M413.99 558.71h.01M313.57 591.94h.01M379.28 573.58h.01M343.99 592.44h.01M383.34 582.89h.01M422.73 568.1h.01M279.39 637.61h.01M364.88 573.18h.01M439.14 587.51h.01M352.73 586.82h.01M368.46 582.63h.01M347.4 588.52h.01M355.8 576.97h.01M296.42 570.78h.01M287.72 576.58h.01M406.36 544.74h.01M350.3 596.99h.01M317.32 575.71h.01M280.44 591.96h.01M442.67 604.84h.01M387.7 588.32h.01M346.07 595.5h.01M336.49 573.32h.01M448.72 589.37h.01M318.19 587.8h.01M404.58 578.92h.01M309.41 592.41h.01M306.61 597.38h.01M420.53 594.7h.01M358.73 602.32h.01M309.57 593.15h.01M332.66 590.8h.01M312.13 593.33h.01M332.14 598.94h.01M319.03 584.68h.01M338.24 592.35h.01M293.44 586.38h.01M378.68 557.46h.01M369.4 573.56h.01M392.66 588.39h.01M410.51 593.47h.01M397.35 606.92h.01M388.23 572.44h.01M314.96 600.54h.01M416.73 584.94h.01M381.63 594.56h.01M291.82 557.56h.01M410.17 593.09h.01M355.52 595.68h.01M345.74 595h.01M429.15 586.72h.01M469.94 562.67h.01M311.59 584.57h.01M396.82 566.62h.01M309.31 598.63h.01M348.44 575.86h.01M296.46 554.91h.01M464.73 571.79h.01M312.16 563.78h.01M302.23 580.44h.01M381.76 600.19h.01M367.83 578.52h.01M339.24 583.51h.01M375.48 586.08h.01M353.39 585.31h.01M359.5 582.7h.01M325.59 587.45h.01M315.73 579.54h.01M430.47 567.46h.01M433.52 599.16h.01M392.89 577.07h.01M460.79 548.56h.01M388.33 589.28h.01M391.36 603.99h.01M315.47 562.87h.01M321.68 585.92h.01M332.83 569.51h.01M403.83 582.65h.01M331.52 593.39h.01M341.2 573.21h.01M352.92 583.73h.01M361.97 577.06h.01M360.89 568.54h.01M287.62 600.03h.01M341.89 606.69h.01M335.29 576.66h.01M380.33 576.54h.01M328.45 569.12h.01M390.82 582.03h.01M363.55 593.47h.01M367.33 549.12h.01M307.19 583.52h.01M297.07 588.43h.01M413.46 582.72h.01M426 593.52h.01M302.7 601.22h.01M413.47 573.64h.01M407.19 560.28h.01M316.92 583.36h.01M375.5 583.64h.01M333.73 608.22h.01M291.5 577.19h.01M390.92 608.08h.01M419.5 570.09h.01M281.12 576.78h.01M407.02 579.05h.01M375.06 576.7h.01M371.01 589.16h.01M344.88 560.76h.01M409.2 582.01h.01M397.38 601.9h.01M323.98 593.99h.01M358.5 577.51h.01M390.92 590.17h.01M297.75 588.51h.01M376.69 587.51h.01M407.45 578.92h.01M353.91 572.35h.01M287.24 585.53h.01M375.92 595.04h.01M406.18 582.26h.01M390.76 559.27h.01M328.41 580.65h.01M294.87 596.94h.01M396.66 578.24h.01M287.5 607.46h.01M373.44 577.71h.01M375.03 589.37h.01M396.91 588.59h.01M282.52 574.34h.01M358.25 585.22h.01M340.46 583.41h.01M438.24 583.82h.01M362.16 591.3h.01M315.68 578.32h.01M327.3 571.71h.01M398.65 597.91h.01M288.23 588.43h.01M325.86 589.75h.01M365.63 577.05h.01M338.16 587.84h.01M369.16 573.91h.01M338.72 580.5h.01M357.05 594.92h.01M329.09 580.13h.01M449.93 586.84h.01M465.11 558.72h.01M314.5 567.76h.01M411.23 566.54h.01M365.19 570.32h.01M355.63 574.22h.01M330.73 570.04h.01M397.15 596.59h.01M422.19 607.38h.01M335.85 599.49h.01M406.1 593.79h.01M310.27 569.3h.01M397.57 592.82h.01M396.33 576.71h.01M428.74 591.45h.01M403.12 587.29h.01M392.81 579.78h.01M400.4 572.12h.01M308.58 579.18h.01M346.4 578.48h.01M355.61 577.07h.01M284.08 568.6h.01M348.55 572.02h.01M334.57 569.04h.01M453.09 574.1h.01M283.51 600.13h.01M349.86 580.37h.01M353.35 587.42h.01M448.79 599.02h.01M386.8 591.98h.01M320.84 582.53h.01M316.31 591.45h.01M355.79 593.25h.01M314.16 603.9h.01M360.72 586.15h.01M300.27 597.8h.01M356.3 588.88h.01M354.14 574.91h.01M437.14 585.62h.01M360.25 581.66h.01M377.49 591.67h.01M295.73 553.32h.01M286.04 573.36h.01M379.96 552.42h.01M306.88 570.67h.01M325.99 583.28h.01M365.01 574.72h.01M380.99 589.58h.01M358.88 583.73h.01M287.68 577.62h.01M382.11 588.4h.01M332.35 599.34h.01M309.06 575.81h.01M313.81 573.47h.01M377.09 577.18h.01M404.22 605.11h.01M299.56 581.5h.01M336.08 576.9h.01M394.23 574.94h.01M356.77 588.87h.01M289.45 565.33h.01M416.48 555.89h.01M310.62 590.41h.01M407.01 592.03h.01M315.03 588.26h.01M367.41 598.35h.01M323.8 580.74h.01M309.16 599.93h.01M315.53 594.44h.01M361.68 582.05h.01M420.71 568.46h.01M281.34 577.56h.01M372.67 591.51h.01M329.29 597.1h.01M438.32 584.04h.01M321.3 594.07h.01M353.55 587h.01M326.45 582.26h.01M294 595.46h.01M399.53 562.6h.01M408.5 582.47h.01M306.9 589.18h.01M377.62 579.35h.01M425.75 596.51h.01M391.28 581.59h.01M343.69 593.46h.01M288.04 574.16h.01M367.38 587.97h.01M385.51 579.74h.01M399.52 589.35h.01M431.75 586.27h.01M331.97 567.67h.01M304.26 591.45h.01M286.65 592.79h.01M391.36 587.08h.01M406.33 550.8h.01M339.42 591.51h.01M388.01 582.2h.01M277.71 597.24h.01M410.69 594.76h.01M328.27 582.63h.01M283.97 579.68h.01M305.3 605.28h.01M361.55 555.07h.01M315.18 592.98h.01M298.76 587.51h.01M349.28 579.41h.01M280.49 611.3h.01M293.99 597.37h.01M305.99 583.42h.01M301.63 595.49h.01M432.09 593.71h.01M409 564.21h.01M341.99 592.95h.01M359.95 590.91h.01M307.5 567.26h.01M344.04 585.88h.01M338.41 577.91h.01M370.6 567.96h.01M384.72 589.07h.01M445.98 585.43h.01M348.73 590.76h.01M286.04 571.99h.01M337.5 572.8h.01M290.22 584.55h.01M339.5 580.12h.01M402.49 593.62h.01M420.46 596.94h.01M362 566.84h.01M289.48 563.8h.01M394.14 584.72h.01M342.7 582.42h.01M416.62 600.94h.01M401.83 589.4h.01M348.44 566.56h.01M309.09 571h.01M300.42 587.37h.01M342.11 581.72h.01M285.06 586.73h.01M397.33 568.14h.01M415.53 580.97h.01M395.34 571.35h.01M336.37 587.35h.01M388.05 579.5h.01M302.36 571.43h.01M382.21 584.3h.01M302.37 599.53h.01M376.97 595.97h.01M388.34 559.03h.01M350.6 572.16h.01M299.37 600.15h.01M297.64 611.11h.01M298.36 596.32h.01M351.46 568.76h.01M408.61 606.87h.01M387.1 597.76h.01M306.14 597.25h.01M307.4 569.24h.01M279.45 607.25h.01M351.48 583.16h.01M371.72 592.35h.01M408.63 582.8h.01M365.63 597.17h.01M329.03 588.71h.01M422.42 577.06h.01M349.96 601.28h.01M337.63 572.85h.01M341.18 571.22h.01M334.21 572.66h.01M429.82 598.21h.01M322.52 589.43h.01M361.49 592.68h.01M409.93 592.03h.01M317.77 588.5h.01M399.88 572h.01M370.69 564.4h.01M289.44 579.96h.01M285.25 592.53h.01M334.17 587.53h.01M388.98 588.69h.01M357.59 581.09h.01M390.88 595.94h.01M349.39 586.19h.01M327.72 569.26h.01M337.36 579.31h.01M417.34 567.29h.01M398.44 588.83h.01M447.15 591.95h.01M290.04 597.65h.01M437.25 590.79h.01M375.17 579.91h.01M330.48 590.59h.01M308.59 579.98h.01M407.57 578.5h.01M299.59 581.7h.01M284.66 580.58h.01M308.61 572.23h.01M329.83 604.88h.01M419.34 569.6h.01M413.22 594.44h.01M403 591.67h.01M279.47 594.24h.01M368.93 582.38h.01M336.76 585.2h.01M297.1 585.77h.01M406.33 591.5h.01M395.43 600.25h.01M284.23 601.33h.01M289.99 580.67h.01M312.89 553.4h.01M424.76 554.53h.01M332.4 581.56h.01M362.53 571.61h.01M303.75 584.77h.01M410.1 591.06h.01M364.94 574.71h.01M387.05 590.21h.01M285.79 607.11h.01M309.89 570.02h.01M275.97 600.27h.01M322.26 577.6h.01M291.85 600.96h.01M357.16 578.53h.01M417.11 569.41h.01M439.17 587.19h.01M374.94 580.29h.01M438.49 561.98h.01M282.93 570.78h.01M327.76 575.54h.01M415.42 574.88h.01M396.7 576.55h.01M337.17 581.28h.01M339.46 581.62h.01M463.32 564.09h.01M346.8 575.32h.01M412.58 569.55h.01M410.48 593.56h.01M392.07 587.1h.01M444.86 593.57h.01M463.86 574.34h.01M400.49 594.35h.01M317.91 575.38h.01M408.69 581.56h.01M302.57 597.79h.01M375.02 563.64h.01M423.45 556.67h.01M328.68 590.37h.01M336.55 591.68h.01M403.76 562.56h.01M375.78 581.66h.01M314.32 565.84h.01M358.73 586.7h.01M360.19 586.18h.01M406.77 577.49h.01M360.6 559.69h.01M296.42 598.86h.01M358.62 591.81h.01M407.96 574.83h.01M321.32 577.84h.01M376.31 561.52h.01M290.38 586.59h.01M362.25 577.88h.01M280.18 607.11h.01M380.85 582.46h.01M393.08 579.06h.01M396.59 580.4h.01M356.71 582.13h.01M354.05 584.35h.01M384.81 572.75h.01M327.53 582.88h.01M405.27 577.23h.01M352.92 592.3h.01M319.21 593.17h.01M409.09 566.6h.01M444.76 597.06h.01M438.28 564.77h.01M309.35 588.95h.01M298.84 588.95h.01M464.43 567.89h.01M320.75 596.09h.01M287.12 572.1h.01M302.88 573.56h.01M413.4 597.72h.01M314.21 555.98h.01M294.04 572.71h.01M303.93 600h.01M426.36 581.78h.01M439.41 574.79h.01M308.27 590.9h.01M339.7 590.06h.01M398.77 587.17h.01M343.95 602.91h.01M418.65 606.27h.01M292.87 595.43h.01M291.82 588.43h.01M313.07 576.07h.01M288.44 577.89h.01M407.12 568.58h.01M357.28 605.56h.01M322.95 599.51h.01M348.86 601.18h.01M278.93 603.84h.01M283.76 583.13h.01M328.86 595.79h.01M289.56 561.38h.01M429.82 575.61h.01M382.12 576.25h.01M349.85 587.96h.01M352.97 560.75h.01M294.18 594.79h.01M358.7 558.27h.01M294.36 573.09h.01M324.56 584.98h.01M380.31 588.24h.01M281.26 575.61h.01M304.65 591.78h.01M460.01 566.86h.01M361.58 571.47h.01M290.7 619.8h.01M299.23 593.72h.01M326.71 579.03h.01M301.82 599.64h.01M315.16 591.47h.01M367.54 541.79h.01M385.42 571.06h.01M280.2 593.86h.01M301.4 582.46h.01M288.48 586.54h.01M422.91 586.84h.01M415.23 569.83h.01M454.74 553.5h.01M290.37 601.45h.01M354.6 592.48h.01M403.84 594.77h.01M406.51 569.36h.01M302.8 588.59h.01M424.53 580.26h.01M288.07 583.47h.01M426.84 597.04h.01M382.47 558.35h.01M337.12 556.5h.01M412.25 582.14h.01M390.99 561.89h.01M292.67 563.03h.01M406.73 577.37h.01M447.42 567.9h.01M344.47 563.63h.01M417.11 585.59h.01M344.57 589.72h.01M304.27 594h.01M333.19 584.02h.01M438.73 578.67h.01M282.06 595.95h.01M335.04 563.78h.01M301.05 576.25h.01M420.58 567.62h.01M409.75 565h.01M299.42 585.03h.01M344.01 587.66h.01M293.01 582.3h.01M410.18 585.75h.01M334.18 577.21h.01M439.8 623.25h.01M407.4 580.53h.01M343.18 582.09h.01M282.05 596.38h.01M291.27 565.63h.01M296.67 587h.01M432.07 596.87h.01M287.19 605.33h.01M363.05 591.76h.01M411.9 571.08h.01M382.02 571.72h.01M300.72 571.3h.01M277.85 567.03h.01M396.81 602.64h.01M408.43 562.61h.01M338.87 555.29h.01M382.56 592.94h.01M346.25 580.72h.01M383.81 584.93h.01M384.67 552.75h.01M282.86 602.9h.01M326.33 584.24h.01M395.73 585.45h.01M293.6 582.71h.01M314.11 575.21h.01M404.23 587.81h.01M382.58 576.6h.01M363.54 566.43h.01M344.71 561.9h.01M375.33 588.69h.01M290.38 568.01h.01M447.43 579.3h.01M279.63 602.08h.01M397.57 574.96h.01M333.07 572.81h.01M374.53 580.23h.01M349.3 604.37h.01M380.46 585.19h.01M296.92 579.72h.01M345.97 561.06h.01M440.11 570.89h.01M335.52 581.58h.01M294.69 584.87h.01M370.93 563.54h.01M305.07 569.58h.01M423.61 595.62h.01M285.94 566.32h.01M397.17 562.66h.01M301.35 590.88h.01M337.97 580.25h.01M424.94 584.39h.01M316.77 578.95h.01M382 574.43h.01M293.01 598.79h.01M317.51 588.04h.01M419.19 582.33h.01M377.35 587.47h.01M363.46 588.57h.01M363.78 591.04h.01M362.99 591.35h.01M307.9 581.4h.01M293.93 576.14h.01M351.44 595.91h.01M343.35 560.69h.01M409.88 597.27h.01M305.98 585.89h.01M381.98 599.46h.01M288.49 591.69h.01M341.29 575.21h.01M360.69 583h.01M352.96 581.86h.01M412.63 587.89h.01M285.97 566.81h.01M289.03 598.06h.01M382.38 587.09h.01M384.38 578.81h.01M355.82 581.47h.01M407.06 578.71h.01M304.97 601.8h.01M407.41 573.96h.01M330.34 577.82h.01M387.29 585.89h.01M354.71 586.97h.01M284.86 593.52h.01M306.18 607.29h.01M340.11 582.33h.01M345.62 565.64h.01M289.65 596.9h.01M296.14 587.56h.01M414.23 569.23h.01M290.33 598.8h.01M314.25 599.31h.01M308.46 580.79h.01M295.11 569.5h.01M296.5 604.05h.01M324.06 576.42h.01M335.35 577.4h.01M350.63 570.85h.01M312.43 597.34h.01M406.61 575.23h.01M434.79 589.5h.01M313.7 573.11h.01M286.3 578.56h.01M388.66 569.3h.01M387.54 597.72h.01M347.89 594.9h.01M354.05 567.4h.01M329.95 574.58h.01M322.19 602.54h.01M318.78 590.23h.01M340.85 569.48h.01M435.68 570.68h.01M289.42 582.63h.01M305.59 600.21h.01M355.02 577.12h.01M385.92 576.28h.01M352.86 584.68h.01M423.17 603.35h.01M318.03 581.83h.01M295.7 562.52h.01M290.13 566.16h.01M342.19 572.87h.01M308.54 581.56h.01M417.97 588.19h.01M331.91 598.26h.01M392.38 588.75h.01M399.11 601.53h.01M420.71 571.34h.01M334.38 584.66h.01M348.99 593.36h.01M369.85 586.45h.01M306.59 591.45h.01M403.83 594.91h.01M411.43 609.47h.01M326.84 588.9h.01M373.35 598.77h.01M383.66 592.64h.01M289.93 600.38h.01M394.26 595.71h.01M371.77 563.96h.01M404.36 576.63h.01M356.81 594.81h.01M311.93 568.84h.01M297.18 589.02h.01M351.77 563.88h.01M405.76 564.91h.01M320.51 574.11h.01M350.7 564.63h.01M280.79 607.48h.01M377.5 572.78h.01M419.55 581.21h.01M324.68 579.2h.01M297.91 598.06h.01M329.49 567.55h.01M399.95 584.32h.01M341.48 588.97h.01M301.59 581.59h.01M377.97 577.12h.01M284.26 584.18h.01M361.79 585.64h.01M414.52 571.45h.01M429.13 593.79h.01M422.31 591.57h.01M435.57 576.75h.01M403.76 599.72h.01M305.16 563.55h.01M290.82 575.04h.01M328.48 603.1h.01M321.81 601.99h.01M406.86 592.19h.01M307.52 578.5h.01M387.04 567.75h.01M291.43 573.64h.01M308.11 596.6h.01M307.3 585.15h.01M393.48 566.57h.01M435.46 592.74h.01M335.87 577.46h.01M370.49 585.97h.01M427.84 603.25h.01M375.41 588.57h.01M406.47 576.36h.01M349.42 563.57h.01M339.35 596.06h.01M414.17 603.65h.01M330.69 599.38h.01M435.46 585.01h.01M376.68 595.99h.01M296.82 570.08h.01M321.88 586.5h.01M309.22 559.7h.01M424.96 592.89h.01M405.59 561.25h.01M412.04 597.28h.01M349.03 562.15h.01M406.32 578.42h.01M397.8 572.31h.01M309.91 597.72h.01M361.05 567.55h.01M382.2 599.54h.01M302.99 593.09h.01M286.96 581.66h.01M321.27 589.48h.01M452.18 590.09h.01M393.08 585.17h.01M302.36 557.38h.01M296.22 585.85h.01M315.55 562.18h.01M339.44 570.01h.01M421.14 605.38h.01M348.78 578.75h.01M295.35 577.67h.01M299.47 581.61h.01M442.77 571.32h.01M339.82 573.1h.01M353.17 571.42h.01M302.05 589.03h.01M346.14 573.1h.01M317.49 607.73h.01M409.74 595.64h.01M342.19 573.21h.01M377.14 590.08h.01M379.86 599.66h.01M374.74 566.63h.01M354.18 567.77h.01M373.79 582.59h.01M350.68 588.9h.01M367.39 563.61h.01M355.53 570.6h.01M309.34 580.99h.01M339.98 587.32h.01M401.63 602.01h.01M397.96 571.71h.01M367.78 592.84h.01M417.3 598.85h.01M338.49 561.07h.01M314.95 578.38h.01M399.41 579.2h.01M339.72 570.04h.01M277.65 627h.01M396.79 549.39h.01M313.83 578.32h.01M404.27 588.98h.01M352.57 571.64h.01M355.13 585.82h.01M415.86 577.29h.01M288.02 593.63h.01M304.29 572.5h.01M386.41 570.92h.01M431.77 582.89h.01M293.55 588.14h.01M288.25 563.72h.01M298.79 576.78h.01M295.18 572.1h.01M309.02 568.58h.01M344.1 577.27h.01M387.11 600.47h.01M308.4 566.1h.01M429.69 577.39h.01M399.09 578.52h.01M280.68 591.98h.01M295.16 577.51h.01M381.51 583.9h.01M420.49 584.58h.01M324.44 583.21h.01M399.12 607.15h.01M338.65 584.83h.01M419.2 586.64h.01M307.63 581.89h.01M332.19 591.72h.01M288.38 575.52h.01M274.8 601.98h.01M360.11 578.22h.01M320.23 583.21h.01M320.3 568.02h.01M286.57 564.79h.01M316.36 587.35h.01M467.48 560.2h.01M465.01 549.15h.01M292.21 587.53h.01M430.52 582.54h.01M441.48 589.61h.01M418.75 559.84h.01M406.62 573.57h.01M373.62 572.06h.01M435.65 567.98h.01M378.8 600.97h.01M308.96 605.41h.01M280.21 591.64h.01M331.71 598.86h.01M293.56 575.22h.01M349.83 597.59h.01M397.24 587.85h.01M306.06 586.22h.01M315.82 565.92h.01M386.76 581.28h.01M310.35 560.27h.01M330.94 588.48h.01M417.73 595.25h.01M420.65 584.36h.01M395.56 586h.01M338.02 577.59h.01M279.61 585.36h.01M309.24 608.43h.01M394.5 573.26h.01M350.43 575.66h.01M363.34 601.45h.01M403.44 563.25h.01M292.43 566.09h.01M437.54 595.91h.01M468.68 558.19h.01M364.3 567.22h.01M443.66 561.15h.01M418.5 561.36h.01M439.51 585.2h.01M365.52 586.8h.01M325 576.76h.01M295.29 582.29h.01M390.62 597.08h.01M430.24 571.75h.01M323.76 594.72h.01M395.48 576.1h.01M318.36 579.05h.01M328.36 590.69h.01M431.97 579.6h.01M287.22 593.47h.01M379.77 555.21h.01M327.01 585.71h.01M358.78 606.22h.01M289.1 583.29h.01M333.33 585.3h.01M318.37 581.28h.01M351.74 576.09h.01M420.88 592.49h.01M301.66 587.14h.01M376.44 567.72h.01M307.88 578.43h.01M385.57 584.76h.01M293.33 596.56h.01M283.88 570.43h.01M361.5 600.43h.01M419.11 588.44h.01M340.3 560.36h.01M287.05 591.1h.01M387.45 590.89h.01M290.27 573.94h.01M411.19 581.44h.01M383.3 595.2h.01M377.54 567.69h.01M291.69 561.67h.01M326.94 602.33h.01M392.76 595.21h.01M307.37 584.74h.01M345.56 591.26h.01M337.23 588.68h.01M288.23 568.08h.01M385.18 585.37h.01M358.68 580.75h.01M355.59 590.83h.01M303.46 597.91h.01M334.93 607.22h.01M427.17 556.81h.01M438.54 577.7h.01M459.83 557.79h.01M363.44 571.74h.01M373.42 597.6h.01M408.32 583.07h.01M423.99 580.36h.01M385.95 588.36h.01M294.87 568.19h.01M309.48 561.34h.01M309.21 593.01h.01M334.47 597.31h.01M348.84 593.19h.01M296.46 581.41h.01M403.02 586.8h.01M319.19 598.07h.01M409.01 595.92h.01M409.32 580.6h.01M301.3 593.16h.01M387.84 596.32h.01M351.44 567.98h.01M287.16 601.76h.01M325.1 574.88h.01M292.41 586.7h.01M373.76 595.6h.01M351.72 580.24h.01M362.61 593.19h.01M288.18 578.44h.01M393.83 586.11h.01M354.01 590.55h.01M457.52 553.38h.01M311.39 563.84h.01M299.85 596.05h.01M420.05 569.45h.01M286.07 620.4h.01M370.68 585.56h.01M394.4 564.43h.01M389.64 572.84h.01M296.03 590.85h.01M345.97 586.08h.01M413.41 593.41h.01M373.86 561.93h.01M359.92 599.27h.01M332.45 584.46h.01M459.59 577.15h.01M350.52 577.44h.01M341.87 601.36h.01M301.8 604.3h.01M293.4 600.44h.01M281.59 603.42h.01M386.19 569.72h.01M353.9 583.4h.01M286.76 579.33h.01M282.09 583.18h.01M317.37 579.06h.01M453.29 560.05h.01M372.56 598.67h.01M421.21 576.92h.01M406.35 568.74h.01M415.83 568.45h.01M280.83 591.89h.01M412.49 578.97h.01M403.74 586.31h.01M335.09 567.68h.01M417.16 578.54h.01M407.76 590.1h.01M316.6 586.77h.01M291.14 604.08h.01M394.24 573.41h.01M347.09 581.63h.01M318.63 581.1h.01M304.34 603.88h.01M352.61 573.7h.01M291.29 606.94h.01M303.26 592.08h.01M303.27 585.66h.01M354.27 572.06h.01M376.18 572.15h.01M414.12 593.76h.01M299.5 562.54h.01M288.93 581.55h.01M367.1 572.77h.01M360.6 577.6h.01M356.14 579.38h.01M294.7 596.98h.01M360.04 574.52h.01M285.44 572.2h.01M283.17 579.41h.01M303.43 589.99h.01M333.6 582.88h.01M472.38 547.35h.01M274.88 598.95h.01M312.96 581.7h.01M348.44 592.54h.01M285.5 571.12h.01M344.77 584.87h.01M389.63 595.55h.01M391.68 590.44h.01M283.33 595.34h.01M382.85 558.38h.01M326.28 596.22h.01M434.89 565.83h.01M300.6 578.17h.01M441.11 576.81h.01M345.14 584.25h.01M302.13 572.05h.01M330.36 579.66h.01M298.55 594.53h.01M375.77 582.2h.01M295.52 596.67h.01M356.58 588.79h.01M280.99 594.28h.01M365.83 588.08h.01M282.57 593.32h.01M354 556.37h.01M342.48 573.45h.01M310.32 576.7h.01M374.39 577.49h.01M391.77 571.84h.01M298.86 587.32h.01M382.76 583.23h.01M351.58 566.55h.01M393.99 579.88h.01M425.56 610.07h.01M305.17 602.43h.01M319.97 559.2h.01M343.26 571.96h.01M425.95 579.35h.01M374.4 588.51h.01M282.23 574.3h.01M390.1 587.17h.01M390.99 581.97h.01M338.48 575.77h.01M369.37 567.72h.01M309.65 585.68h.01M305.24 568.26h.01M364.7 589.31h.01M307.54 589.96h.01M351.87 584.46h.01M285.23 592.6h.01M337.25 605.32h.01M304.94 561.92h.01M375.16 580.07h.01M298.99 581.47h.01M362.1 566.34h.01M321.67 600.48h.01M343.32 573.92h.01M360.21 589.82h.01M306.25 580.04h.01M364.06 586.12h.01M303.36 585.93h.01M291.03 585.39h.01M337.15 590.41h.01M333.92 599.34h.01M418.89 551.01h.01M318.08 574.85h.01M382.66 588.81h.01M308.29 592.01h.01M300.15 580.08h.01M285.75 598.87h.01M284.98 608.35h.01M351.19 599.67h.01M301.57 587.84h.01M303.65 575.29h.01M373.82 581.77h.01M334.33 582.37h.01M422.4 564.99h.01M372.61 564.28h.01M341.91 576.35h.01M393.59 579.28h.01M347.63 587.1h.01M304.62 579.52h.01M283.3 591.39h.01M385.57 569.27h.01M402.47 577.28h.01M416.46 593h.01M341.28 582.76h.01M336.59 592.78h.01M297.15 595.02h.01M308.27 594.63h.01M303.69 574.4h.01M339.98 565.98h.01M331.9 594.41h.01M344.02 579.29h.01M411.51 590.54h.01M368.31 564.27h.01M428.37 580.18h.01M306.98 577.79h.01M349.05 579.02h.01M402.65 594.08h.01M346.67 585.36h.01M293.86 562.82h.01M287.37 591.52h.01M290.62 563.98h.01M353.42 584.17h.01M408.09 597.42h.01M339.56 597.86h.01M401.81 587.35h.01M382.81 601.31h.01M288.79 588.59h.01M393.98 608.69h.01M312.58 588.05h.01M371.27 598.56h.01M407.26 600.49h.01M369.44 575.12h.01M293.29 590.75h.01M370.16 595.7h.01M345.3 596.48h.01M326.47 591.32h.01M307.28 597.41h.01M312.53 588.19h.01M287.37 603.54h.01M400.87 582h.01M293.02 576.2h.01M298.61 594.45h.01M323.82 592.49h.01M365.96 589.49h.01M408.88 600.34h.01M348.47 572.45h.01M328.41 572.08h.01M350.81 566.8h.01M371.19 574.17h.01M382.68 588.39h.01M362.63 578.69h.01M375.85 573.45h.01M311.79 567.05h.01M368.16 594.48h.01M308.79 567.24h.01M353.51 570.82h.01M287.57 587.48h.01M399.21 589.08h.01M353.3 584.39h.01M334.83 603.54h.01M375.94 578.83h.01M282.7 587.76h.01M357.7 552.78h.01M342.57 575.44h.01M457.61 564.84h.01M286.59 587.68h.01M428.05 558.04h.01M405.58 571.88h.01M365 564.81h.01M308.28 585.5h.01M330.98 584.94h.01M295.62 600.26h.01M287.06 595.21h.01M438.01 564.45h.01M385.77 590.06h.01M308.57 590.79h.01M408.8 577.18h.01M331.36 574.91h.01M372.62 578.18h.01M290.26 575.18h.01M283.57 586.21h.01M306.01 607.39h.01M354.41 587.06h.01M278.53 593.27h.01M289.91 595.4h.01M333.81 598.52h.01M318.71 565.65h.01M371.33 578.41h.01M332.37 578.45h.01M413.47 590.99h.01M322.41 559.88h.01M295.27 595.29h.01M300.57 571.16h.01M345.44 566.97h.01M369.63 583.82h.01M306.42 578.99h.01M286.43 584.71h.01M410.1 574.85h.01M458.95 550.34h.01M390.54 580.92h.01M412.04 567.89h.01M353 589.04h.01M337.36 590.68h.01M336.57 591.51h.01M325.1 579.92h.01M407.1 586.75h.01M280.1 578.25h.01M313.48 591.92h.01M400.76 587.26h.01M398.12 567.34h.01M374.05 595.71h.01M383.37 574.44h.01M362.34 594.89h.01M327.46 576.33h.01M401.83 589.47h.01M339.31 587.41h.01M305.26 576.33h.01M407.21 585.79h.01M404.7 597.13h.01M339.43 563.75h.01M366.65 580.6h.01M374.66 577.3h.01M286.93 590.31h.01M425.3 593.05h.01M380.35 596.1h.01M359.2 565.94h.01M279.54 597h.01M357.66 597.48h.01M428.91 597.15h.01M308.29 593.08h.01M380.19 567.32h.01M366.4 581.83h.01M415.69 588.27h.01M354.22 575.09h.01M388.03 583.82h.01M289.75 581.3h.01M425.39 569.71h.01M314.72 546.03h.01M421.91 593.49h.01M417.85 577.64h.01M404.38 586.92h.01M391.6 582.79h.01M279.07 585.35h.01M339.59 570.86h.01M327.51 576.53h.01M306.54 598.05h.01M294.17 579.11h.01M298.7 566.62h.01M387.78 574.92h.01M405.83 601.3h.01M317.73 566.62h.01M355.9 566.75h.01M386.25 574.81h.01M401.19 587.96h.01M298.2 583.81h.01M450.56 563.87h.01M430.17 581.31h.01M292.19 585.89h.01M305.28 592.62h.01M299.65 585.52h.01M311.12 589.64h.01M346.86 607.02h.01M376.36 578.04h.01M278 591.48h.01M285.65 569.62h.01M360.45 598.8h.01M295.91 581.45h.01M304.48 572.61h.01M443.61 582.67h.01M275.66 596.73h.01M312.44 585.86h.01M387.19 583.97h.01M289.18 576.2h.01M317.86 598.5h.01M386.78 594.51h.01M290.92 595.24h.01M403.6 589.2h.01M328.94 573.22h.01M448.14 595.64h.01M414.34 580.98h.01M353.41 581.98h.01M298.9 574.64h.01M287.28 559.04h.01M296.47 581.79h.01M331.83 582.92h.01M320.02 580.93h.01M421.51 573.67h.01M375.53 590.45h.01M384.47 599.25h.01M346.1 580.99h.01M375.53 581.07h.01M437.36 582.96h.01M304.29 603.65h.01M298.38 571.02h.01M282.7 582.91h.01M416.5 584.91h.01M421.96 580.66h.01M280.96 592.03h.01M335.23 587.94h.01M407.7 593.68h.01M399.29 600.23h.01M356.19 574.32h.01M320.1 586.73h.01M412.24 600.13h.01M406.68 581.2h.01M361.77 589.43h.01M324.11 580.23h.01M324.43 584.82h.01M282.1 574.08h.01M307.87 580.85h.01M365.05 565.11h.01M281.46 587.55h.01M387.58 573.6h.01M293.21 568.08h.01M345.32 599.89h.01M348.69 566.65h.01M362.55 580.13h.01M295.88 584.44h.01M419.2 554.75h.01M377.14 561.31h.01M344.6 591.69h.01M421.75 576.56h.01M287.49 564.04h.01M308.59 589.04h.01M317.83 586.43h.01M287.64 583.36h.01M348.14 585.56h.01M281.18 586.93h.01M393.82 580.75h.01M437.12 568.45h.01M279.07 577.45h.01M417.08 582.18h.01M387.21 581.08h.01M289.17 604.43h.01M373.9 589.53h.01M329.51 605.19h.01M389.77 598.26h.01M346.19 588.23h.01M285.13 604.34h.01M326.1 597.77h.01M349.48 581.11h.01M364.8 584.3h.01M397.68 572.4h.01M346.38 601.23h.01M301.22 578.33h.01M366.48 566.09h.01M373.48 568.3h.01M375.8 577.72h.01M374.44 597.11h.01M346.17 601.84h.01M336.26 557.09h.01M358.9 573.71h.01M412.56 566.86h.01M331.58 572.89h.01M383.09 576.95h.01M285.09 589.47h.01M284.75 586.61h.01M290.24 593.85h.01M289.96 585.95h.01M300.28 586.61h.01M361.69 567.55h.01M380.97 580.63h.01M323.14 574.36h.01M337.75 584.83h.01M302.26 594.86h.01M311.17 567.87h.01M421.58 577.3h.01M283.77 586.09h.01M282.04 592.38h.01M394.24 583.22h.01M328.63 586.14h.01M292.73 581.6h.01M276.36 580.69h.01M421.72 594.02h.01M303.33 605.92h.01M390.91 584.65h.01M361.58 575.31h.01M307.4 581.29h.01M306.37 597.25h.01M387.81 561.03h.01M411.37 585.74h.01M352.29 588.75h.01M351.25 572.68h.01M411.89 594.15h.01M331.87 582.82h.01M290.34 569.9h.01M331.68 585.35h.01M292.67 590.32h.01M423.34 597.87h.01M415.62 595.88h.01M377.27 579.11h.01M396.43 557.72h.01M327.26 593.56h.01M328.24 567.75h.01M408.09 566.15h.01M407.48 564.55h.01M326.1 576.37h.01M342.82 582.6h.01M280.71 600.15h.01M318.63 577.23h.01M286.43 606.21h.01M464.5 557.44h.01M346.65 581.62h.01M367.95 568.39h.01M307.88 568.03h.01M416.19 574.28h.01M278.6 591.04h.01M318.26 581.24h.01M439.63 597.34h.01M412.67 580.76h.01M285.6 573.22h.01M377.48 577.6h.01M419.07 595.88h.01M398.89 591.09h.01M347.07 563.6h.01M289.44 584.96h.01M331.47 600.63h.01M287.13 593.36h.01M439.09 581.63h.01M400.98 579.66h.01M303.17 573.3h.01M376.92 587.03h.01M404.16 570.61h.01M346.21 577.04h.01M428.79 564.38h.01M293 576.63h.01M338.5 599.03h.01M342.24 586.73h.01M325.21 569.89h.01M334.37 569.38h.01M345.44 599.76h.01M306.8 577.43h.01M360.08 590.97h.01M386.65 589.12h.01M404.84 605.02h.01M336.88 599.2h.01M357.15 582.67h.01M324.91 599.72h.01M324.18 595.14h.01M402.96 581.14h.01M363.91 594.74h.01M315.73 597.74h.01M332.68 566.62h.01M310.68 591.95h.01M298.36 578.32h.01M416.87 582.98h.01M313.56 588.93h.01M293.94 594.7h.01M343.43 573.36h.01M420.74 563.15h.01M285.45 598.25h.01M363.43 600.54h.01M449.29 585.57h.01M287.53 569.22h.01M285.55 583.79h.01M370.89 606.64h.01M378.82 584.64h.01M467.56 575.45h.01M298.66 603.1h.01M331.17 573.54h.01M333.63 594.26h.01M324.53 576.31h.01M430.77 579.58h.01M407.05 585.59h.01M419.91 584.44h.01M301.85 594.08h.01M301.23 575.86h.01M383.95 555.86h.01M331.28 590.97h.01M403.78 591.2h.01M324.52 565.63h.01M300.74 597.66h.01M331.23 597.1h.01M395.03 588.54h.01M378.03 582.12h.01M326.8 600.11h.01M278.43 567.19h.01M347.17 593.29h.01M315.75 597.43h.01M379.29 563.82h.01M300.14 575.74h.01M322.47 581.98h.01M353.39 586.46h.01M352.05 574.47h.01M407.49 586.52h.01M324.44 587.29h.01M405.63 571.79h.01M311.03 580.26h.01M336.33 595.8h.01M306.46 561.71h.01M337.79 608.61h.01M367.12 587.32h.01M369.54 583.68h.01M388.59 584.27h.01M389.53 570.07h.01M397.76 583.41h.01M427.01 596.11h.01M417.6 589.5h.01M317.56 570.69h.01M288.8 587.35h.01M359.01 590.84h.01M290.47 569.49h.01M278.94 584.65h.01M330.94 587.96h.01M278.1 588.47h.01M289.2 569.08h.01M344.37 579.86h.01M347.77 579.77h.01M339.47 574.53h.01M318.93 592.26h.01M398.84 583.86h.01M438.68 591.84h.01M328.63 571.12h.01M301.01 581.5h.01M338.79 564.14h.01M405.34 575.5h.01M354.92 585.82h.01M359 582.96h.01M325.8 579.25h.01M327.64 572.3h.01M376.92 576.99h.01M374.23 585.01h.01M322.98 562.4h.01M417.17 577.97h.01M412.64 589.44h.01M330.16 595.35h.01M403.68 575.72h.01M280.65 580.1h.01M420.67 599.58h.01M464.42 573.31h.01M374.92 577.28h.01M336.87 589.78h.01M318.28 580.39h.01M361.3 573.08h.01M346.34 572.77h.01M419.05 573.9h.01M394.53 587.9h.01M292.58 608.71h.01M400.98 585.49h.01M367.6 585.51h.01M369.81 575.14h.01M400.88 565.39h.01M363.17 566h.01M310.87 573.39h.01M312.69 606.76h.01M281.59 602.36h.01M310.83 576.03h.01M377.02 590.88h.01M317.69 604.06h.01M297.51 597.14h.01M428.57 574.23h.01M303.01 562.07h.01M371.32 591.92h.01M433.36 578.6h.01M378.05 586.13h.01M299.38 608.08h.01M319.67 577.95h.01M433.88 583.4h.01M291.89 582.72h.01M355.57 580.09h.01M410.76 558.31h.01M413.13 599.49h.01M286.11 585.65h.01M294.05 581.89h.01M372.79 593.74h.01M370.11 564.39h.01M330.71 601.79h.01M360.94 541.32h.01M448.75 541.91h.01M406.35 540.55h.01M350.72 541.51h.01M327.01 540.2h.01M330.19 544.92h.01M322.88 547.47h.01M303.57 543.12h.01M372.34 545.5h.01M351.89 542.97h.01M359.11 540.67h.01M349.46 547.24h.01M325.74 623.09h.01M315.27 632.49h.01M308.7 625.28h.01M320.9 631h.01M313.58 629.81h.01M315.53 638.78h.01M326.07 632.1h.01M326 621.8h.01M329.56 625.54h.01M321.09 635.98h.01M320.77 634.28h.01M315.88 622.48h.01M321.73 625.61h.01M312.21 629.87h.01M332.55 622.29h.01M322.52 627.81h.01M321.9 629.11h.01M315.29 621.13h.01M313.97 634.03h.01M311.57 623.57h.01M305.67 631.5h.01M306.8 629.16h.01M327.13 619.08h.01M330.75 635.12h.01M311.39 639.37h.01M329.69 629.42h.01M312.67 636.96h.01M303.11 631.88h.01M323.4 630.45h.01M304.41 635.24h.01M326.32 621.92h.01M317.32 634.44h.01M331.48 620.03h.01M303.51 620.34h.01M312.12 624.16h.01M317.52 630.89h.01M319.92 624.56h.01M309.08 627.56h.01M332.94 634.63h.01M308.29 639.4h.01M357.46 621.03h.01M373.09 619.15h.01M399.24 633.61h.01M384.34 624.33h.01M383.09 630.35h.01M342.97 619.21h.01M348.73 622.31h.01M349.7 627.51h.01M370.35 619.68h.01M367.05 634.76h.01M374.98 632.36h.01M375.83 635.46h.01M329.6 643.57h.01M327.82 631.19h.01M328.17 644.15h.01M328.65 633.3h.01M328.75 643.2h.01M327.58 635.26h.01M329.4 637.44h.01M327.51 628.48h.01M327.86 633.91h.01M328.24 638.98h.01M328.61 642.32h.01M329.51 642.5h.01M327.92 639.83h.01M329.64 643.55h.01M328.84 637.26h.01M326.81 640.21h.01M330.01 639.97h.01M328.95 644.69h.01M327.39 636.75h.01M327.87 636.23h.01M294.83 609.45h.01M308.94 610.46h.01M294.69 615.48h.01M310.04 601.64h.01M296.37 615.21h.01M305.22 602.78h.01M309.33 604.88h.01M306.38 609.49h.01M304.54 614.39h.01M299.71 610.42h.01M309.5 615.34h.01M305.06 613.16h.01M307.05 616.65h.01M301.95 601.09h.01M297.36 613.34h.01M300 602.34h.01M299.94 613.57h.01M298.16 606.79h.01M308.62 614.71h.01M311.1 609.02h.01M307.91 604.87h.01M295.92 614.25h.01M304.26 603.5h.01M310.77 615.13h.01M308.56 616.39h.01M299.46 615.33h.01M295.72 606.49h.01M294.75 608.04h.01M301.11 603.47h.01M298.49 606.88h.01M295.06 610.59h.01M300.35 604.4h.01M298.93 612.32h.01M310.85 603.87h.01M309.31 608.48h.01M307.66 610.21h.01M305.74 613.3h.01M303.46 603.35h.01M302.84 601.42h.01M309.08 615.87h.01M307.12 605.62h.01M304.8 616.67h.01M295.03 613.34h.01M294.83 614.99h.01M300.64 601.04h.01M294.7 616.06h.01M306.02 602.72h.01M305.98 610.31h.01M302.08 606.12h.01M298.49 604.34h.01M294.5 614.51h.01M308.64 613.51h.01M302.11 604.06h.01M298.79 614.37h.01M307.18 603.65h.01M303.78 601.61h.01M299.55 605.19h.01M302.32 614.47h.01M299.51 615.26h.01M301.61 616.37h.01M308.64 615.28h.01M309.02 601.31h.01M307.7 605.15h.01M294.29 615.33h.01M294.23 616.18h.01M298.94 604.99h.01M308.06 605.49h.01M310.43 609.72h.01M297.44 610.49h.01M296.52 613.56h.01M308.88 607.24h.01M311.83 609.19h.01M308.26 608.6h.01M308.92 609.07h.01M295.66 600.33h.01M304.29 604.16h.01M305.18 604.85h.01M306.29 602.09h.01M305.36 602.98h.01M309.19 611.59h.01M295.48 616.2h.01M311.26 615.45h.01M306.52 606.17h.01M303.69 617.04h.01M296.76 602.13h.01M306.67 608.81h.01M295.13 608.88h.01M294.34 607.96h.01M306.19 607.32h.01M296.42 601.36h.01M301.32 614.24h.01M296.39 600.46h.01M306.26 612.7h.01M302.89 617.41h.01M311.32 605.09h.01M299.1 607.69h.01M307.45 614.51h.01M311.94 600.04h.01M308.47 607.06h.01M306.54 600.24h.01M300.39 613.3h.01M301.96 609.11h.01M308.62 612.34h.01M300.9 609.23h.01M299.38 604.84h.01M299.12 615.8h.01M309.73 612.76h.01M304.51 604.3h.01M305.43 600.55h.01M303.64 616.27h.01" stroke="#555" stroke-width="1.5" stroke-linecap="round" fill="none"/>
<path d="M290.64 610.27h.01M301.02 630.95h.01M265.51 644.2h.01M305.29 614.1h.01M299.98 628.27h.01M287.95 614.42h.01M293.42 644.73h.01M298.02 623.24h.01M300.27 624.65h.01M292 647.77h.01M276.47 632.12h.01M297.18 638.15h.01M262.66 650.77h.01M261.53 656.59h.01M283.57 623.36h.01M259.66 652.31h.01M266.83 656.91h.01M298.15 621.95h.01M307.61 623.76h.01M291.54 621.49h.01M287.9 646.71h.01M278.02 625.74h.01M300.92 633.25h.01M277.05 655.59h.01M292.55 620.14h.01M261.29 658.04h.01M299.1 620.29h.01M278.53 629.8h.01M291.8 647.02h.01M262.31 652.7h.01M262.64 648.35h.01M285.17 653.81h.01M264.62 643.32h.01M268.14 638.67h.01M290.86 622.42h.01M267.07 656.39h.01M264.71 643.94h.01M301.49 621.78h.01M267.86 641.2h.01M303.97 622.62h.01M304.14 627.47h.01M270.73 631.27h.01M273.43 632.43h.01M299.67 633.59h.01M282.87 623.16h.01M295.73 638.76h.01M266.35 642.15h.01M278.56 624h.01M280.24 655.49h.01M264.45 640.58h.01M297.39 615.07h.01M297.99 621.76h.01M263.46 654.21h.01M281.29 621.44h.01M298.21 618.07h.01M288.15 646.21h.01M264.24 645.35h.01M263.59 637.2h.01M286.02 652.62h.01M292.2 644.14h.01M293.4 641.51h.01M293.84 619.76h.01M295.93 617.56h.01M272 635.81h.01M286.27 624.37h.01M272.45 635.59h.01M267.23 639.41h.01M281.84 623.57h.01M299.39 628.26h.01M306.29 633.03h.01M264.46 644.72h.01M302.24 623.91h.01M277.78 655.09h.01M281.75 651.71h.01M261.23 655.98h.01M262.3 651.76h.01M312.81 620.09h.01M276.65 654.95h.01M297.61 635.88h.01M271.87 634.79h.01M273.46 632.64h.01M299.9 624.13h.01M273.6 657.67h.01M264.58 655.15h.01M279.67 628.75h.01M260.65 653.37h.01M294.26 640.27h.01M271.66 636.13h.01M270.67 657.09h.01M304.19 625.98h.01M269.97 638.16h.01M298.45 639.27h.01M283.51 624.28h.01M275.64 655.11h.01M290.05 646.79h.01M305.43 617.13h.01M271.01 634.31h.01M284.84 649.78h.01M303.56 631.36h.01M299.22 635.17h.01M297.07 638.71h.01M295.59 644.7h.01M275.11 631.98h.01M294.51 620.71h.01M308.18 643.45h.01M262.59 651.87h.01M303.6 625.21h.01M292.13 616.46h.01M303.36 627.91h.01M264.75 657.06h.01M267.99 634.1h.01M311.18 623.8h.01M303.82 626.11h.01M291.35 617.52h.01M304.03 627.31h.01M286.89 620.33h.01M269.15 634.97h.01M262.46 659.01h.01M285.39 623.59h.01M265.55 642.8h.01M303.21 626.89h.01M289.63 622.43h.01M264.91 658.36h.01M265.44 644.67h.01M274.19 633.89h.01M298.36 613.14h.01M259.57 652.36h.01M299.33 624.89h.01M302.1 629.85h.01M310.54 620.96h.01M293.08 617.22h.01M263.82 652.07h.01M268.3 639.41h.01M282.99 616.66h.01M267.11 641.26h.01M295.19 614.21h.01M286.6 622.68h.01M299.34 637.4h.01M282.76 654.4h.01M269.41 640.08h.01M276.32 654.98h.01M298.3 618.22h.01M281.79 653.07h.01M261.09 656.06h.01M298.77 634.34h.01M289.8 622.35h.01M295.78 641.83h.01M290.04 621.2h.01M281 628.21h.01M308.55 616.56h.01M313.1 625.35h.01M300.74 636.51h.01M291.6 643.21h.01M278.98 627.78h.01M281.36 656.1h.01M298.56 633.6h.01M300.58 626.57h.01M285.84 652.65h.01M301.07 633.37h.01M288.81 649.07h.01M265.94 643.79h.01M290.62 645.79h.01M291.17 622.86h.01M279.23 654.54h.01M298.3 624.12h.01M263.59 654.6h.01M275.29 658.9h.01M290.74 622.88h.01M299.74 633.88h.01M312.23 610.09h.01M278.17 628.28h.01M262.65 638.56h.01M297.75 640.85h.01M262.06 647.07h.01M264.09 641.45h.01M261.16 648.82h.01M265.19 643.58h.01M269.43 634.58h.01M266.28 643.08h.01M303.81 620.11h.01M264.17 651.49h.01M288.15 646.07h.01M260.55 655.22h.01M266.02 641.32h.01M302.69 631.06h.01M280.56 657.33h.01M265.78 642.54h.01M289.61 647.22h.01M293.07 622.78h.01M295.02 622.21h.01M301.81 619.47h.01M268.43 657.32h.01M264.8 644.08h.01M304.24 613.53h.01M274.86 655.73h.01M262.97 643.98h.01M293.14 643.57h.01M293.94 620.37h.01M298.43 620.96h.01M269.44 637.66h.01M260.64 653.91h.01M266.77 644.53h.01M267.38 638.29h.01M278.25 655.41h.01M284.65 652.83h.01M288 647.7h.01M301.3 626.86h.01M300.77 625.59h.01M297.28 636.63h.01M272.06 633.55h.01M295.98 621.3h.01M263.96 645.59h.01M298.18 632.64h.01M263.63 637.25h.01M307.15 616.69h.01M300.68 625.46h.01M267.77 641.69h.01M260.83 658.93h.01M282.61 627.2h.01M298.61 632.7h.01M282.78 651.12h.01M295.33 622.01h.01M270.52 632.2h.01M265.41 646.42h.01M259.51 658.02h.01M263.62 655.96h.01M267.29 657.97h.01M295.86 622.58h.01M304.74 615.38h.01M263.56 656.42h.01M295.83 637.82h.01M268.87 640.44h.01M305 626.32h.01M290.05 644.75h.01M282.62 652.08h.01M298.2 623.87h.01M304.47 611.52h.01M306.08 619.62h.01M272.49 656.3h.01M287.43 623.7h.01M285.81 623.54h.01M268.65 637.52h.01M285.59 622.67h.01M298.57 631.72h.01M294.44 643.38h.01M292.98 619.44h.01M283.4 626h.01M299.5 620.22h.01M262.18 657.06h.01M290 646.49h.01M272.78 656.87h.01M270.53 656.32h.01M285.27 624h.01M303.13 630.96h.01M280.56 625.87h.01M290.91 643.49h.01M295.65 637.29h.01M263.55 652.69h.01M273.97 656.82h.01M282.02 627.62h.01M263.68 655.26h.01M284.88 648.94h.01M287.68 647.34h.01M271.19 658.95h.01M277.86 654.38h.01M268.57 657.3h.01M290.35 618.32h.01M304.27 631.42h.01M298.32 622.97h.01M260.78 654.16h.01M277.83 630.63h.01M268.49 640.46h.01M260.58 642.61h.01M302.51 618.92h.01M274.41 633.26h.01M263.62 654.87h.01M303.63 628.8h.01M284.56 650.86h.01M289.77 646.06h.01M265.8 656.24h.01M294.21 643.57h.01M287.67 622.4h.01M288.99 623.66h.01M263.52 653.24h.01M274.98 632.41h.01M290.37 622.74h.01M297.96 623.72h.01M301.56 607.64h.01M283.68 625.09h.01M289.97 656.82h.01M288.58 652.46h.01M262.13 648.17h.01M287.09 619.29h.01M301.12 622.06h.01M269.57 635.08h.01M270.62 657.1h.01M297.35 616.51h.01M260.1 651.2h.01M266.74 638.95h.01M280.99 624.02h.01M285 651.52h.01M277.42 655.9h.01M299.55 619.51h.01M272.53 629.27h.01M271.89 634.87h.01M264.81 658.9h.01M276.17 655.88h.01M267.24 658.61h.01M302.17 619.1h.01M284.67 621.83h.01M292.54 622.34h.01M280.57 655.94h.01M266.77 655.98h.01M283.52 652.63h.01M298.98 636.8h.01M299.89 615.31h.01M266.51 657.85h.01M293.59 614.02h.01M265.22 656.18h.01M271.62 637.13h.01M264.45 647.86h.01M300.82 629.45h.01M260.87 650.48h.01M295.98 646.95h.01M299.51 641.03h.01M262.69 648.73h.01M303.97 628.75h.01M304.83 621.98h.01M298.79 624.03h.01M269.13 639h.01M307.65 619.19h.01M265.64 642.83h.01M298.37 618.44h.01M279.5 653.32h.01M276.88 656.81h.01M266.95 641.66h.01M299.25 632.5h.01M289.09 622.82h.01M266.61 641.03h.01M271.48 657.46h.01M307.03 621.49h.01M276.32 631.72h.01M279.22 656.54h.01M276.08 658.17h.01M298.81 615.57h.01M266.79 643.73h.01M295.25 621.47h.01M265.05 655.25h.01M263.9 646.49h.01M274.19 625.56h.01M284.36 625.69h.01M279.78 624.32h.01M297.3 634.07h.01M301.15 633.69h.01M294.88 617.9h.01M309.48 613.5h.01M263.22 651.88h.01M291.59 620.88h.01M272.92 633.95h.01M300.41 621.84h.01M287.76 617.19h.01M295.31 621.22h.01M261.25 641.88h.01M273.5 634.1h.01M281.7 654.19h.01M290.44 620.58h.01M264 650.3h.01M292.79 650.33h.01M273.04 658.84h.01M277.16 631.73h.01M277.05 655.4h.01M299.45 628.03h.01M277.96 628.87h.01M303.6 627.68h.01M291.09 622h.01M299.77 629.4h.01M266.95 657.3h.01M287.06 647.27h.01M291.3 614.8h.01M286.74 618.26h.01M284.74 623.5h.01M283.61 652.88h.01M273.2 632.4h.01M282.32 655.89h.01M295.15 637.98h.01M292.67 622.86h.01M285.86 621.2h.01M289.76 646.77h.01M282.87 651.94h.01M299.11 629.31h.01M280.27 626.23h.01M267.33 638.53h.01M270.86 638.13h.01M263.68 644.39h.01M288.06 646.91h.01M265.63 643.35h.01M298.7 621.11h.01M283.28 624.25h.01M289.96 621.54h.01M281.11 651.96h.01M264.32 651.33h.01M284.76 649.48h.01M266.25 637.02h.01M282.78 657.91h.01M261.64 656.77h.01M262.57 643.33h.01M289.81 619.57h.01M283.5 650.04h.01M305.38 624.78h.01M276.97 656.65h.01M291.99 621.77h.01M263.75 648.12h.01M297.24 621.01h.01M270.49 637.03h.01M300.02 627.57h.01M280.56 624.3h.01M283.85 649.98h.01M295.07 616.91h.01M266.5 642.35h.01M274.25 658.49h.01M271.49 636.81h.01M261.53 650.24h.01M287.67 648.33h.01M263.88 648.52h.01M268.77 640.9h.01M271.5 633.84h.01M264.93 644.98h.01M266.19 656.05h.01M266.5 656.69h.01M274.23 657.33h.01M288.46 650.65h.01M278.32 626.86h.01M286.31 624.1h.01M285.31 650.01h.01M263.9 656.25h.01M295.33 642.76h.01M267.66 657.16h.01M275.21 656.8h.01M272.21 629.19h.01M309.66 614.85h.01M263.17 657.04h.01M260.04 649.46h.01M284.9 624.67h.01M292.51 643.57h.01M261.33 658.43h.01M304.1 622.62h.01M298.27 621.44h.01M267.89 656.27h.01M300.64 609.38h.01M264.99 649.37h.01M295.2 640.39h.01M303.8 624.59h.01M294.29 639.82h.01M308.45 618.62h.01M269.1 634.97h.01M277.09 658.17h.01M287.66 623.12h.01M289.61 650.26h.01M291.88 645.78h.01M278.42 654.14h.01M304.37 624.33h.01M289.18 646.15h.01M279.47 653.29h.01M279.74 656h.01M268.18 658.65h.01M306.12 615.55h.01M310.03 615.68h.01M298.76 620.96h.01" stroke="#555" stroke-width="1.5" stroke-linecap="round" fill="none"/>
<defs><radialGradient id="rg"><stop offset="0" stop-color="#d6d6d6"/><stop offset="0.42" stop-color="#bcbcbc"/><stop offset="0.75" stop-color="#8c8c8c"/><stop offset="1" stop-color="#606060"/></radialGradient></defs>
<ellipse cx="0" cy="0" rx="26.5" ry="10.4" fill="url(#rg)" transform="translate(281.8,639.8) rotate(-44)"/>
<path d="M274.38 635.79h.01M290.66 642.86h.01M287.54 645.58h.01M286.62 646.37h.01M288.83 625.03h.01M280.11 650.89h.01M291.38 624.99h.01M278.9 652.98h.01M280.42 652.07h.01M297.55 629.36h.01M281.08 629.08h.01M273.47 636.62h.01M294.93 623.1h.01M298.63 625.38h.01M282.01 629.44h.01M267.39 652.54h.01M277.64 632.75h.01M292.52 639.61h.01M270.27 640.51h.01M290.32 624.36h.01M279.54 651.72h.01M267.36 646.1h.01M266.59 649.77h.01M290.83 623.54h.01M267.14 651.91h.01M267.05 645.38h.01M281.8 629.11h.01M284.38 627.08h.01M267.44 653.7h.01M287.79 645.22h.01M294.07 624.95h.01M293.23 639.35h.01M279.22 652.81h.01M277.51 632.89h.01M294.54 637.13h.01M280.84 651.33h.01M280.73 630.2h.01M288.75 644.84h.01M296.67 631.98h.01M299.15 628.53h.01M283.94 649.5h.01M266.18 649.76h.01M296.01 635.72h.01M269.23 642.68h.01M295.41 634.84h.01M268.58 654.32h.01M285.33 648.14h.01M294.36 636.86h.01M285.67 626.48h.01M275.41 633.66h.01M271.12 639.77h.01M269.46 654.67h.01M280.58 630.19h.01M283 649.12h.01M285.76 647.43h.01M275.26 653.5h.01M269.29 655.93h.01M294.04 638.22h.01M278 631.67h.01M287.1 625.19h.01M282.01 628.6h.01M266.76 650.09h.01M266.84 650.9h.01M267.12 645.14h.01M272.44 636.61h.01M279.26 630.66h.01M279.47 630.59h.01M291.4 641.23h.01M266.07 651.48h.01M295.23 635.08h.01M293.27 639.29h.01M292.69 639.03h.01M265.92 647.95h.01M296.1 635.33h.01M274.12 635.79h.01M268.28 655.94h.01M297.02 631.8h.01M290.42 643.55h.01M268.27 655.6h.01M265.57 647.82h.01M289.07 644h.01M289.35 624.06h.01M267.48 653.19h.01M290.81 624.7h.01M286.94 646.75h.01M291.86 641.6h.01M297.56 628.69h.01M275.2 654.21h.01M296.76 633.49h.01M277.26 653.58h.01M265.68 653.05h.01M291.88 623.22h.01M270.08 639.69h.01M267.07 654.56h.01M269.59 654.16h.01M289.71 624.06h.01M287.85 625.92h.01M286.47 625.62h.01M283.14 648.82h.01M290.4 623.69h.01M296.67 625.9h.01M292.97 639.62h.01M273 636.37h.01M282.43 628.72h.01M280.02 651.29h.01M270.36 640.15h.01M266.58 650.66h.01M297.28 625.08h.01M283.21 627.59h.01M270.17 654.97h.01M296.88 625.58h.01M265.89 650.67h.01M290.63 623.47h.01M268.36 645.04h.01M272.23 638.6h.01M281.57 629.69h.01M296.84 626.47h.01M296.76 627.11h.01M268.29 656.14h.01M293.15 638.99h.01M268.74 654.66h.01M271.27 654.88h.01M298.19 626.73h.01M273.3 636.84h.01M269.3 641.54h.01M266.45 647.35h.01M278.22 631.14h.01M277.31 632.68h.01M282.55 628.51h.01M294.54 636.89h.01M268.17 653.58h.01M274.81 653.53h.01M297.41 629.9h.01M293.57 639.72h.01M267.63 645.77h.01M278.45 652.91h.01M291.51 642.21h.01M279.35 652.27h.01M274.45 654.69h.01M292.33 623.33h.01M274.72 653.52h.01M284.33 627.59h.01M297.58 629.32h.01M293.09 623.79h.01M267.89 645.26h.01M297.13 630.73h.01M295.56 623.76h.01M272.87 637.21h.01M295.88 625.78h.01M296.48 634.62h.01M285.66 625.96h.01M291.13 642.11h.01M279.95 630.17h.01M293.92 624.36h.01M295.31 624.2h.01M276.79 633.38h.01M296.99 631.9h.01M296.29 633.89h.01M278.21 652.38h.01M266.83 646.98h.01M270.1 641.72h.01M296.01 634.15h.01M267.58 652.99h.01M267.28 654.45h.01M287.7 646.14h.01M279.29 651.95h.01M277.05 633.48h.01M288.47 644.24h.01M268.66 641.77h.01M290.9 624.9h.01M272.1 655.63h.01M273.18 654.36h.01M291.1 641.85h.01M296.82 632.08h.01M292.7 624.53h.01M270.36 640.14h.01M286.47 626.23h.01M273.01 637.16h.01M268.14 653.37h.01M272.28 655.39h.01M281.26 650.1h.01M295.46 623.93h.01M270.99 638.48h.01M297.22 629.49h.01M266.99 653.19h.01M276.05 632.93h.01M265.79 651.16h.01M285.23 648.45h.01M268.37 644.98h.01M266.29 647.62h.01M291.86 623.35h.01M281.66 629.06h.01M298.56 626.15h.01M269.54 654.98h.01M279.07 630.9h.01M281.91 628.9h.01M266.19 646.27h.01M265.55 648.25h.01M296.04 625.42h.01M288.38 625.19h.01M292.5 639.78h.01M273.65 635.37h.01M265.76 654.79h.01M297.18 633.35h.01M270.15 641.53h.01M275.06 654.53h.01M276.35 633.88h.01M267.05 648.48h.01M273.07 637.04h.01M283.91 649.43h.01M266 650.61h.01M291.12 641.44h.01M275.92 633.65h.01M289.47 644.58h.01M265.4 652.31h.01M296.17 634.74h.01M295.69 636.51h.01M273.58 654.78h.01M287.21 646.16h.01M266.69 646.74h.01M272.6 636.78h.01M273.57 635.99h.01M281.17 651.59h.01M274.82 635.25h.01M292.11 641.32h.01M268.27 643.39h.01M287.47 624.69h.01M267.85 653.44h.01M295.26 624.63h.01M297.15 627.71h.01M281.01 651.65h.01M271.57 654.99h.01M279.04 652.79h.01M293.14 640.06h.01M296.81 625h.01M282.54 650.58h.01" stroke="#585858" stroke-width="1.4" stroke-linecap="round" fill="none"/>
<path d="M294.09 625.44h.01M292.64 627.74h.01M278.57 650.5h.01M282.16 629.85h.01M288.89 641.91h.01M288.72 642.58h.01M271.81 641.89h.01M275.22 653.05h.01M270.5 643.5h.01M270 653.06h.01M285.3 646.8h.01M288.19 642.33h.01M289.21 642.52h.01M295.98 628.96h.01M294.03 635.2h.01M275.69 651.58h.01M271.12 653.85h.01M292.42 637.21h.01M289.55 641.49h.01M268.85 645.57h.01M271.41 642.78h.01M276.28 635.03h.01M281.89 630.57h.01M290.73 640.36h.01M270.21 652.56h.01M278.86 650.16h.01M290.81 639.44h.01M273.1 639.95h.01M294.16 625.48h.01M278.44 650h.01M293.1 636.89h.01M287.88 643.59h.01M291.73 625.58h.01M290.88 627.43h.01M272 653.81h.01M281.82 648.82h.01M288.18 626.68h.01M270.67 643.38h.01M284.19 647.5h.01M294.54 626.93h.01M293.39 627.73h.01M282.92 647.8h.01M268.77 652.57h.01M270.49 643.54h.01M292.58 626.07h.01M284.98 646.5h.01M271.64 651.82h.01M291.23 639.42h.01M284.99 627.58h.01M294.34 632.39h.01M285.19 645.81h.01M282.02 630.21h.01M284.36 646.09h.01M290.72 625.32h.01M285.76 628.66h.01M278.33 650.99h.01M273.4 653.74h.01M268.86 645.33h.01M285.71 645.24h.01M289.27 642.89h.01M288.55 627.24h.01M288.54 627.56h.01M290.93 640.03h.01M296.41 630.99h.01M271.15 640.86h.01M270.41 651.7h.01M293.61 634.05h.01M273.47 637.31h.01M290.31 627.42h.01M283.19 647.29h.01M294.54 632.77h.01M269.15 650.09h.01M294.5 628.04h.01M273.47 651.62h.01M274.6 636.72h.01M285.37 646.34h.01M283.88 647.03h.01M273.91 636.88h.01M272.68 640.13h.01M267.44 651.24h.01M290.54 626.43h.01M294.59 628.28h.01M269.38 652.51h.01M296.89 629.53h.01M280.52 631.97h.01M287.99 644.45h.01M290.73 625.3h.01M279.73 632.66h.01M269.8 645.94h.01M281.05 648.91h.01M292.1 626.72h.01M269.04 645.71h.01M273.1 653.49h.01M286.51 627.2h.01M269.24 653.56h.01M286.93 626.78h.01M282.8 630.14h.01M286.85 645.21h.01M280.83 649.22h.01M269.61 646.9h.01M294.05 635.25h.01M271.24 641.97h.01M293.73 635.56h.01M279.23 632.98h.01M272.17 640.25h.01M272.94 651.79h.01M294.72 635.12h.01M279.59 650.64h.01M279.4 632.89h.01M293.96 632.79h.01M273.24 637.83h.01M295.85 628h.01M295.17 633.09h.01M275.08 636.84h.01M292.9 628h.01M285.17 629.07h.01M285.77 645.95h.01M273.13 652.05h.01M267.91 649.32h.01M292.28 627.55h.01M271.24 641.09h.01M270.59 641.19h.01M267.66 650.01h.01M296.59 630.51h.01" stroke="#6a6a6a" stroke-width="1.3" stroke-linecap="round" fill="none"/>
<path d="M328.8 425.8V660.3M258.4 616.3H492.2" stroke="#333" stroke-width="0.8" fill="none"/>
<text x="261.7" y="436" font-size="9.8" fill="#222">35.6%</text>
<text x="461" y="436" font-size="9.8" fill="#222">36.2%</text>
<text x="262.4" y="674.2" font-size="9.8" fill="#222">25.9%</text>
<path d="M290.2 677.3H446.5" stroke="#111" stroke-width="1.1"/>
<path d="M454.5 677.3L445.5 675.3V679.3Z" fill="#111"/>
<path d="M238.7 611.8V470" stroke="#111" stroke-width="1.0"/><path d="M238.7 463l-1.7 8.5h3.4Z" fill="#111"/>
<text x="285" y="702.8" font-size="21.6" textLength="179.4" lengthAdjust="spacingAndGlyphs" stroke="#111" stroke-width="0.3">APF Fluorescence</text>
<text x="289.5" y="725.7" font-size="21.6" textLength="168.3" lengthAdjust="spacingAndGlyphs" stroke="#111" stroke-width="0.3">(ROS production)</text>
<text transform="translate(199,613) rotate(-90)" font-size="21.2" textLength="145.8" lengthAdjust="spacingAndGlyphs" stroke="#111" stroke-width="0.3">TRITCzymosan</text>
<text transform="translate(223.2,606.2) rotate(-90)" font-size="21.2" textLength="132.2" lengthAdjust="spacingAndGlyphs" stroke="#111" stroke-width="0.3">internalization</text>
</svg></body></html>
